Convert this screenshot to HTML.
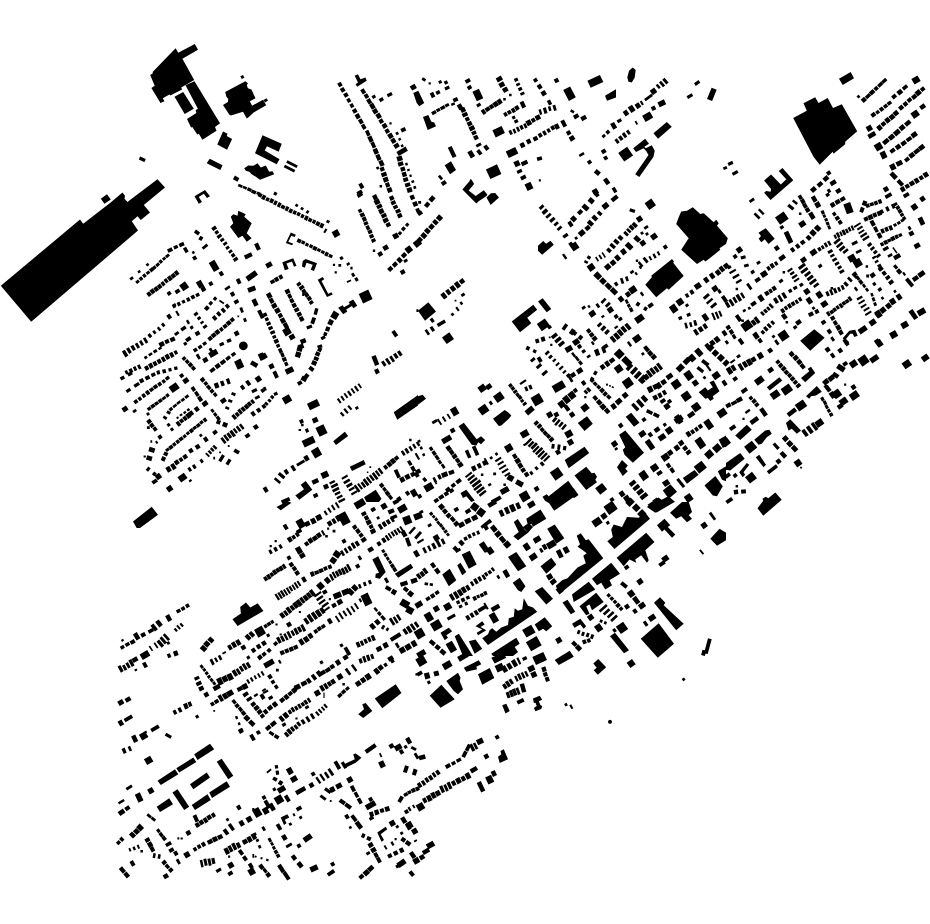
<!DOCTYPE html>
<html><head><meta charset="utf-8"><title>Figure ground map</title>
<style>html,body{margin:0;padding:0;background:#fff}svg{display:block}</style></head>
<body><svg width="930" height="924" viewBox="0 0 930 924" shape-rendering="geometricPrecision">
<rect width="930" height="924" fill="#fff"/>
<path fill="#000" d="M175.6,48.2L178.2,52.7L194.8,44.1L198,49.7L182.4,58.8L194.2,80L181.2,87.6L182.1,89.5L170.3,95.5L169.5,94.4L162.7,98.2L164.5,101.2L160.5,103L151.4,87.9L154.7,85.8L150.2,75L152.9,73.2L152.6,72.1ZM185.5,85.3L194.5,81.2L220,123.2L215,127L216.5,130.8L202.4,139.8L198.8,133.8L197.3,134.5L192.3,127L191.1,127.4L187,119.1L196.4,113L195.6,110.3L197.9,108.8ZM174.5,96.7L183.2,92.1L193.8,108.8L184.7,114.1ZM240.3,76.2L243,75L244.5,77.7L241.8,78.9ZM225.2,92.1L245.3,81.2L247.9,83.3L246.8,85.3L247.9,88.3L251.4,89.5L255.5,98.2L249.8,101.2L252.1,105.8L263,99.7L266.2,105.3L253.6,112.6L249.4,116.4L246.8,118.6L243,111.8L230.9,115.6L229.4,114.8L223,105L227.9,102L228.3,98.9L226.4,96.7ZM263.5,100L266.5,98.2L268,100.5L265,102.4ZM223,131.5L227.6,133.8L226.7,136.1L232.1,139.1L227.1,149.7L217.3,144.4ZM209.7,158.8L222.6,165.3L220.3,170L206.7,163.3ZM140,156.5L145.8,159.5L144.5,161.8L139.2,158.8ZM0.8,285.8L80,219.5L83.2,223.8L110,203L122.5,192.5L125,195.8L124.5,198.8L127.5,202L130,200L157.5,179.2L165,187.5L143.8,205L150,212.5L140.8,220L137.5,216.2L131.8,221.2L138,230.5L31.2,321.8ZM100.8,198.8L107,194.2L110.8,199.5L104.5,203.8ZM140.3,156.4L145.7,158.9L144.2,162.1L138.8,159.6ZM194.5,196.2L205,190L210,196.2L207,198L203.8,193.8L198.8,197L202,202L198.8,203.8ZM129.4,278.2L132.3,276.2L133.9,278.5L131,280.5ZM135.2,281.7L138,279.4L139.9,281.8L137.1,284.1ZM138.6,278.4L141.2,276.3L143.4,279L140.8,281.1ZM142,275.3L144.6,273.2L146.8,275.9L144.3,278.1ZM145.6,272.8L148.5,270.4L150.4,272.7L147.5,275.1ZM148.9,269.6L151.8,267.2L154.2,270.1L151.3,272.5ZM137.3,271.5L139.6,269.8L141,271.9L138.7,273.5ZM145.6,264.5L147.9,262.8L149.4,264.9L147.1,266.5ZM151.9,267.6L154.5,265.3L156.7,267.8L154.1,270ZM155.2,264.9L158.1,262.3L160.1,264.6L157.2,267.2ZM158.4,261.3L160.8,259.2L163.1,261.8L160.7,264ZM161.9,258.7L164.4,256.5L166.3,258.6L163.8,260.8ZM165,256.1L168.1,253.4L170,255.6L166.9,258.3ZM167,249.4L171.5,247.3L173.1,250.7L168.5,252.7ZM173.2,246.5L177,244.8L178.4,247.8L174.5,249.6ZM178.5,243.9L183.2,241.8L184.7,245.2L180.1,247.3ZM182.9,248.5L186,246.7L188.7,251.5L185.7,253.3ZM191.6,252L193.8,250.8L195,253L192.9,254.2ZM192,257.3L195.4,255.4L197.3,258.7L194,260.6ZM146.2,293.4L149.2,291.2L151.9,294.7L148.9,297ZM149.5,290.7L152.6,288.3L155.5,292.1L152.4,294.5ZM153.3,288.4L156.3,286.1L159.1,289.7L156.1,292ZM156.8,286L159.9,283.6L162.5,287L159.4,289.4ZM160.4,283L163,281L165.6,284.5L163.1,286.5ZM163.5,279.9L166.1,277.9L168.8,281.5L166.2,283.5ZM166.8,277.6L169.9,275.2L172.8,279.1L169.8,281.4ZM170.4,275.3L173.6,272.8L176.2,276.2L173,278.7ZM173.7,272.3L176.7,270L179.5,273.7L176.6,276ZM166.5,292.9L169.6,290.7L171.8,293.8L168.7,296ZM174.4,291.1L178.4,288.4L180.6,291.5L176.6,294.3ZM179.2,285.5L185,281.3L189.2,287.2L183.3,291.3ZM195.9,229.6L200.1,232.5L198.1,235.4L193.9,232.5ZM200.4,235.7L203.4,237.4L201.3,241L198.3,239.3ZM201.7,247.6L206.5,243.6L208.3,245.8L203.5,249.7ZM215.1,225.5L217.1,228.4L213.3,231.1L211.2,228.3ZM217.3,229.9L219.2,232.6L216.2,234.7L214.3,231.9ZM220.4,233.4L222.3,236.1L218.4,238.9L216.5,236.2ZM223,237.6L224.7,240L221.4,242.3L219.7,239.9ZM226.1,241.3L227.6,243.6L224.3,245.9L222.7,243.7ZM228.2,245.5L229.9,247.8L226.9,249.9L225.3,247.6ZM231.2,249.2L232.9,251.5L229.7,253.7L228.1,251.4ZM233.6,252.8L235.7,255.7L232.7,257.8L230.6,254.9ZM236.6,256.6L238.5,259.3L234.7,261.9L232.8,259.3ZM208.7,262.9L214.4,259.7L219.6,268.8L214,272ZM218.5,272.7L221.9,270.8L224.1,274.7L220.8,276.6ZM254.1,244.3L257.9,242.5L260.9,249L257.1,250.8ZM243.9,255.6L251,252.3L252.8,256.1L245.7,259.4ZM245.4,276.9L254.8,270.3L258,274.8L248.5,281.4ZM235.8,279.7L239.2,278L241.6,283L238.1,284.6ZM247.2,288.2L254.5,285.6L256.2,290.1L248.8,292.8ZM251.4,300.2L255.5,298.3L258.6,304.8L254.5,306.7ZM257.2,311L260.7,309.4L264.4,317.4L261,319ZM195.8,282.4L200.6,279.7L204.2,285.9L199.4,288.6ZM208.2,283L211.5,281L213.5,284.4L210.1,286.3ZM200.3,288.3L204.2,286.1L206.4,290L202.5,292.2ZM224.4,288.6L229.2,285.3L230.6,287.4L225.8,290.7ZM233.2,291.3L235.3,295.1L231.9,296.9L229.8,293.2ZM237.6,299.1L239.3,302.3L235.3,304.5L233.5,301.3ZM171.9,305.3L174.7,303.9L176.3,307L173.5,308.4ZM176.6,303.1L179.4,301.6L181.1,305L178.3,306.5ZM181.3,300.9L184.2,299.4L185.7,302.4L182.8,303.8ZM185.9,298.6L188.9,297.1L190.7,300.6L187.7,302.1ZM190.3,296.2L193.7,294.5L195.4,298L192.1,299.6ZM195.2,294.2L198.5,292.6L200,295.5L196.7,297.2ZM169.4,313.6L172.1,317.5L169,319.7L166.2,315.8ZM175.2,311.5L177.1,310.4L179.8,315.2L177.9,316.3ZM171.8,305.1L175.1,303.1L176.5,305.6L173.2,307.5ZM121.9,351.5L124.8,349.7L128.4,355.6L125.4,357.4ZM126.1,348.7L128.8,347.2L131.8,352.3L129.2,353.9ZM130.3,346.5L133.2,344.8L135.9,349.4L133.1,351.1ZM134.8,344.1L137.2,342.6L140.1,347.3L137.6,348.8ZM139,341.5L141.3,340.1L144,344.6L141.7,346ZM142.9,338.6L145.3,337.2L148.3,342.3L145.9,343.7ZM147.4,335.1L149.8,333.1L152.3,336.2L149.9,338.2ZM152.2,331.6L154.3,329.9L156.6,332.8L154.5,334.4ZM156.8,328L158.7,326.4L161.4,329.7L159.4,331.3ZM160.9,324.2L163.1,322.5L165.5,325.4L163.3,327.2ZM143.8,357.1L146.3,355.4L147.8,357.7L145.2,359.4ZM148.1,354.3L151.4,352.2L152.8,354.3L149.5,356.4ZM152.8,351.1L156.1,349L157.6,351.4L154.3,353.5ZM157.9,348.3L160.8,346.4L162.2,348.4L159.2,350.3ZM158.4,343.3L163.1,341.1L165,345.3L160.4,347.5ZM164.3,340.5L168.1,338.8L169.7,342.4L165.9,344.2ZM169.5,338.4L173.9,336.4L175.7,340.2L171.2,342.3ZM174,333.7L177.7,330.9L179.5,333.2L175.8,336ZM180.2,328.7L184.6,325.4L186.7,328.2L182.3,331.5ZM185.9,320.8L188,319.6L190.1,323.2L188,324.4ZM189.5,326.9L192.2,325.3L193.8,328.1L191.1,329.7ZM196.7,311.6L198.5,314.1L195.2,316.5L193.4,314ZM199.7,315.9L201.4,318.2L198.5,320.4L196.8,318.1ZM202.8,320.4L204.2,322.3L201.3,324.5L199.9,322.5ZM205.9,324.2L207.7,326.6L204.2,329.1L202.4,326.7ZM203.9,308.4L206.8,305.2L209.8,307.9L206.9,311.1ZM208.3,303.5L210.8,300.8L213.1,302.9L210.7,305.7ZM212.7,298.9L215,296.3L217.4,298.5L215.1,301.1ZM211.8,317.5L214.4,315.1L217.5,318.5L214.9,320.9ZM216,313.4L218.5,311.1L221.5,314.5L219.1,316.7ZM220.5,309.7L223,307.5L226.1,311L223.7,313.2ZM224.7,305.8L227.2,303.5L230,306.6L227.5,308.9ZM219.9,299.7L224.4,302.8L223.4,304.3L218.9,301.2ZM207.3,338.3L210.5,335.6L213,338.7L209.8,341.3ZM210.7,335L214.1,332.3L216.7,335.4L213.3,338.2ZM214.3,331.7L217.7,329L220.5,332.4L217.1,335.2ZM218.9,329L221.6,326.8L223.9,329.7L221.3,331.9ZM222.3,326.1L225.6,323.5L227.9,326.4L224.7,329ZM225.6,322.7L229,319.9L231.8,323.3L228.4,326.1ZM229.6,319.6L232.6,317.1L235,320L232,322.4ZM239.4,307.9L242.1,306.9L243.9,312.1L241.3,313.1ZM243,318.7L245.7,317.7L247,321.3L244.3,322.3ZM237.4,315.4L239.2,315.4L239.2,317.2L237.4,317.2ZM233.6,332.5L237.5,330.3L239.7,334.2L235.8,336.4ZM247.7,345.8L247.5,347.2L246.8,348.4L245.9,349.3L244.7,350L243.3,350.2L242,350L240.8,349.3L239.8,348.4L239.2,347.2L239,345.8L239.2,344.5L239.8,343.3L240.8,342.3L242,341.7L243.3,341.5L244.7,341.7L245.9,342.3L246.8,343.3L247.5,344.5ZM192.7,349.6L196,347.4L198,350.4L194.7,352.6ZM197.5,346.7L200.8,344.5L202.7,347.3L199.4,349.5ZM202.1,343.3L205.3,341.2L207.1,343.8L203.9,346ZM195.7,355L198.2,353.6L200.9,358.3L198.5,359.8ZM202.1,359.3L206.3,356.8L208.6,360.7L204.4,363.2ZM208.1,353.2L215.8,348.7L218.5,353.5L210.9,357.9ZM208.6,349L211.1,347.6L213,351L210.6,352.4ZM219,343.7L223.1,341.8L224.4,344.8L220.3,346.6ZM226.3,340L230.4,338.2L231.8,341.3L227.7,343.1ZM209.2,370.2L213.5,366.9L215.8,369.8L211.4,373.1ZM214.4,365.8L218.4,362.8L221,366.2L217,369.2ZM219.6,362.2L223.9,358.9L226.3,362L221.9,365.3ZM225.2,358.3L229,355.3L231,357.9L227.2,360.9ZM230.7,354.3L234.2,351.7L236.2,354.3L232.7,356.9ZM234.1,361.7L240.5,358.6L244.3,366.7L237.8,369.7ZM252.2,360.4L258.4,364L256.1,367.9L249.9,364.3ZM257.7,354.6L262.6,352.3L265.7,358.8L260.7,361.1ZM184.3,355.9L186.6,358.4L183.8,361L181.5,358.4ZM187.2,359L189.9,361.9L187.2,364.3L184.6,361.5ZM190.7,362L193.3,364.9L190.2,367.7L187.6,364.8ZM193.4,365.6L196.1,368.5L193.4,370.9L190.8,368ZM144,366.9L147.3,365.2L149.4,369.1L146.1,370.9ZM148,364.4L151.3,362.6L153.7,367.1L150.3,368.9ZM152.3,362.4L155.5,360.7L157.7,364.7L154.5,366.4ZM156.5,360.3L159.8,358.5L161.9,362.5L158.6,364.2ZM160.7,357.8L163.7,356.2L166.1,360.7L163.1,362.3ZM164.5,355.4L167.9,353.6L170.3,358.1L166.9,359.9ZM169,353.5L172.2,351.8L174.5,356.3L171.4,358ZM173.5,351.4L176.3,350L178.1,353.5L175.4,355ZM124.5,371.1L127,369.9L128.6,373.4L126.1,374.6ZM128.5,369.4L131.5,368L133.4,372.1L130.4,373.5ZM132.8,367.3L135.4,366.1L137.3,370.1L134.7,371.3ZM137,365.4L139.6,364.2L141.6,368.4L139,369.6ZM156.3,370.9L159.4,370.1L160.3,374L157.2,374.8ZM162,369.7L165.4,368.9L166.4,372.8L163,373.6ZM168.1,368.4L171.1,367.7L171.9,371L168.9,371.8ZM173.8,367.1L177.1,366.3L177.8,369.4L174.6,370.2ZM185,339.2L189.5,336L191.7,339.2L187.2,342.3ZM183.1,343.3L185.7,341.5L187.5,344.1L184.9,345.9ZM194.5,332.7L198.4,330.4L200.5,334L196.6,336.3ZM262.5,135.3L281.7,143.7L278.7,151.7L267,146.3L264.7,150.5L279.5,159.2L276.7,164.2L255,153.3ZM287.5,160.3L297.8,165.5L296.5,168L286.2,162.8ZM285,164.8L295.3,170L294,172.5L283.7,167.3ZM244.2,168.3L248.3,165.5L253.3,165.8L257.5,163.3L260.8,167.5L265.8,165.5L269.2,171.7L272.5,171.3L274.2,174.2L260,179.7L255.8,176.7L251.7,174.2L249.2,171.7L245.8,170.8ZM235,175.6L239.4,178.2L237.4,181.8L232.9,179.2ZM238.8,183.7L242.9,185.5L241.8,188L237.7,186.2ZM243.5,185.7L247.3,187.3L246.2,189.8L242.4,188.1ZM248.1,187.2L252,189L250.8,191.9L246.8,190.2ZM252.2,189.4L256.6,191.3L255.2,194.4L250.9,192.5ZM257.3,191.4L260.7,192.8L259.5,195.5L256.1,194.1ZM259.2,192.5L262.7,194.3L261,197.7L257.5,196ZM263.2,194.5L266.4,196.1L264.3,200.3L261.1,198.7ZM266.9,197L269.9,198.5L268.3,201.8L265.2,200.3ZM271,198L274.3,199.7L272.4,203.6L269,202ZM275,200.2L277.8,201.6L275.9,205.6L273,204.2ZM278.9,202.1L281.7,203.5L279.6,207.8L276.8,206.3ZM282,204.5L285.6,206.2L284,209.5L280.4,207.7ZM286.6,205.9L289.4,207.3L287.4,211.4L284.5,210ZM290.1,208.2L293.2,209.7L291.3,213.5L288.2,211.9ZM294,210.1L297,211.6L295.4,214.9L292.3,213.4ZM297.9,211.8L301,213.3L299.3,216.6L296.3,215.1ZM301.9,213.8L304.7,215.2L303,218.6L300.2,217.2ZM305.8,215.3L308.8,216.8L306.9,220.9L303.8,219.3ZM309.3,217.5L312.6,219.2L311,222.5L307.7,220.9ZM313.5,219.3L316.3,220.7L314.6,224.2L311.8,222.8ZM317.1,221L320.6,222.7L318.7,226.5L315.2,224.8ZM321.2,222.7L324.4,224.3L322.4,228.5L319.1,226.9ZM274.6,191.5L277.5,193L276,195.8L273.2,194.4ZM296.2,203.4L298.6,204.9L297.1,207.2L294.8,205.8ZM301.6,206.8L304,208.2L302.5,210.6L300.2,209.1ZM307.3,209.9L309.5,211.3L307.8,214L305.6,212.6ZM327.2,219.7L330.1,221.1L328.8,223.6L325.9,222.2ZM325.5,228.3L327.4,229.4L325.1,233.3L323.3,232.2ZM238.3,210.8L245.8,214.2L244.2,216.7L251.7,223.3L246.7,233.3L251.7,238.3L246.7,241.7L242.5,235.8L238.3,238L230,226.7L233.3,223.3L230.8,216.7L233.3,214.2L237.5,215.8ZM290.8,232.5L295.8,234.7L294.7,237L291.3,235.8L288.3,241.7L293.3,243.7L292,245.3L285.8,243ZM298.1,238.3L301.8,240.1L300.2,243.5L296.5,241.7ZM302.3,240.2L305.5,241.8L304.1,244.8L300.9,243.2ZM306.2,242.6L309.1,244L307.8,246.8L304.8,245.4ZM310.2,244.1L313.3,245.6L311.9,248.4L308.8,246.9ZM313.9,245.8L317.6,247.5L315.9,251L312.2,249.3ZM318,247.9L321.2,249.4L319.8,252.3L316.6,250.8ZM321.8,249.9L325.1,251.4L323.8,254.3L320.5,252.7ZM325.9,251.6L329,253.1L327.3,256.7L324.2,255.2ZM329.6,253.8L333,255.4L331.6,258.3L328.2,256.7ZM340.6,81.7L342.7,85.4L339.3,87.3L337.2,83.7ZM343.4,87L345.6,90.8L342,92.8L339.8,89.1ZM346.8,92.2L348.8,95.7L345.2,97.8L343.1,94.3ZM349.3,97.7L351.4,101.3L348.2,103.1L346.2,99.5ZM352.4,103L354.4,106.4L351.3,108.2L349.3,104.8ZM355.6,108.1L357.6,111.7L353.9,113.8L351.9,110.2ZM358.4,113L360.8,117.2L357,119.4L354.6,115.2ZM361.4,118.2L363.9,122.5L360.4,124.5L357.9,120.2ZM364,123.6L366.6,128L363.4,129.9L360.8,125.4ZM368.3,129.7L370.6,135L367.3,136.4L365,131.2ZM371.3,135.4L373.7,141.1L369.8,142.8L367.3,137.2ZM373.8,141.6L376.2,147.1L372.8,148.6L370.4,143.1ZM376.8,147.8L379,152.9L374.8,154.7L372.6,149.7ZM379.2,153.7L381.6,159.3L377.7,161L375.3,155.5ZM382.3,159.7L384.7,165L380.6,166.8L378.3,161.5ZM383.6,166.6L384.9,170.2L380.9,171.7L379.6,168ZM385.8,171.6L387.2,175.4L382.2,177.2L380.8,173.4ZM387.4,176.6L388.9,181L384.2,182.7L382.6,178.3ZM388.8,182.1L390.3,186.3L386.4,187.7L384.9,183.5ZM391.1,186.9L392.7,191.5L388.2,193.1L386.5,188.6ZM375.8,167.6L378.3,166.2L379.5,168.4L377.1,169.8ZM354.7,75.8L358,74.2L360.5,79.2L365.5,77.5L366.7,80.8L357.2,86.7L355.5,84.2L358,82.5ZM363.6,88.2L366.2,92.6L362.8,94.6L360.2,90.3ZM367,93.3L369.3,97.1L365.9,99.1L363.6,95.3ZM369.6,98.1L372.3,102.5L368.8,104.6L366.1,100.2ZM372.9,102.6L375.8,107.4L371.9,109.7L369,105ZM376,108L378.5,112.1L374.4,114.5L371.9,110.4ZM379.3,112.6L381.9,116.9L377.9,119.3L375.3,115ZM381.9,118.2L384.1,121.9L380.5,124.1L378.3,120.4ZM385.4,122.7L387.8,126.6L383.8,129L381.5,125.1ZM387.9,128.2L390.1,131.7L386.5,133.9L384.4,130.3ZM391.2,132.4L393.8,136.8L389.8,139.3L387.1,134.9ZM394,137.6L396.5,141.8L392.7,144.1L390.2,139.9ZM397.6,142.6L399.8,146.3L395.5,148.9L393.2,145.2ZM371.5,96.2L374.6,94.4L376.1,97.2L373.1,98.9ZM378.7,99.2L382.3,97.1L384,100.1L380.4,102.2ZM386.7,94.3L391.3,92.1L392.7,95L388,97.2ZM400.3,129L404.7,126.9L406.3,130.4L402,132.4ZM389.4,122.2L391.6,122.2L391.6,124.4L389.4,124.4ZM395.2,132.8L397.7,131.4L399.1,133.9L396.6,135.3ZM398,138.7L400.1,137.5L401.4,139.6L399.2,140.9ZM400.5,145.4L402.6,144.1L403.9,146.3L401.7,147.5ZM396.4,151.9L405.5,146.6L407.9,150.8L398.8,156.1ZM401.5,155.5L403,160L397.8,161.7L396.3,157.1ZM402.6,161.2L403.8,165.1L398.8,166.8L397.5,162.8ZM404.4,166.4L405.6,170.3L401.3,171.7L400.1,167.8ZM405.7,171.4L407.1,175.9L402.9,177.3L401.5,172.8ZM407.4,177.1L408.6,180.7L403.9,182.2L402.8,178.6ZM409.6,182.2L410.7,185.7L405.7,187.4L404.6,183.8ZM411.3,186.9L412.7,191.4L407.8,192.9L406.4,188.5ZM407.2,162.4L408.1,165L405.8,165.8L404.9,163.2ZM409.3,168.6L410,170.6L407.6,171.4L406.9,169.4ZM411.2,174.3L412,176.5L409.9,177.3L409.1,175.1ZM413.7,180L414.5,182.3L411.9,183.2L411.1,181ZM415.6,185.7L416.5,188.3L414,189.2L413.1,186.6ZM358.3,184.4L361.6,182.5L364.4,187.3L361,189.2ZM356.3,192.2L361.1,189.5L363,192.8L358.2,195.5ZM379.6,185.1L382.1,185.1L382.1,187.6L379.6,187.6ZM409.7,86.4L414.5,83.7L416.9,87.9L412.2,90.6ZM413.3,93L418.3,90.8L424.2,103L419.3,106.3L416.7,103ZM422.9,77.3L426.2,79.2L424.8,81.7L421.5,79.8ZM428.6,82.3L430.8,82.3L430.8,84.4L428.6,84.4ZM438.1,81.2L440.9,79.9L442.3,82.8L439.4,84.1ZM443.7,81.7L446.8,80.2L448.3,83.3L445.2,84.8ZM444.3,87.6L448.7,85.5L450,88.4L445.6,90.5ZM435.4,91.8L439.1,90L440.6,93.2L436.9,95ZM429.7,93.5L433.1,91.8L435.3,96.5L431.9,98.2ZM431.1,112.3L435.2,110.1L436.8,113L432.7,115.3ZM435.8,109.6L439.3,107.8L440.7,110.5L437.3,112.3ZM439.8,107.4L444,105.1L445.6,108L441.4,110.2ZM444.6,104.8L448.2,102.9L449.6,105.5L446,107.4ZM452.5,99L456.9,96.9L458.5,100.4L454.1,102.4ZM450.7,103.8L454.2,102.2L455.3,104.5L451.8,106.1ZM456.7,105.4L460.6,103.2L463.3,107.9L459.4,110.2ZM423,117L428.3,115L431.3,121.7L434.3,122.5L436,126.3L427.7,130ZM447.8,147.7L451.6,145.9L456.5,156.3L452.7,158.1ZM444.7,165.3L451,161.3L456,170L450,174.2ZM437.9,176.6L440,174.7L443.1,178.4L441,180.3ZM440.7,182.7L444.6,179.9L447,183.3L443,186.1ZM464.6,80.5L469.1,77.9L471,81.2L466.6,83.8ZM466.7,86.9L470.3,84.8L472.3,88.1L468.7,90.2ZM472.4,91.8L478.9,88.7L483.3,98.2L476.8,101.3ZM476.1,104.7L479.7,102.6L481.3,105.3L477.7,107.4ZM480.7,110.8L483.7,108.8L486.5,112.9L483.5,114.9ZM484.5,108.8L488.3,106.2L490.6,109.6L486.8,112.2ZM488.7,106L492.1,103.8L494.4,107.2L491,109.4ZM492.3,103.4L496.2,100.8L499,105L495.1,107.5ZM496.5,100.7L500,98.3L502.8,102.5L499.3,104.9ZM500.8,75.6L503,79.6L497.9,82.4L495.7,78.4ZM503,81.3L505.4,85.5L500.6,88.1L498.3,83.9ZM506.4,86.5L508.7,90.6L504.2,93.1L501.9,89ZM503.2,97.9L505.8,97.9L505.8,100.4L503.2,100.4ZM509.1,93.8L511.6,93.8L511.6,96.2L509.1,96.2ZM517.2,77.5L518.5,80.4L515.1,81.9L513.8,78.9ZM519.3,82.4L520.4,84.8L516.8,86.4L515.8,83.9ZM521.3,86.8L522.6,89.7L519.1,91.3L517.8,88.3ZM523.8,91.6L524.9,94L521,95.7L519.9,93.3ZM536.1,77.6L538.1,80.8L534.9,82.8L532.9,79.7ZM540.1,83.6L542.7,87.6L539.2,89.8L536.6,85.9ZM544.4,90.1L547,94L542.9,96.6L540.4,92.6ZM553.7,79.5L557.5,77.7L559.3,81.5L555.5,83.3ZM503.1,113.5L505.9,111.8L508,115.3L505.1,117ZM506.8,111.5L509.9,109.7L511.9,113.1L508.8,114.9ZM510.7,109.3L513.7,107.6L516,111.6L513,113.3ZM514.1,107.1L517.6,105L519.8,108.8L516.4,110.9ZM519.6,102.6L523.3,100.8L526.1,106.7L522.3,108.5ZM511.6,116.7L514.4,115.4L515.8,118.3L512.9,119.6ZM513.8,120.7L517.2,119.1L518.6,122L515.1,123.6ZM508.4,130.9L511,129.7L512.9,133.9L510.3,135.1ZM512.4,129.6L514.7,128.6L516.5,132.7L514.3,133.7ZM515.9,127.6L518.2,126.5L520.2,130.9L517.9,132ZM519.3,126L522.1,124.7L523.9,128.7L521.1,130ZM523.2,124.2L525.5,123.1L527.5,127.4L525.1,128.5ZM525.3,121.6L529.7,119.2L532.3,123.9L527.9,126.3ZM530.7,119.2L534,117.4L536,121L532.6,122.9ZM534.5,116.6L538.9,114.3L541.2,118.5L536.8,120.8ZM538.5,109.8L540.8,109.1L542.3,114.2L540,114.9ZM542.8,108.2L545.8,107.3L547.5,113.1L544.5,114ZM547.8,106.7L550.3,105.9L551.6,110.6L549.1,111.3ZM552.4,105.5L555.2,104.7L556.8,110.2L554.1,111ZM546.8,100.9L550,99.4L552.2,104.1L549,105.6ZM519.4,144.1L523.3,142.1L525.5,146.2L521.5,148.3ZM525.8,140.3L529.5,138.4L531.6,142.5L527.9,144.4ZM532.5,137.8L536.5,135.7L538.4,139.4L534.4,141.5ZM537.6,134.2L540.7,132.4L542.9,136L539.7,137.9ZM542,131.8L544.8,130.2L547.1,134.2L544.4,135.8ZM546.3,129.6L549,128L551,131.4L548.3,132.9ZM550.1,126.9L553.2,125.1L555.4,128.8L552.3,130.6ZM553.8,125.1L557.7,123.2L560,127.9L556.2,129.8ZM560.3,121.2L564,119.4L567.1,125.7L563.5,127.5ZM492.4,130.3L501.6,126L504.9,133.1L495.7,137.4ZM505.7,151.5L515.2,147L518.3,153.5L508.8,158ZM485.9,169.5L497,164.3L501.4,173.9L490.4,179ZM536.6,157.6L541.5,156.3L542.4,159.7L537.5,161ZM513.3,162.3L518.3,160L520.7,165L515.7,167.3ZM520.7,162.5L526.6,159.7L528.3,163.5L522.4,166.3ZM516.5,171L521.2,168.8L522.5,171.7L517.8,173.9ZM520,176.9L525,174.6L526.6,178.1L521.7,180.4ZM524.5,184.5L530.4,181.7L533.5,188.2L527.6,191ZM538.8,179.2L540.9,179.2L540.9,181.4L538.8,181.4ZM464.2,106.8L466.2,111L461.9,113.1L459.8,108.9ZM466.6,111.7L468.2,115.2L463.3,117.6L461.6,114.1ZM468.3,116.5L470,120L466.3,121.8L464.6,118.3ZM470.8,120.7L472.7,124.6L468.5,126.7L466.6,122.7ZM473.4,125.1L475.3,129L470.4,131.4L468.5,127.5ZM475.3,130.3L476.8,133.5L472.7,135.5L471.1,132.3ZM477,134.7L478.9,138.6L475,140.5L473,136.6ZM467.3,152.3L471.5,149.9L475.1,156.1L470.9,158.5ZM476.2,151.2L479.2,149L482.5,153.4L479.5,155.6ZM483.2,146.8L486.4,144.4L489.5,148.6L486.3,151ZM475.6,145.1L480.3,142.4L481.8,144.9L477,147.6ZM563.2,90.1L570.1,86.5L575.8,97.2L568.9,100.9ZM587.4,80.7L599.9,74.9L603.3,82L590.7,87.8ZM605,95.8L616,89.2L616,97.5L607,100.8ZM571.3,109.3L574.6,111.2L573.4,113.4L570,111.5ZM572.9,115.8L577.4,113.2L579.4,116.8L575,119.4ZM580.2,117.6L585,114.8L587.1,118.4L582.3,121.2ZM565.8,132.1L569.4,130L571.5,133.6L567.9,135.7ZM568.6,137.5L573,134.9L575.4,139.1L571,141.7ZM578.7,154.8L583.4,152L584.7,154.2L579.9,157ZM586.8,161.7L590,159.5L592.2,162.6L589,164.8ZM596.7,169L600.9,172.5L598,176L593.8,172.5ZM603,180L606.6,177.4L610.4,182.7L606.7,185.3ZM600.7,150.7L604.6,148.4L606.7,152L602.8,154.3ZM603,157.3L606.4,155.4L608.3,158.7L605,160.6ZM601.5,136L604.1,133.7L606,135.9L603.4,138.2ZM605.3,132L608,129.6L610.4,132.3L607.7,134.7ZM610.1,124.1L614,121.9L617.2,127.5L613.3,129.8ZM591.6,190.7L596.3,187.9L599.1,192.7L594.3,195.4ZM611.6,188.5L614.6,186.7L617.4,191.5L614.4,193.3ZM632.7,67.5L635.7,70L634.7,77.5L631.8,82.5L628.5,81.7L627.3,77.5L629,70.8ZM622.7,111.9L626.3,109.5L629.3,114L625.6,116.4ZM627.7,107.5L632,104.7L635.6,110.3L631.4,113.1ZM634.5,104.7L638.4,102.2L641.3,106.6L637.4,109.2ZM639.8,101.6L641.6,100.5L643.9,104.4L642,105.5ZM644.1,98.9L651.3,93.8L652.9,96.1L645.7,101.2ZM649.7,90.7L654.2,87.5L657.3,92L652.8,95.2ZM655.7,85.4L657.6,83.8L660.8,87.4L658.9,89ZM659,82.6L661,80.8L665.1,85.4L663,87.2ZM662.2,79.7L664.5,77.7L668.6,82.5L666.3,84.5ZM657.4,102.4L663.9,99.3L666.2,104.3L659.7,107.3ZM650.7,107.3L654.5,105.6L656.3,109.3L652.5,111.1ZM642.1,115.8L649.7,111.4L653.3,117.6L645.6,122ZM634.6,121.6L636.2,120.7L638.1,124L636.5,125ZM616.6,120.6L620.5,118.3L622.1,121.1L618.2,123.3ZM614.4,140L616.8,138.2L619.7,142.3L617.3,144ZM618,137.2L620.8,135.3L623.6,139.1L620.8,141.1ZM621.8,133.9L624.2,132.1L627.3,136.4L624.8,138.2ZM625.9,131.3L628.2,129.6L630.9,133.4L628.6,135.1ZM653.5,133.3L666.8,122L671.8,126.7L658,138.7ZM633.2,148.3L645.2,138.7L649,143.7L644.3,146.7L645.7,148.3L651.8,145.3L654.7,150.8L653.5,156.7L639.3,177L635.2,174.2L648.5,155L646,150.8L643.5,148.3L636,152ZM618.2,153L627.1,146.8L633.1,155.4L624.2,161.6ZM694,83.3L698.5,80.1L700.3,82.7L695.8,85.9ZM686.5,96.3L691.6,93.3L693.2,96.1L688.1,99ZM711.6,87.7L716.7,89.7L712.1,101L707,98.9ZM727.5,163L732.2,160.8L733.5,163.7L728.8,165.9ZM722.8,167.5L726.3,165.9L727.5,168.5L724,170.1ZM731.7,173L737,169.9L738.6,172.7L733.3,175.7ZM839,78.7L850.7,72L854,78.3L842.7,85ZM793.2,118L806.8,110.8L803.5,103.3L815.2,97.2L818.5,103L827.7,98L833,108L841.8,104.2L857.2,131.3L845.2,141.7L845.2,144.2L833.5,153.8L832.7,151.7L819.7,164.7L813.5,156.7ZM856.5,96.3L858.8,94.7L860.5,97L858.2,98.6ZM860.7,99.8L864,96.7L867,99.9L863.7,103ZM864.8,96.7L868.8,93L871.2,95.5L867.2,99.2ZM868.8,92.6L872.6,89L875.4,92L871.7,95.6ZM873.4,88.5L876.3,85.7L878.9,88.4L876,91.2ZM877.1,85.2L881,81.5L883.4,84L879.5,87.7ZM881.2,81.4L885.1,77.8L887.4,80.2L883.5,83.8ZM870.3,114.5L873.9,111.7L876.4,115L872.8,117.8ZM875.2,112L878,109.8L880.1,112.4L877.2,114.6ZM878.8,108.7L881.9,106.4L884.4,109.6L881.2,112ZM882.9,106L886.1,103.6L888.2,106.4L885,108.8ZM886.6,103L890.1,100.4L892.2,103.2L888.7,105.8ZM891.1,96.4L894.6,93.5L897.1,96.4L893.6,99.4ZM896.3,92L900.3,88.7L903.3,92.3L899.3,95.6ZM901.8,87.8L906,84.2L908.3,87L904.1,90.5ZM911.3,79L917.5,75.4L920.7,81L914.5,84.6ZM876.1,127.3L879.6,124.3L882.9,128.2L879.4,131.2ZM880.4,123.8L883.8,120.9L886.5,124.1L883.1,127ZM884.1,119.8L887.7,116.8L890.9,120.7L887.4,123.7ZM888.5,116.8L892.3,113.6L895.5,117.2L891.6,120.5ZM892.5,113.1L896.3,109.8L899.3,113.4L895.5,116.6ZM898,107.5L901.5,104.5L904.3,107.8L900.8,110.8ZM902.5,103.8L905.7,101L908.4,104.2L905.2,106.9ZM906.5,99.9L909.9,97L912.4,100L909,102.9ZM911,96.7L914.7,93.5L917.5,96.8L913.7,100ZM914.5,92.5L918.6,89L922,92.9L917.8,96.4ZM919.8,89L923,86.3L925.6,89.3L922.3,92ZM865.6,127.3L870.3,124.6L873.1,129.3L868.3,132.1ZM867.3,135L874.1,131.1L876.4,135L869.6,138.9ZM910.4,113.6L916.2,109.4L920,114.8L914.1,118.9ZM919.1,106.4L923.6,103.2L926.2,106.9L921.7,110.1ZM882,142L886.9,137.7L889.8,141.1L884.9,145.3ZM887.7,137.3L892.2,133.4L895.3,136.9L890.8,140.8ZM892.8,132.7L897.8,128.4L901,132.2L896.1,136.4ZM898.5,127.4L902.6,123.9L905.8,127.7L901.7,131.2ZM904,123.5L908.7,119.5L911.5,122.7L906.8,126.8ZM873.6,145.4L879.8,141.8L883.4,148L877.2,151.6ZM879.5,152.9L884.5,150.6L887.5,157.1L882.5,159.4ZM889.3,150.7L893.5,147.6L895.8,150.7L891.6,153.8ZM894.7,146.5L898.8,143.5L901.5,147.3L897.4,150.3ZM900.3,143.1L904.7,139.9L907.1,143.2L902.7,146.4ZM905.6,139.3L910.2,135.9L912.5,139L907.9,142.3ZM910.4,134.6L915.2,131.1L918,135L913.2,138.5ZM889,165.4L893.9,163L896.6,168.4L891.7,170.8ZM895.4,162.4L901,159.7L903.1,163.9L897.6,166.7ZM904,159.4L907.7,156.4L910.1,159.4L906.3,162.4ZM908.2,155.1L912.5,151.7L915.4,155.4L911.1,158.8ZM913.1,151.5L917.8,147.8L920.4,151.1L915.6,154.7ZM917.9,147.2L922.5,143.7L925.4,147.4L920.8,151ZM892.8,171.4L897.9,176.8L894.4,180L889.4,174.6ZM899.4,179L904.1,184L901.2,186.8L896.5,181.7ZM899.6,188.2L903.3,186L905.9,190.3L902.2,192.5ZM904.4,185.6L908,183.4L910.1,186.9L906.5,189.1ZM908.7,182.8L912.9,180.2L915.2,184L911,186.5ZM913.5,179.5L917.1,177.4L919.9,181.8L916.2,184ZM918.5,177L921.9,174.9L924.1,178.5L920.7,180.6ZM922.5,173.8L926.6,171.4L929.2,175.7L925.1,178.1ZM882.7,188.3L886.9,185.9L889.3,190.1L885.1,192.5ZM809.9,189.4L813.9,185.9L817,189.5L813,193ZM816.5,184.5L820.6,180.9L823.4,184.1L819.3,187.7ZM822.4,178.7L826.5,175.1L829.5,178.5L825.4,182.1ZM825.9,172.6L829.3,170.2L831.5,173.4L828.1,175.8ZM834.6,179.3L836.9,183L831.7,186.2L829.4,182.4ZM839.4,187.8L841.6,191.5L837.3,194.1L835.1,190.4ZM826.7,190L829.4,188.4L831.3,191.7L828.6,193.3ZM331.6,232.3L337.2,229.1L340.4,234.7L334.8,237.9ZM356.5,194.5L361.3,191.8L363.2,195.1L358.4,197.9ZM361,208.4L362.5,211.7L359.2,213.1L357.7,209.9ZM363.6,212.2L365.2,215.7L361,217.6L359.4,214.1ZM365.3,216.2L367.1,220.2L363.4,221.9L361.6,217.9ZM367.2,221L368.6,224.1L364.7,225.8L363.3,222.7ZM368.6,224.9L370.5,228.9L367.1,230.4L365.3,226.4ZM371.2,229.2L372.7,232.6L368.9,234.4L367.4,230.9ZM372.7,233.7L374.2,237L370.4,238.7L368.9,235.4ZM374.7,238L376.1,241.1L372.3,242.9L370.9,239.7ZM376,194L378.1,198.5L374.2,200.4L372,196ZM378.5,198.5L380.6,202.9L375.7,205.3L373.5,200.9ZM381,203.6L382.6,207L377.7,209.3L376.1,206ZM382.5,207.9L384.6,212.3L380.1,214.5L378,210.1ZM385.4,212.7L387.1,216.2L382.4,218.5L380.7,215ZM387.2,217.3L389,221.1L384.2,223.4L382.4,219.6ZM389.4,222.1L391.1,225.6L387.1,227.5L385.4,224ZM392.8,195.3L394.6,199L390.7,200.9L388.9,197.1ZM394.7,199.9L396.3,203.3L392,205.4L390.4,202ZM396.8,204.4L398.3,207.6L394.2,209.6L392.7,206.4ZM399.5,208.5L401,211.7L396.5,213.8L395,210.6ZM400.9,212.8L402.7,216.6L398.6,218.6L396.8,214.8ZM413.4,194.4L415.2,198.6L411.2,200.3L409.4,196.1ZM416.4,200.9L418.3,205.2L414,207.1L412.1,202.7ZM418.8,207.8L420.6,212.1L417.1,213.6L415.2,209.3ZM392,235.1L396.8,232.4L399.3,236.9L394.6,239.6ZM397.6,233.5L399.9,230.9L402.3,233L400,235.6ZM400.9,229.1L403.4,226.3L406,228.6L403.5,231.5ZM404.9,225L407.2,222.4L409.5,224.4L407.2,227ZM382.2,246.9L386.7,244.3L389.1,248.5L384.6,251.1ZM377.2,253.3L381.1,251.1L383.2,254.7L379.3,256.9ZM372.8,249.4L375.2,249.4L375.2,251.9L372.8,251.9ZM387.1,269.1L390.5,265.8L393.5,268.8L390.1,272.1ZM391.8,264.8L395.2,261.3L398.1,264.3L394.7,267.7ZM396.3,259.7L399.3,256.7L402.9,260.4L399.9,263.4ZM400.8,255.6L404.2,252.1L407.2,255.1L403.8,258.5ZM404.4,249.1L409.3,245.2L413.2,250.1L408.3,254ZM412.7,243.1L418.3,238.6L422.2,243.5L416.6,248ZM399.7,271.3L403.6,269.1L405.7,272.7L401.8,274.9ZM403.3,260.4L406.6,258.5L408,260.9L404.7,262.9ZM265.1,264.3L270.5,261.2L272.9,265.4L267.5,268.5ZM282.3,262.3L293.2,258.2L296.5,265.7L294,266.8L292,261.5L286.5,263.5L288.7,269L284.8,270.3ZM302.7,261L305.7,259L317,263.2L314,271L310.7,269.8L312.7,264.8L306.5,262.7L304.8,267.7L302,266.5ZM317.7,279.8L322.7,277L324.3,279.3L321.5,281L328.2,293.7L331.5,292.3L332.7,294.5L327,297ZM339.3,257.6L342.1,256L343.7,258.7L340.9,260.3ZM332.9,263.8L335.1,263.8L335.1,265.9L332.9,265.9ZM338.4,263.9L341.2,263.9L341.2,266.8L338.4,266.8ZM346.2,263.7L348.9,262.1L350.2,264.3L347.4,265.9ZM334.6,271.2L336.8,271.2L336.8,273.4L334.6,273.4ZM350.4,266.8L352.6,266.8L352.6,269.6L350.4,269.6ZM351,273.9L353.4,272.5L355.4,275.8L352.9,277.2ZM354.2,278.5L356.9,276.9L358.8,280.2L356.1,281.8ZM346.6,281.3L350.7,279.4L351.4,281L347.3,282.9ZM358.7,294L368.2,289.5L372.6,299L363.1,303.5ZM338.2,307.8L342.7,305.3L344,307.3L349.8,304L348.7,302L353.2,299.5L357.3,305.7L353.2,308.2L352,306L346.2,309.5L347.3,311.5L343.2,314.3ZM269.7,281.3L273.6,279.1L275.3,282.2L271.4,284.3ZM273.8,278.5L277.3,276.5L279.4,280.3L275.9,282.3ZM278.2,276.1L281.4,274.3L283.4,278L280.2,279.8ZM299.7,281.5L301.6,284.2L298,286.7L296.2,284ZM302.8,284.8L304.7,287.6L300.5,290.4L298.6,287.6ZM304.5,288.5L306.8,291.9L303.5,294.2L301.2,290.8ZM307.1,292L309.5,295.5L306.1,297.8L303.7,294.3ZM310,295.7L312.1,298.9L308.6,301.3L306.4,298.1ZM312,300L313.9,302.8L310.5,305L308.6,302.2ZM302.2,292.1L304.1,292.1L304.1,295.9L302.2,295.9ZM288.6,288.4L290.6,292.3L286.5,294.4L284.4,290.5ZM290.3,293.2L292.4,297.3L289.1,298.9L287,294.9ZM292.6,297.9L294.6,301.8L291.1,303.6L289.1,299.8ZM295.1,302.5L297.1,306.3L293.3,308.2L291.3,304.5ZM298,307.1L299.7,310.4L295.4,312.6L293.7,309.3ZM300.4,311.5L302.2,315.1L298.2,317.2L296.3,313.6ZM302.4,315.9L304.6,320.1L300.8,322.1L298.6,317.8ZM315.2,307.9L318.5,308.8L316.8,315.1L313.5,314.2ZM312.5,317L316.1,318.3L313.9,324.4L310.3,323.1ZM306.2,326.5L311.4,324.6L312.5,327.5L307.3,329.4ZM270,292.1L272.6,296.7L268.4,299L265.9,294.4ZM272.1,297.5L274.7,302L271,304.1L268.5,299.5ZM275.4,302.6L277.5,306.6L273.1,309L271,305.1ZM278.5,307.2L280.9,311.5L276.4,314L274,309.7ZM281.1,312.7L283.2,316.3L279.5,318.4L277.5,314.7ZM283.7,317.3L286.2,321.7L282,324L279.6,319.6ZM286.4,322.1L289,326.9L285.3,329L282.6,324.2ZM282.1,330.2L288.3,326.6L291.9,332.8L285.7,336.4ZM288.4,336.3L293.2,333.5L295.6,337.7L290.8,340.5ZM266,312.3L267.5,315.7L264.2,317.1L262.8,313.7ZM267.8,316.9L269.2,320L265.8,321.5L264.5,318.4ZM269.9,321.3L271.2,324.3L267.3,326L266,323ZM271.9,325.7L273.2,328.6L269.2,330.4L267.9,327.4ZM274.1,330L275.4,332.9L271.1,334.8L269.8,331.9ZM275.3,334.7L276.6,337.6L273.2,339.1L272,336.2ZM277.6,338.6L279.2,342.1L275,343.9L273.5,340.3ZM279.1,343.5L280.4,346.5L277.1,347.9L275.8,344.9ZM333.8,310.6L339.4,313.9L335.9,320.1L330.2,316.8ZM329.6,318.8L334,320.9L331.7,325.8L327.3,323.8ZM326.5,326.2L330.4,327.6L328.9,331.8L324.9,330.4ZM324.3,331.8L327.6,333L326.4,336.2L323.1,335ZM320.4,337.4L324.3,335.2L325.9,337.9L322,340.2ZM299.8,340L305,338.1L306.5,342.3L301.4,344.2ZM297.6,345.3L302.8,343.4L304.4,347.7L299.2,349.6ZM317,345.8L321.6,344.2L322.6,347.2L318.1,348.8ZM391.4,332.1L394.5,329.9L398.3,335.2L395.1,337.4ZM416.4,309.2L418.3,309.2L418.3,312.1L416.4,312.1ZM462.4,189.5L469.2,181.4L470.8,178.7L473,181.9L474.1,184.1L468.7,190.6L475.7,196L483.8,190.3L487.3,194.4L486.5,196L479,200.9L476.3,203.6ZM486.5,197.6L490.9,193.3L495.2,193.1L499,197.6L490.6,205ZM416.4,240.1L419.7,236.5L423.1,239.7L419.8,243.3ZM420.2,235.5L423.4,232L427.4,235.7L424.2,239.2ZM423.9,230.7L426.9,227.5L430.9,231.1L427.9,234.4ZM428.1,226.9L431.5,223.3L434.9,226.5L431.6,230.1ZM432.1,222L434.9,218.9L438.8,222.5L435.9,225.6ZM435.8,217.9L439.1,214.3L443.2,218L439.8,221.6ZM423.9,205.3L427.2,201.5L430.4,204.3L427.2,208.1ZM428.4,199.6L432.1,195.2L435.6,198.2L431.9,202.5ZM418.2,200.9L421.1,200.9L421.1,203.8L418.2,203.8ZM416.9,213L420.9,210.2L423.1,213.4L419.1,216.1ZM542.6,204.3L544.5,206.5L540.7,209.9L538.7,207.7ZM545.9,208.3L548.3,211L543.8,214.9L541.5,212.3ZM549.9,212.8L551.7,214.8L547.1,218.8L545.3,216.8ZM553.5,216.7L555.6,219L551.2,222.9L549.1,220.6ZM557,221.2L558.9,223.3L555.3,226.5L553.4,224.4ZM560.6,225.6L562.4,227.6L558.5,231.1L556.6,229ZM562.3,235.9L566.8,232.8L568.7,235.4L564.2,238.5ZM567.4,222.8L570.5,220.6L573.6,225.2L570.5,227.4ZM568.2,243.7L571.3,241.5L574.5,246L571.3,248.2ZM538,245.7L543.3,241L546,243.7L550.5,240.7L553.8,244.8L542.2,254.8L538,250.7ZM562,254.8L564,253.4L567.4,258.2L565.3,259.6ZM440.3,294.8L443.8,292.1L447.5,296.9L444.1,299.6ZM445.1,291.1L448.2,288.7L451.6,293.1L448.6,295.5ZM449.4,287.6L453,284.9L456.4,289.2L452.8,292ZM453.8,283.7L457.2,281L461.1,286L457.6,288.7ZM458.8,280.9L462.4,278.1L465.3,281.8L461.6,284.6ZM460.6,294.8L463.8,292.6L465.4,294.9L462.2,297.1ZM459.4,302.6L461.4,301.2L463.3,303.7L461.2,305.2ZM454.6,299.8L456.4,299.8L456.4,301.6L454.6,301.6ZM455.3,307.8L457.1,306.5L459.7,310.2L457.9,311.5ZM450.5,314L452.8,312.4L454.5,314.7L452.2,316.3ZM418,310.7L428.3,302.3L436,311.5L425,320.7ZM429.6,319.4L432.2,317.6L434.8,321.3L432.2,323.1ZM436.6,323.9L444.3,319.4L446,322.5L438.4,326.9ZM424.6,330.6L426.8,329.1L430.1,334L427.9,335.5ZM429.6,327.6L432.2,325.9L435.1,330.3L432.5,331.9ZM442,337.4L449.3,332.3L454,339L446.7,344ZM511.7,321.5L533.3,304.8L537.2,309.8L527.2,317.7L531.3,323.2L520,332.3ZM538,301.5L542.7,298.2L551.3,309L546.7,312.3ZM536.8,324L544.8,318.4L549.9,325.6L541.8,331.3ZM547.3,327.3L550.4,325.1L552,327.4L548.9,329.6ZM534.9,339.4L538.4,338.4L539.6,342.4L536.1,343.4ZM540.5,337.4L544.3,336.3L545.6,340.8L541.8,341.9ZM555.8,332.4L558.1,335.3L553,339.3L550.8,336.5ZM559.8,336.2L561.9,338.9L556.3,343.4L554.2,340.7ZM563,340.5L565.1,343.1L559.9,347.3L557.8,344.6ZM565.3,323.2L568.2,325.2L564.4,330.8L561.6,328.8ZM572.1,328.3L575.7,330.8L572.4,335.6L568.8,333.1ZM548.8,336.4L550.6,336.4L550.6,338.3L548.8,338.3ZM550.2,343.8L552.4,343.8L552.4,345.9L550.2,345.9ZM676.2,224L678.7,217.3L681.2,211.5L687,210.7L692.8,207.3L700.3,214L703.7,213.2L713.7,222.3L716.2,219.8L718.7,223.2L717,225.7L727.8,238.2L726,244L719.5,248.2L720.3,249.8L707.8,259.8L705.3,261.5L703.7,259.8L697,264L681.2,249.8L688.7,238.2ZM645.3,284.8L652,277L651.2,275.7L672,259L674,261.5L673.2,262.7L683.7,276L668.7,289.8L667,288.2L656.2,297.3ZM644.6,203.3L651.3,198.6L656,205.3L649.3,210ZM569.9,218.7L573.4,215.3L577.2,219.1L573.8,222.6ZM576.9,212.4L580.4,208.9L583.3,211.8L579.8,215.3ZM581.4,207L584.5,203.4L589.6,207.9L586.5,211.5ZM587.5,200.7L590.7,197L594.9,200.8L591.8,204.4ZM569.5,245.6L575.4,241.5L579.5,247.4L573.6,251.5ZM574.2,237.8L576.5,236.2L578.1,238.5L575.8,240.1ZM601.4,205.8L606.2,201.8L609.6,205.9L604.7,209.9ZM610.5,199L616.1,194.4L618.8,197.7L613.2,202.3ZM594.3,194.4L597.5,192.2L599.7,195.3L596.5,197.5ZM577.7,232.9L582.4,228.9L585.9,233L581.2,237ZM584.3,227.9L588.1,224.7L590.9,227.9L587.1,231.2ZM586.8,222.8L589.6,219.6L594.1,223.7L591.2,226.8ZM591.3,217.7L594.1,214.6L598.3,218.4L595.5,221.5ZM596.7,212.9L599,210.4L602.6,213.7L600.3,216.2ZM630.3,208.2L635.5,210.1L634.4,213.1L629.2,211.2ZM635.7,218.3L640.2,215.2L643.3,219.7L638.8,222.8ZM623.2,232.9L625.2,230.8L629,234.4L627,236.5ZM626,229.8L627.9,227.9L631.6,231.4L629.7,233.3ZM628.5,227.1L630.9,224.6L634.7,228.3L632.4,230.7ZM631.5,224.5L633.9,221.8L638,225.6L635.5,228.2ZM643.5,227.5L647.2,224.9L648.8,227.2L645.1,229.8ZM640,232.8L642.3,231.2L644,233.5L641.7,235.1ZM645,233.7L647.3,232L649,234.3L646.7,236ZM649.9,236L654.9,232.5L658.1,237L653.1,240.5ZM639.2,242.5L643.5,239.6L646.4,243.8L642.2,246.8ZM662.7,246.5L665.8,244.3L668,247.5L664.9,249.7ZM606,250.1L608.4,247.4L611.9,250.5L609.5,253.2ZM609.3,245.3L611.6,242.8L616,246.7L613.8,249.3ZM613.1,241.3L615.5,238.5L619.7,242.2L617.2,245ZM617.4,237.7L620,234.8L623.6,238L621,240.9ZM619.9,251L623.8,248L627.1,252.4L623.2,255.4ZM624.7,245.5L628.3,241.7L633.6,246.9L630,250.6ZM633.2,238.4L636.5,234.9L641.2,239.4L637.9,242.8ZM583.8,262.2L585,259.9L588.4,261.7L587.2,264ZM586.6,258L588.1,255.2L591.2,256.9L589.7,259.7ZM595,257.5L596.5,256.6L599.1,260.8L597.7,261.7ZM598.3,255.4L599.9,254.5L602.5,258.6L600.9,259.6ZM601.5,252.9L602.8,252L606,257.1L604.7,257.9ZM586.6,266.5L592,262.8L595.7,268.1L590.4,271.9ZM603.9,266.8L608.1,263L611.6,267.1L607.4,270.8ZM609.5,262.6L613.3,259.3L616.6,263L612.8,266.3ZM614,257.2L617.4,254.2L621.2,258.6L617.8,261.6ZM637.7,262.8L639.6,261.2L643.5,265.8L641.5,267.4ZM642.5,258.6L644.7,256.8L648.7,261.6L646.5,263.4ZM648.4,256.7L650.2,255.8L652.3,259.7L650.5,260.6ZM652.4,254.4L654.4,253.3L656.7,257.6L654.7,258.7ZM656.6,252.1L658.5,251.1L660.5,254.8L658.7,255.8ZM635.8,259.4L638.2,259.4L638.2,261.9L635.8,261.9ZM629.6,271.9L632.8,269.7L634.4,272.1L631.2,274.3ZM634.4,273L636.1,271.7L638,274.3L636.2,275.6ZM638.5,266.7L640.3,265.4L642.1,268L640.4,269.3ZM597.3,271.3L602.2,276.2L598.1,280.3L593.2,275.4ZM602.8,277.2L606.9,281.2L603.1,285L599,281ZM607.8,282.2L612.4,286.8L609,290.2L604.4,285.6ZM613.1,287L618.1,292L614.6,295.6L609.6,290.6ZM613.8,283.3L616.4,281.5L618.6,284.7L616,286.5ZM619.9,278.6L622.4,277.7L624.3,283.3L621.7,284.1ZM624.9,276.9L627.4,276.1L628.9,280.7L626.5,281.5ZM628,289.2L633.9,285.1L637.6,290.4L631.8,294.6ZM639.7,292.9L641.7,291.4L644.3,295.1L642.3,296.6ZM617.5,298.4L621.1,295.5L624.5,299.8L620.9,302.7ZM624.7,293.8L628.3,290.9L631.4,294.8L627.8,297.7ZM627.1,299.1L629,302.9L626.5,304.1L624.6,300.3ZM629.5,303.5L631,306.6L628.3,308L626.7,304.9ZM631.7,307.1L633.7,311L630.6,312.5L628.7,308.6ZM637.5,301.5L640.5,303.4L638.4,306.8L635.4,304.9ZM645,306.3L647.9,308.1L646,311.3L643,309.4ZM647.3,305.3L651.8,302.2L654,305.3L649.5,308.5ZM634,318.5L641.3,313.5L645,318.8L637.7,323.9ZM581.3,307.6L584.4,305.4L586,307.7L582.9,309.9ZM587.3,306L589.1,304.7L590.7,307L588.9,308.3ZM588.2,313.2L593.3,309.6L596.4,314.2L591.4,317.7ZM604.7,297.7L606.6,299.6L602.4,303.9L600.5,301.9ZM608.9,301.8L610.9,303.8L606.8,307.8L604.8,305.8ZM606.5,309.2L611,306L614.2,310.5L609.7,313.7ZM595.4,304.6L597.7,303L600.3,306.7L598,308.3ZM600.9,316.5L603.5,314.7L604.8,316.5L602.2,318.3ZM613.5,316L616.6,313.8L618.8,317L615.7,319.2ZM617.9,318.8L621,316.6L622.8,319.2L619.7,321.4ZM600.2,322L602.3,324L598.8,327.6L596.8,325.6ZM603.9,325.2L606.4,327.6L602.6,331.5L600.2,329.2ZM607.7,329L610,331.2L606.4,335L604.1,332.7ZM614,327.5L617.1,325.3L618.4,327.1L615.2,329.3ZM609.5,337.7L612.2,335.5L616.6,340.8L613.9,343.1ZM613,334.8L616.2,332.2L620.6,337.5L617.4,340.1ZM616.6,331.4L619.7,328.8L624,334L620.9,336.6ZM620.3,327.9L623.1,325.6L627.4,330.8L624.6,333.1ZM624.3,325.1L627.1,322.8L631.7,328.2L628.8,330.6ZM589,328.1L591.5,331.5L588.5,333.8L585.9,330.4ZM592.1,331.9L594.6,335.1L591.1,337.7L588.7,334.5ZM595.2,335.4L597.8,338.8L594.1,341.7L591.5,338.3ZM574.2,330.2L577.4,332.7L574.9,336L571.7,333.5ZM580.3,334.6L583.3,336.9L580.7,340.4L577.6,338ZM571.9,341.6L577.3,337.9L580.4,342.4L575.1,346.1ZM576.8,346L580,343.8L582.2,347L579,349.2ZM590.8,342.2L592.6,341L594.8,344.1L593,345.4ZM602,346.5L606.5,343.4L608.7,346.5L604.2,349.6ZM626.9,342.5L628.9,341L632.1,345.5L630.1,347ZM631.9,338.3L638.3,333.8L642.1,339.1L635.7,343.6ZM643.1,347.5L646.3,345.3L647.5,347.1L644.4,349.3ZM668.8,307.3L674.1,303.6L678.6,310L673.3,313.7ZM675.5,301.2L680.8,297.5L684.5,302.8L679.2,306.5ZM684.7,294.6L687.4,292.9L689.5,296.4L686.8,298.1ZM689.2,291.1L692.2,289.2L694.6,293.1L691.5,295ZM693.6,285.6L698.9,281.9L702.1,286.4L696.7,290.1ZM702.9,279L706.4,276.5L709.6,281L706.2,283.5ZM708.8,274.8L712.2,272.3L715.5,277L712.1,279.4ZM714.6,272L718.1,269.1L721.5,273.3L718,276.1ZM718.4,268L721.6,265.4L725.3,269.9L722.1,272.5ZM722.8,265.6L726.6,262.6L729.7,266.3L725.9,269.4ZM684.9,305.1L687.5,303.3L689.1,305.6L686.5,307.4ZM678,317.2L681.4,315.8L682.6,318.9L679.2,320.3ZM686.3,314L689.8,312.6L691,315.6L687.5,317ZM684.2,323.1L686.5,322.4L688.1,328L685.7,328.7ZM689,322.5L691.3,321.9L692.6,326.7L690.3,327.3ZM693.2,320.6L695.9,319.9L697.4,325.2L694.6,326ZM708,292.9L710,295.2L704.8,299.7L702.8,297.4ZM711.8,297.7L713.4,299.6L707.5,304.6L705.9,302.7ZM715.4,302L717.3,304.2L711.9,308.8L710,306.6ZM711.2,288L715.7,284.8L718.8,289.3L714.3,292.5ZM717.2,290.7L719.6,289.1L721.8,292.3L719.4,293.9ZM720.9,297.2L724,295L728.1,300.8L725,303ZM701.3,315.8L705.3,313L709.4,318.9L705.4,321.7ZM711.2,313.3L713.1,312.6L716,319.4L714.1,320.2ZM714.7,312.5L716.8,311.6L719.6,318.2L717.5,319.1ZM718.2,311.3L720.1,310.5L722.5,316.1L720.6,316.9ZM693,330.6L695.9,328.8L699.2,333.9L696.3,335.7ZM697.5,328.3L701.1,326L703.9,330.4L700.3,332.6ZM702.3,325L705.2,323.1L708.1,327.6L705.1,329.5ZM704.3,345.3L707.6,342.8L711.2,347.4L707.9,350ZM709,342.3L712.6,339.5L715.8,343.5L712.2,346.3ZM713.4,338.7L717.2,335.7L720.8,340.2L716.9,343.2ZM721.4,332L724.5,329.8L727.6,334.3L724.5,336.5ZM748.8,200.8L753.3,197.6L754.9,199.9L750.4,203.1ZM753.5,214.3L755.4,212.4L760.6,217.5L758.7,219.5ZM757.9,210.1L759.6,208.4L764.7,213.4L762.9,215.2ZM775,217.6L783.6,211.5L788.7,218.8L780.1,224.8ZM779.4,227.1L782.5,224.9L784.3,227.5L781.2,229.7ZM758.5,232.7L765.7,228.2L774.7,238.7L768.5,244L764.7,239.3L761.3,242.3L758.7,238.7L761,236ZM783.7,232.8L788.1,230.8L793.3,241.8L788.9,243.9ZM773.7,247.6L777.4,245L780,248.7L776.3,251.3ZM735.5,249.2L740,246L743.2,250.5L738.7,253.7ZM732.5,256L735.6,253.8L737.8,257L734.7,259.2ZM745.1,255.2L746,258.2L741.3,259.6L740.4,256.6ZM748.2,263.5L749.1,266.3L744.6,267.6L743.7,264.8ZM727,267.3L730.1,265.1L731.7,267.4L728.6,269.6ZM787.2,206.2L789.2,203.8L794.5,208.1L792.4,210.6ZM791.9,201.3L793.5,199.4L798,203.1L796.4,205ZM800.8,194.4L803.1,198.2L799.9,200.1L797.6,196.3ZM803.4,198.3L805.8,202.3L802.2,204.5L799.9,200.5ZM805.5,202.8L807.9,206.7L804.5,208.7L802.1,204.8ZM808.2,207L810.5,210.7L806.8,212.9L804.6,209.2ZM798.9,212.4L801.4,212.4L801.4,214.9L798.9,214.9ZM808.1,213.7L812,211.4L815.6,217.6L811.7,219.9ZM798.1,223.6L803.4,219.9L806.6,224.4L801.2,228.1ZM814.6,195.3L817.6,200.6L813.8,202.8L810.8,197.5ZM818.6,201.1L821.3,205.9L816.8,208.5L814.1,203.7ZM823.5,209.9L825,213.4L822.1,214.7L820.5,211.2ZM825,214L826.3,217L823.7,218.1L822.4,215.2ZM827,217.7L828.2,220.5L825.3,221.8L824.1,219ZM828.4,221.4L829.8,224.5L826.9,225.8L825.5,222.6ZM829.6,225.1L831.2,228.6L828.7,229.7L827.2,226.2ZM825.2,194.6L828.3,192.4L830.1,195L827,197.2ZM829.6,204.1L833.5,201.8L835.8,205.8L832,208ZM834.4,201.2L838.7,198.7L840.9,202.5L836.6,205ZM839.5,198.7L843.9,196.1L845.9,199.5L841.5,202.1ZM834.6,211.6L836.7,214.6L834,216.5L831.9,213.5ZM838,215.4L840.2,218.4L836.6,220.9L834.5,217.8ZM840.6,219.6L842.9,222.9L839.7,225.1L837.5,221.8ZM843.3,204.5L850.1,202L853.7,211.9L846.9,214.3ZM859.3,211.6L861,206.8L864.7,208.2L862.9,212.9ZM861.7,204.7L863.4,200.3L867.4,201.8L865.7,206.2ZM865.4,204.4L868.7,203.3L870,206.9L866.6,208ZM869.3,203.2L873.1,201.9L874.2,205.3L870.4,206.5ZM873.6,201.8L877,200.6L878.3,204.3L874.9,205.5ZM877.7,200L880.9,198.9L882.3,202.9L879,204ZM863.3,217.9L867.1,216.3L868.7,220.1L865,221.8ZM867.4,216L871.7,214.1L873.6,218.4L869.3,220.3ZM872.2,213.8L875.8,212.3L877.5,216.2L873.9,217.7ZM876.5,212L880.4,210.3L882.3,214.6L878.4,216.3ZM860.1,222.2L861.1,223.8L854.6,227.9L853.6,226.3ZM862,225.5L863.1,227.3L857.9,230.6L856.7,228.8ZM863.7,229.2L864.7,230.8L859.2,234.2L858.2,232.7ZM866.2,232.1L867.4,234L861.1,237.9L859.9,236ZM868.4,235.2L869.7,237.3L863.4,241.2L862.1,239.2ZM873.1,219.7L875.8,224.8L872.2,226.7L869.5,221.6ZM876.1,226.1L878.8,231.2L875.7,232.8L873,227.7ZM880.1,232.2L882.6,237L879,238.9L876.4,234.1ZM805.5,237.6L808.4,234.7L811.8,238L809,240.9ZM809.2,232.7L812.7,229L816.8,233L813.3,236.7ZM813.8,227.9L817.3,224.4L821.6,228.5L818.1,232.1ZM789.8,249L792.7,246.9L795.4,250.5L792.6,252.7ZM794.9,245.4L797.8,243.2L800.6,247L797.7,249.1ZM799.7,242L803.2,239.4L805.7,242.7L802.2,245.3ZM833.4,235.2L835.3,234.3L837.2,238.2L835.2,239.1ZM835.7,233.2L838.1,232.1L840.4,237L838.1,238.1ZM839.1,232.1L841,231.2L843,235.4L841.1,236.3ZM841.4,230.4L844,229.2L846.4,234.2L843.8,235.4ZM844.9,229.6L847.1,228.6L848.9,232.4L846.7,233.5ZM847.6,227.8L849.7,226.8L851.6,230.7L849.5,231.7ZM850.5,226.1L852.4,225.2L854.6,229.8L852.7,230.7ZM809.3,251.9L814.6,248.2L817.7,252.7L812.4,256.5ZM817.1,248.3L819.9,246.7L821.8,250.1L819.1,251.7ZM820.7,246.2L822.9,244.9L824.8,248.2L822.6,249.5ZM823.6,243.5L825.8,242.2L828.2,246.3L826,247.7ZM827.1,241.8L829.2,240.6L831.7,244.8L829.6,246ZM839.2,237.7L841,239.8L835.1,244.7L833.3,242.6ZM841.7,241.4L843.4,243.4L837.5,248.2L835.9,246.2ZM843.7,245.3L845.5,247.4L840.4,251.7L838.6,249.5ZM847.1,248.2L848.8,250.2L844.1,254.1L842.4,252.1ZM856.7,240.3L858,243L852.6,245.7L851.3,243ZM860.8,248.9L862,251.3L856.7,253.9L855.5,251.5ZM870.3,242L872.3,244.4L868.9,247.3L866.8,244.9ZM873.3,245.9L875.1,248L871.5,250.9L869.8,248.9ZM875.9,249.7L877.8,252L874.7,254.6L872.8,252.3ZM879.3,253.2L881.1,255.2L877.5,258.3L875.8,256.2ZM754.3,279.8L758.8,276.7L761,279.8L756.5,283ZM759.8,273.6L765.1,269.9L768.2,274.4L762.9,278.1ZM766.1,267.4L768.7,265.7L771.1,269.3L768.5,271ZM769.4,264.7L772.4,262.7L775.1,266.7L772.1,268.7ZM773.9,262.6L776.3,261L778.5,264.2L776,265.9ZM778.2,257.7L783.5,254L786.1,257.6L780.8,261.4ZM756.1,262.6L759.3,260.4L760.9,262.7L757.7,264.9ZM750.2,271.8L753.3,269.6L755.1,272.2L752,274.4ZM799.9,259.4L804.4,256.3L807.1,260.2L802.6,263.4ZM804.2,262.8L806,265.2L799.7,270L797.9,267.6ZM806.8,266.9L808.5,269.2L802,274.1L800.2,271.8ZM809.4,270.8L811.1,273.1L805.7,277.2L804,274.9ZM812,274.6L813.9,277.1L808.4,281.3L806.5,278.7ZM815.2,278.2L817,280.5L810.6,285.3L808.8,283ZM817.8,282.3L819.4,284.4L814.6,288.1L813,286ZM791.7,267.5L792.9,269.3L788.2,272.4L787,270.7ZM793.5,271L794.8,273L790.9,275.6L789.5,273.6ZM796.4,273.9L797.8,275.8L792.7,279.2L791.4,277.2ZM798.6,277.4L799.7,279.1L794.7,282.5L793.5,280.8ZM817.7,265.8L820.8,263.6L822.6,266.2L819.5,268.4ZM782.6,271.1L785.1,271.1L785.1,273.6L782.6,273.6ZM778.4,280.9L781.8,278.5L783.6,281.1L780.2,283.5ZM798.9,284.6L802,282.4L803.8,285L800.7,287.2ZM831.7,248.9L833.2,251.5L828.8,254L827.3,251.4ZM833.7,253.4L834.9,255.5L831,257.8L829.7,255.7ZM836,257.3L837.3,259.5L833.1,262L831.8,259.8ZM838.4,261.3L839.7,263.5L835.7,265.9L834.4,263.6ZM840.7,265.2L842.1,267.6L838.6,269.7L837.2,267.2ZM843.2,268.9L844.7,271.6L840.5,274L839,271.4ZM847.1,257.1L853.3,253.6L856.6,259.2L850.4,262.8ZM852.3,261.7L859.1,257.8L863,264.6L856.2,268.5ZM865.6,265.2L868.1,265.2L868.1,267.8L865.6,267.8ZM866.2,274.6L869.1,274.6L869.1,277.4L866.2,277.4ZM869.4,274.7L873.4,271.9L875.9,275.6L872,278.4ZM872.1,283.6L874.7,281.8L876.5,284.4L873.9,286.2ZM875.4,255.4L876.6,257.3L873,259.4L871.8,257.6ZM877.7,259.6L878.9,261.6L875.5,263.6L874.4,261.6ZM880.3,263.5L881.7,265.9L878.4,267.8L877,265.5ZM815.2,293.7L819.7,290.6L823.5,295.9L818.9,299.1ZM825.2,292.1L827.9,290.9L829.9,295.5L827.2,296.6ZM829,290.1L831.4,289L833.7,294.4L831.4,295.4ZM832.8,288.8L835.4,287.7L837.6,292.5L834.9,293.7ZM837,287.7L839.3,286.7L841.2,291L838.9,292.1ZM840.5,285.8L843,284.7L844.9,289.1L842.5,290.2ZM843.2,283.4L845.4,281.2L848.9,284.7L846.7,286.9ZM847,278.6L848.9,276.6L852.8,280.6L850.9,282.5ZM851.5,274.5L853.2,272.8L857.6,277.2L855.9,279ZM855.3,271.3L857.8,274.7L855.2,276.6L852.7,273.2ZM857.8,275.3L860.5,279L858,280.8L855.3,277.2ZM860.9,279.2L863.6,282.8L860.8,284.9L858.1,281.3ZM864,283.4L866.3,286.5L864.1,288.2L861.8,285ZM867,287.4L869.2,290.4L867,292L864.8,289ZM830.6,286.9L833.1,286.9L833.1,289.4L830.6,289.4ZM853.7,287.9L855.7,286.4L858.3,290.1L856.3,291.6ZM735.3,268.7L736.4,270.6L730.1,274.3L729,272.3ZM738.5,273.4L739.7,275.5L733.4,279.2L732.2,277.1ZM741,278.8L742.1,280.7L736.7,283.9L735.5,281.9ZM746.1,284.4L748.4,282.8L752.5,288.6L750.2,290.2ZM735.6,287.8L738.1,287.8L738.1,290.2L735.6,290.2ZM724.8,303.2L727.5,301.5L730.6,306.6L727.9,308.3ZM728.3,300.3L730.8,298.8L734.7,305.1L732.2,306.6ZM732.2,298L734.5,296.5L737.8,302L735.5,303.4ZM735.5,295.4L738.2,293.7L742.1,300.1L739.3,301.8ZM740,293.6L742.1,292.3L745.2,297.5L743.1,298.8ZM750.1,303.7L754.7,300.5L756.9,303.7L752.3,306.8ZM757.2,296.9L761.1,294.1L764.8,299.4L760.9,302.2ZM764,292.6L767.6,290.4L769.8,294.1L766.3,296.2ZM768.2,290.1L771,288.4L773.1,292L770.3,293.6ZM771.4,287.6L774.7,285.6L777,289.3L773.7,291.3ZM787.9,290.2L790.9,288.5L792.6,291.5L789.6,293.2ZM792.7,287.6L796.2,285.6L797.7,288.2L794.2,290.2ZM803,290.8L807.5,287.7L810.7,292.2L806.2,295.3ZM742.4,310.2L745.1,308.8L746.2,311L743.5,312.4ZM747.6,307.6L749.9,306.4L751.1,308.7L748.7,309.9ZM760,312.8L761.9,311L765,314.2L763.1,316ZM763,310.7L765.2,308.6L768.1,311.6L765.9,313.6ZM766.1,307.9L767.9,306.2L770.8,309.2L768.9,310.9ZM768.4,304.8L770.2,303L774,306.9L772.1,308.7ZM773,299L776,297.2L779,302.2L775.9,304ZM777.3,296L779.6,294.6L783.4,300.9L781,302.3ZM781.2,293.6L784,291.9L787.3,297.4L784.5,299.1ZM780,309.8L783,307.9L785.4,311.7L782.5,313.6ZM783.7,307.2L786.1,305.6L788.3,309.1L785.9,310.6ZM786.9,304.9L789.7,303.1L792.2,306.9L789.4,308.8ZM790.5,303L793.5,301.1L795.7,304.6L792.8,306.5ZM794.5,300.8L796.8,299.3L799.1,302.8L796.7,304.3ZM797.8,298.4L800.3,296.8L802.5,300.2L800,301.8ZM805.5,299.4L809.4,296.6L813.2,301.9L809.2,304.7ZM820.1,303.6L825.4,299.9L828.6,304.4L823.2,308.1ZM825.8,312.7L828.3,311L830.9,314.9L828.5,316.6ZM829.2,311.6L832.2,309.5L834.3,312.5L831.3,314.6ZM832.2,309.1L835,307.2L837.1,310.3L834.4,312.2ZM835.4,306.7L837.8,305L840,308.2L837.6,309.8ZM838.4,304.6L840.9,302.9L843.7,306.8L841.2,308.5ZM841.4,302.7L844.3,300.7L846.4,303.7L843.5,305.7ZM844.7,300.8L847.6,298.8L849.6,301.7L846.7,303.8ZM847.4,297.6L849.9,295.9L852.6,299.9L850.1,301.6ZM861.7,295.4L862.9,297.4L857.6,300.6L856.4,298.6ZM864.2,299.3L865.1,300.9L859,304.6L858.1,303ZM865.8,303.4L866.8,305.1L861.4,308.4L860.3,306.7ZM868.8,306.7L869.9,308.3L864.2,311.8L863.2,310.1ZM870.8,310.6L871.8,312.3L865.8,315.9L864.8,314.3ZM872.6,292.7L873.8,296L871.4,296.8L870.2,293.6ZM874.2,297L875.6,300.8L872.9,301.7L871.6,298ZM875.9,301.9L877.1,305.2L874.3,306.2L873.1,302.9ZM874.2,312.6L878.7,309.5L882.8,315.4L878.3,318.5ZM868.4,321.9L873.8,318.2L876.9,322.7L871.6,326.5ZM857.5,330.1L864.7,325L867.9,329.6L860.6,334.6ZM807.9,313.5L812.3,311.3L814,314.9L809.6,317ZM814.2,310.5L817.7,308.8L819.5,312.4L815.9,314.2ZM811.5,307.8L813.8,306.2L815.5,308.5L813.2,310.1ZM740.3,324.9L748.3,319.2L753.4,326.5L745.3,332.1ZM750.5,321.5L753.5,319.2L756.9,323.7L753.9,326ZM753.5,318.3L756.2,316.2L760.5,322L757.8,324ZM734.9,316.3L738,314.1L742.1,320L739,322.2ZM741.4,319.4L743.9,319.4L743.9,321.9L741.4,321.9ZM780.9,315.5L784.6,313L787.8,317.5L784.1,320ZM785.6,321.1L788.1,321.1L788.1,323.6L785.6,323.6ZM795,322.1L799.5,318.9L802,322.6L797.5,325.8ZM792.7,327.1L795.8,324.9L797.6,327.5L794.5,329.7ZM760.4,331.9L762.7,329.7L765.3,332.5L763,334.7ZM763,328L765.3,325.9L768.7,329.5L766.4,331.7ZM766.5,324.9L768.6,322.9L772,326.5L769.9,328.5ZM770.2,322.1L772.3,320.2L775.2,323.3L773.1,325.3ZM820.6,322.1L824.2,319.5L826.4,322.6L822.8,325.2ZM833.5,315.4L835.5,318.7L831.9,320.9L829.9,317.6ZM835.8,320.1L838.1,324L834.9,325.8L832.6,321.9ZM839.1,324.3L841.6,328.5L837.6,330.9L835.1,326.6ZM841.4,329.3L843.8,333.5L840.3,335.5L837.9,331.4ZM842.7,338.2L849.3,330.7L855.2,329.8L857.7,335.7L854.3,337L852.7,333.7L850.2,333.7L846,339L849.3,342.3L846.8,344.8ZM826.5,330.8L829.6,328.6L832.2,332.2L829.1,334.4ZM830.2,338L832.5,336.3L835.1,340L832.8,341.7ZM842.4,340.5L845.5,338.3L849.6,344.2L846.5,346.4ZM777.3,334.6L784.6,329.5L789.7,336.8L782.4,341.8ZM800.2,340.7L814.3,329.3L824.7,337.7L810.2,350.7ZM752.2,334.4L756.1,331.6L759.8,336.9L755.9,339.7ZM757.3,339.9L760.4,337.7L763,341.4L759.9,343.6ZM771.5,336.2L773.8,334.5L775.5,336.8L773.2,338.5ZM774.1,340.9L776.4,339.3L779.6,343.8L777.3,345.4ZM729,324.6L731.2,328L727.6,330.3L725.4,326.9ZM731.8,328.9L734.3,332.8L731,334.9L728.5,331ZM734.2,333.8L736.7,337.7L734,339.5L731.5,335.6ZM737.6,339.9L740.7,337.7L744.4,343.1L741.3,345.3ZM724.6,341.6L726.9,340L729.1,343.1L726.8,344.7ZM873.8,341.1L877.8,338.3L881.5,343.6L877.6,346.4ZM764.1,180.5L771.1,174.4L780.8,184.4L786.3,179.2L778.7,171.1L782.5,167.9L793.3,180.3L770.6,200L764.1,192.7L766.2,190.9L770.6,191.7L771.1,189ZM884.5,195.7L890.5,192.3L892.4,195.5L886.3,199ZM902.8,194.9L907.9,192L909.8,195.2L904.7,198.2ZM919.2,198.3L923.1,195.5L925.9,199.5L921.9,202.2ZM879.6,210.5L882.4,209.2L884.1,212.8L881.3,214.1ZM885.1,207.4L887.8,206L889.9,210.4L887.1,211.7ZM890.9,204.8L893.5,203.5L895.5,207.7L892.9,209ZM896.3,202L897.9,204.6L894.6,206.6L893,204ZM898.6,205.1L900.4,208.1L897.1,210.2L895.2,207.2ZM900.7,208.5L902.7,211.8L899.3,213.9L897.3,210.6ZM902.7,212.5L904.4,215.2L901.2,217.1L899.6,214.5ZM904.7,216.1L906.5,218.8L903.6,220.6L901.9,217.8ZM910.3,206.3L915.1,202.9L918.5,207.7L913.7,211.1ZM917.6,218.4L921.9,216.4L925.3,223.7L921,225.7ZM880.2,229.5L883.3,228.3L885,232.5L881.9,233.7ZM884.2,227.9L887.3,226.6L889,230.8L885.9,232ZM888.3,226.2L891.4,225L893.2,229.4L890.1,230.7ZM892.9,224.5L895.7,222.9L897.2,225.5L894.4,227.1ZM896.6,222.4L899.5,220.7L901,223.3L898.1,225ZM900.2,220L903.3,218.2L904.7,220.8L901.6,222.6ZM907.5,227.1L909.8,225.8L911.6,229L909.3,230.4ZM908.2,232.8L912.4,230.4L914.6,234.2L910.4,236.6ZM879.8,243.3L882.8,241.9L884.4,245.2L881.4,246.6ZM883.1,241.3L886.5,239.7L888.3,243.5L884.9,245.1ZM886.9,239.8L890.3,238.2L891.7,241.1L888.3,242.8ZM890.2,237.5L893.8,235.8L895.6,239.6L892.1,241.3ZM894.3,235.8L897.3,234.3L899,237.8L896,239.3ZM898,234.4L901.2,232.9L902.6,235.8L899.5,237.3ZM913.4,245.1L918.5,242.2L920.9,246.3L915.8,249.3ZM882.4,248.8L887.5,245.8L889.1,248.5L884,251.5ZM887.3,255.5L891.5,253.1L892.8,255.4L888.6,257.8ZM893,256.4L899,252.9L901.2,256.7L895.2,260.2ZM892.3,247.9L893.6,247L897.6,252.7L896.3,253.6ZM895.4,264.2L898.3,267.5L895.9,269.6L893,266.3ZM899,268.3L902.3,272.1L899.2,274.8L895.9,271ZM902.1,273L904,271.7L906.1,274.8L904.3,276ZM905,280L907.9,277.6L914.1,285L911.2,287.4ZM911.8,278.3L916.7,274.9L919.2,278.5L914.3,281.9ZM917.2,274.1L922.9,270.1L925.7,274.1L920,278.1ZM881.4,265.8L883.8,268.9L879.9,271.8L877.6,268.7ZM884.5,270.4L887,273.8L884,276L881.4,272.7ZM888.6,274.8L890.7,277.6L887,280.4L884.9,277.6ZM891.9,279.2L894.2,282.3L890.3,285.3L888,282.2ZM877.3,289.2L880.4,287L882.3,289.7L879.2,291.9ZM893.1,291.1L895.3,289.5L896.8,291.7L894.6,293.3ZM874,313.6L877.5,310.8L881.2,315.4L877.7,318.2ZM879.1,309.7L883.3,306.2L886.8,310.5L882.5,314ZM884.9,305.5L888.8,302.3L892.1,306.4L888.2,309.6ZM888.7,300.5L893.3,297.4L896.6,302.4L892,305.4ZM895.4,295.8L899.4,293.2L902.7,298.1L898.8,300.8ZM880.6,297.8L882.8,296.3L884.3,298.4L882.2,300ZM908.4,311.8L912.4,309L918.2,317.4L914.3,320.1ZM916.5,311.3L923.5,307.3L926.4,312.4L919.4,316.4ZM900.2,324L906.2,320.5L909.2,325.7L903.1,329.2ZM889,333.5L895,330L898.3,335.7L892.2,339.2ZM874.8,342.1L879.7,338.7L883.7,344.4L878.8,347.8ZM901.5,363.6L908.1,358.9L912.2,364.7L905.5,369.3ZM920.7,357.4L926.4,353.4L929.8,358.3L924.1,362.3ZM119.7,377.6L123.5,375.5L125.1,378.5L121.4,380.6ZM127,373.4L131.1,371.2L132.9,374.3L128.7,376.6ZM125.5,390.5L129.5,387.8L131.3,390.5L127.3,393.1ZM133.4,385.1L138.2,382L140,384.7L135.2,387.8ZM138.9,379.7L142.6,377.9L144.4,381.6L140.7,383.4ZM144.6,377L148.6,374.9L150.4,378.5L146.3,380.5ZM150.6,374.1L154.4,372.2L156,375.3L152.2,377.2ZM133.2,401.2L136.3,398.9L138.5,401.9L135.4,404.2ZM137.5,398.2L140.1,396.3L142.3,399.3L139.7,401.2ZM141.2,395.1L144,393L146.3,396.2L143.5,398.3ZM144.9,392L147.8,389.8L150.4,393.4L147.5,395.5ZM148.8,389.5L152.2,387L154.2,389.8L150.9,392.2ZM152.6,386.5L156.1,383.9L158.3,387L154.9,389.5ZM157.1,383.7L160,381.5L162.3,384.5L159.3,386.7ZM161.3,380.9L164,378.9L166.1,381.7L163.4,383.7ZM164.8,377.9L168.1,375.5L170.1,378.3L166.8,380.7ZM146.7,408.4L149.7,406.3L151.7,409L148.7,411.1ZM150.1,405.8L153.5,403.4L155.6,406.2L152.1,408.7ZM153.9,403.3L157.2,400.9L159.2,403.6L155.9,406ZM157.7,400.5L160.8,398.2L162.8,401L159.7,403.3ZM161.4,398.3L164.9,395.7L166.5,398L163,400.5ZM165.2,394.9L167.8,393L169.8,395.8L167.2,397.7ZM168.5,387.3L175.7,382.2L179.8,388.1L172.6,393.1ZM182.2,380.3L186.7,377.1L189.5,381.1L185,384.2ZM179,375.2L182.1,373L184.3,376.1L181.2,378.3ZM121.4,408.6L125.9,405.4L128.6,409.4L124.1,412.6ZM132.3,410.9L135.4,408.7L137,411.1L133.9,413.3ZM146,413.7L148.3,412L150,414.3L147.7,416ZM149.6,418.6L152.1,421.8L148.6,424.5L146.2,421.3ZM152.3,422.6L154.8,425.7L151.5,428.2L149.1,425.1ZM155.2,426.2L157.8,429.5L154.8,431.8L152.3,428.5ZM146.9,426.2L149.8,426.2L149.8,429.1L146.9,429.1ZM157.3,436.5L160.5,434.3L162.7,437.5L159.5,439.7ZM155,441.8L156.7,440.6L158.4,442.9L156.6,444.1ZM150.4,440.2L152.2,440.2L152.2,442.8L150.4,442.8ZM155.3,448.4L154,453L148.3,451.3L149.7,446.8ZM152.6,456.8L151.3,461.2L145.9,459.6L147.3,455.2ZM143.6,455.4L145.8,455.4L145.8,457.6L143.6,457.6ZM148.4,466.6L150.7,468.5L148,471.7L145.7,469.8ZM154.3,471.4L156.7,473.5L154.3,476.3L151.9,474.3ZM154.5,475.8L159,472.7L162.2,477.2L157.7,480.3ZM151.3,481.5L155.8,478.4L158,481.5L153.5,484.6ZM162.6,417.8L164,415.5L167.5,417.6L166,419.9ZM166.1,412.7L167.7,410.2L171,412.3L169.5,414.8ZM168.5,409L171.4,406.8L173.3,409.2L170.5,411.5ZM172.3,406.2L175.7,403.5L177.3,405.5L173.9,408.2ZM176.2,403L179.6,400.3L181.1,402.2L177.7,404.9ZM180.4,399.9L183.5,397.4L185.2,399.7L182.2,402.1ZM184.3,396.8L187.5,394.3L189.3,396.5L186.1,399.1ZM168.9,422.7L170.8,425.2L168.3,427.1L166.4,424.6ZM172.3,427.2L174.1,429.7L171.7,431.5L169.8,429ZM175.5,422.8L178.2,420.7L181.4,424.7L178.6,426.8ZM178.9,420.5L181.8,418.2L184.3,421.3L181.4,423.6ZM182.2,417.7L185,415.5L187.8,419.1L185.1,421.3ZM185.1,414.9L188.3,412.4L191.5,416.4L188.4,418.9ZM187.9,412.8L191.5,410.3L194.2,414.1L190.6,416.6ZM193.7,408.6L197.2,406.1L199.9,409.8L196.4,412.3ZM176.1,417.6L177.9,416.3L179.1,418L177.3,419.3ZM179.3,414.9L181.5,413.3L182.8,415L180.6,416.6ZM183,412.4L185.2,410.8L186.6,412.6L184.3,414.3ZM186.4,409.7L188.8,408L190.2,410L187.9,411.6ZM201.4,403.3L205.9,400.1L208.6,404.1L204.1,407.2ZM193.6,386.1L196.1,389.9L193.1,391.9L190.6,388.1ZM196.8,390.8L199.7,395.1L196.8,397L194,392.7ZM200.2,395.6L203.2,400.1L199.9,402.3L197,397.8ZM160.7,460.1L162.5,456.1L166.1,457.7L164.4,461.7ZM163.1,454.8L164.6,451.4L168.4,453.1L166.9,456.5ZM165,449.8L168,447.4L169.9,449.7L166.8,452.1ZM168.2,447.1L171.4,444.5L173.7,447.3L170.5,449.9ZM171.9,444.1L174.6,442L176.7,444.7L174.1,446.8ZM175.2,441.3L177.9,439.2L180.2,442L177.5,444.2ZM178.3,438.8L181.7,436.2L183.9,439L180.6,441.6ZM182.4,436.1L184.9,434.1L186.9,436.5L184.3,438.6ZM185.6,433.2L188.2,431.1L190.1,433.5L187.5,435.6ZM188.7,430.5L191.7,428.1L194.1,431.1L191.1,433.5ZM192.1,427.9L195.2,425.4L197.1,427.7L194,430.3ZM195.7,425.3L198.8,422.8L200.9,425.4L197.7,427.9ZM199.1,422.3L201.9,420.1L203.9,422.6L201.1,424.8ZM202.5,419.4L205.1,417.3L207.5,420.4L205,422.4ZM165.3,468.1L169.1,465.8L171.9,470.4L168.1,472.7ZM170.1,465L173.5,462.9L176.7,468.1L173.2,470.2ZM173.7,461.8L177.2,459.3L179.8,463L176.2,465.5ZM178.4,459.1L181.3,457L183.6,460.2L180.7,462.3ZM182.2,456.2L185.7,453.8L188.1,457.2L184.6,459.7ZM188,450L191.5,447.8L193.8,451.4L190.2,453.6ZM194.6,446L198.3,443.7L200.7,447.5L197,449.8ZM198.9,435L201.2,433.4L202.8,435.7L200.5,437.3ZM202.9,438.5L206,436.3L208.8,440.2L205.6,442.4ZM212.1,432.1L215.7,429.5L217.9,432.6L214.3,435.2ZM187.3,468.4L189.8,466.8L192.1,470.5L189.7,472.1ZM191.9,465.7L194.4,464.1L196.7,467.7L194.2,469.3ZM199.4,460.2L201.7,458.6L203.9,461.8L201.6,463.4ZM177.4,477.3L183.8,472.8L187.6,478.1L181.2,482.6ZM188.6,480.6L190.9,479L192.1,480.7L189.8,482.4ZM165.8,488L170.3,484.8L173.5,489.3L169,492.5ZM133,521.5L151.7,506.8L158,514.8L140,528L136.7,528ZM202.9,376.8L205.5,380L202.3,382.7L199.7,379.5ZM206,380.9L208.4,383.7L205.6,386.1L203.2,383.2ZM208.6,384.4L211.6,388L208.9,390.3L205.8,386.7ZM212.2,388.4L214.6,391.2L211.6,393.7L209.3,390.9ZM215.2,392.1L217.7,395.2L215.2,397.3L212.6,394.2ZM213.7,383.7L217.7,382.3L219.5,387.2L215.5,388.7ZM219.9,381.5L223.2,380.4L224.9,385.2L221.7,386.4ZM225.8,379.2L228.9,378.1L230.8,383.5L227.7,384.6ZM219.8,400.4L224.3,397.2L226.9,400.9L222.4,404.1ZM224.9,408.5L225.9,406.1L229.6,407.7L228.7,410ZM227.8,401.4L228.8,399L232.7,400.6L231.7,403ZM231,394.6L232.1,392L236,393.6L234.9,396.2ZM239.9,386.6L242.7,384.6L245.3,388.3L242.5,390.3ZM245.1,381.8L248.1,379.7L251.3,384.2L248.3,386.3ZM254.5,378.3L259,375.2L262.2,379.7L257.7,382.8ZM256.1,387.9L257.6,390.8L252.6,393.2L251.2,390.4ZM258.9,395.1L260.2,397.6L255.8,399.8L254.5,397.3ZM260.2,389.9L262.6,388.3L264.8,391.4L262.4,393ZM231.3,416L233.7,414L237.2,418.1L234.7,420.1ZM234.6,413.8L237.1,411.7L240,415.1L237.5,417.2ZM237.2,410.6L239.6,408.6L243,412.7L240.6,414.7ZM240.3,408.4L242.9,406.2L246.1,409.9L243.5,412.1ZM243.6,406.2L246.4,403.8L249.4,407.3L246.6,409.7ZM246.6,403.4L249.2,401.2L252.2,404.6L249.5,406.9ZM250.1,401L252.4,399.1L255.2,402.4L252.9,404.3ZM250.3,412.9L253.3,410.8L256,414.7L253.1,416.8ZM255.8,409.6L259,407.4L261.5,410.9L258.3,413.1ZM261.3,405.8L264.3,403.8L266.5,407L263.6,409ZM212.4,408.4L214.7,411.3L212.4,413.1L210.2,410.1ZM215.3,412.1L217.6,415.1L215.2,417L212.9,414ZM218.2,415.5L220.9,418.9L218.1,421.1L215.5,417.6ZM217.3,419.4L221.1,420.8L219.6,424.7L215.8,423.3ZM223.6,421.7L228.1,423.4L226.4,427.8L222,426.1ZM220.3,438.6L222.5,436.9L226.6,442.4L224.4,444ZM223.1,435.8L225.2,434.3L229.5,440L227.4,441.6ZM226.3,434L228.6,432.2L232.2,436.9L229.8,438.7ZM229.3,431.8L231.8,429.8L236,435.4L233.4,437.3ZM232.7,429.3L234.6,427.9L238,432.3L236.1,433.8ZM235.7,427L237.7,425.5L241.4,430.4L239.4,431.9ZM238.9,424.9L240.9,423.4L244.6,428.3L242.6,429.8ZM252.7,426.4L256.4,423.9L259,427.6L255.3,430.1ZM244.4,435.5L248.4,432.7L250.6,435.9L246.6,438.6ZM235.2,448.5L240,451.2L238.1,454.5L233.3,451.8ZM227.8,445.1L229.6,445.1L229.6,446.9L227.8,446.9ZM205.1,453.8L206.5,452.4L210,455.9L208.6,457.3ZM207.7,451.6L209.3,450L212.3,453L210.6,454.6ZM209.9,448.9L211.6,447.3L214.6,450.3L213,451.9ZM212.3,446.4L214,444.7L217.5,448.1L215.8,449.8ZM222.1,454.3L224.9,456.1L221.1,462.2L218.3,460.4ZM228.7,458.6L231.5,460.3L228.3,465.4L225.5,463.7ZM213.3,456.8L215.1,456.8L215.1,459.6L213.3,459.6ZM219.1,451.4L220.9,451.4L220.9,453.2L219.1,453.2ZM281.2,347.8L283,351.9L279.7,353.4L277.9,349.2ZM283.2,352.3L284.9,356.3L281.9,357.7L280.1,353.6ZM285.5,356.8L287.1,360.5L283.3,362.1L281.7,358.5ZM287,361.5L288.6,365L285.5,366.4L284,362.8ZM284.6,369.7L292,366.3L294.4,371.3L287,374.7ZM303,347.1L301.6,352L296.4,350.5L297.8,345.6ZM301.4,352.7L299.9,358L294.8,356.6L296.3,351.3ZM322.3,348.5L320.7,352.3L317.1,350.7L318.7,347ZM320.5,353.1L318.9,356.7L314.7,354.9L316.4,351.2ZM319.2,358L317.7,361.3L313.3,359.4L314.7,356ZM317.3,362L315.5,366.1L311,364.1L312.8,360.1ZM314.6,368.8L312.3,371.9L308.2,368.8L310.5,365.7ZM309.6,375.4L307.2,378.5L303.9,376L306.2,372.9ZM300.5,379.4L302.7,375.5L307.5,378.3L305.3,382.2ZM296.9,382.5L300.8,380.2L302.7,383.5L298.8,385.8ZM260.2,355.3L265,352.6L267.8,357.3L263,360.1ZM268.3,365.2L272.7,363.1L274.7,367.5L270.3,369.5ZM272.4,372.2L275.9,370.6L278.9,377.1L275.4,378.7ZM262.7,387.7L265.3,386.5L266.9,390L264.4,391.2ZM273.3,393.2L276.7,391.6L278.1,394.5L274.6,396.1ZM264.1,403.5L265.9,401.5L268.7,403.9L266.9,406ZM267.3,400.5L269.1,398.4L271.7,400.7L269.9,402.7ZM269.9,397L271.9,394.8L274.5,397.1L272.6,399.4ZM281.7,398.3L288.7,394.2L292.3,400.4L285.3,404.5ZM306.9,403.8L317,399.1L320.1,405.6L310,410.3ZM311.7,419.1L316.6,416.8L318.7,421.2L313.7,423.5ZM315.4,427.9L323.4,424.2L327.6,433.1L319.6,436.8ZM299,420.4L302.4,418.8L304,422.3L300.6,423.9ZM301.1,423.8L303.6,423.8L303.6,426.2L301.1,426.2ZM298.6,428.9L301.1,428.9L301.1,431.1L298.6,431.1ZM304.8,429.4L307.6,428.1L309.2,431.6L306.4,432.9ZM301.6,441L312.7,435.8L315.7,442.3L304.7,447.5ZM310.8,450.9L317.8,446.8L322.2,454.4L315.2,458.5ZM333.2,441.3L344.8,431.7L348.2,436L336,445ZM336.8,399.2L338.6,398L341.6,402.4L339.9,403.6ZM340.3,396.8L342,395.6L345,399.9L343.3,401.1ZM343.5,393.8L345.1,392.7L348.3,397.3L346.7,398.4ZM347,391.8L348.9,390.5L352.1,395L350.2,396.4ZM350.5,389.1L352.1,388L355.4,392.7L353.8,393.8ZM353.9,386.8L355.7,385.6L359.1,390.5L357.3,391.7ZM357.5,384.3L359.1,383.2L362,387.5L360.5,388.6ZM339.8,413.2L341.5,411.7L344.7,415.2L342.9,416.7ZM343.3,409.5L345,408L348.8,412.4L347.1,413.9ZM347.3,406.4L348.9,405L352.4,408.9L350.7,410.3ZM354.8,407.6L357.5,406L358.9,408.4L356.2,410ZM371.4,356.8L375.6,355.1L379.3,364.2L375.1,365.9ZM374.1,370L377.9,368.3L379.9,372.6L376.1,374.4ZM381,362L383.5,360.4L386.6,365L384.1,366.7ZM385,359.2L387.3,357.7L391.2,363.6L388.9,365.1ZM389.2,357L391.5,355.5L395.1,360.9L392.8,362.5ZM393,354.6L395.7,352.8L398.7,357.3L396,359.1ZM397,351.9L399.6,350.2L402.7,354.8L400.1,356.6ZM393.7,412.2L418,395L418,405.5L397.3,419.7ZM273.8,479.3L275.5,477.2L281.1,481.9L279.4,484ZM277.7,474.5L279.8,472L285.5,476.7L283.4,479.2ZM283.5,470.7L286.5,468.8L289.2,473.1L286.2,475ZM290.3,466.6L293.1,464.8L296.3,469.9L293.5,471.6ZM296.1,464L303.8,459.6L305.2,462L297.6,466.4ZM303.2,457.1L307.1,454.8L309.8,459.6L305.9,461.8ZM262.6,488.2L266,486.3L268.7,491.1L265.4,493ZM320.3,473.4L326.8,470.4L329.4,475.9L322.9,479ZM311.4,480.7L317.3,477.9L319.2,482L313.3,484.7ZM322.9,485.6L327.2,483.6L329.1,487.7L324.8,489.7ZM312.8,494.7L316.9,492.8L318.5,496.3L314.4,498.2ZM300.7,484.7L305.7,481L312.3,489.7L299.3,499.7L295.3,495.5L304,489.3ZM280.9,500.6L288.9,496.9L290.5,500.4L282.5,504.1ZM334.3,479.9L335.4,482L330.1,484.6L329.1,482.5ZM337.1,482.8L338.4,485.3L331.8,488.6L330.6,486.1ZM338.4,486.8L339.6,489.2L333.2,492.4L332,490ZM339.7,490.9L340.7,493.1L335.4,495.7L334.4,493.6ZM341.9,494.4L342.9,496.5L337.4,499.3L336.3,497.2ZM344.4,497.7L345.5,499.9L339.1,503.1L338,500.9ZM347.1,474.6L348.1,476.5L342.4,479.8L341.3,478ZM349.1,478.4L350.5,480.8L344.5,484.2L343.1,481.9ZM351.5,482.2L352.9,484.7L347.3,487.9L345.9,485.5ZM353.7,486.6L354.8,488.5L349.6,491.6L348.4,489.6ZM356.7,490.2L357.8,492.1L351.9,495.5L350.8,493.6ZM349.8,466.7L363.7,460L365.7,464.3L352,471ZM353.6,485.9L355.6,484.5L360.5,491L358.5,492.5ZM357.1,484.2L358.8,482.9L363,488.5L361.3,489.8ZM360.5,483.1L362.6,481.5L366.3,486.4L364.1,488ZM362.6,479.9L364.8,478.3L369.5,484.5L367.3,486.2ZM365.8,477.8L367.7,476.4L372.2,482.4L370.3,483.8ZM368.9,475.8L370.8,474.4L374.9,479.8L372.9,481.3ZM371.7,473.7L373.8,472.1L378.5,478.4L376.4,480ZM374.8,471.5L376.6,470.1L380.6,475.5L378.8,476.8ZM377.4,469.1L379.4,467.6L383.5,473L381.5,474.6ZM383,466.6L385.6,464.4L388.3,467.7L385.7,469.9ZM386.1,463.8L389.5,461L392.7,464.8L389.4,467.6ZM389.6,460.6L393,457.7L396.3,461.7L392.9,464.5ZM393.7,458L396.9,455.2L399.4,458.2L396.2,460.9ZM369.4,466.2L371.2,466.2L371.2,468.1L369.4,468.1ZM366.9,471.4L368.4,471.4L368.4,472.9L366.9,472.9ZM400.7,451.5L402.9,450.2L405.7,454.6L403.5,455.9ZM404.3,449.2L406.7,447.7L409.6,452.4L407.2,453.9ZM408.4,447.1L410.4,445.8L413.1,450.3L411.1,451.5ZM412.1,444.7L414,443.6L416.6,447.8L414.8,448.9ZM415.8,442.5L417.9,441.3L420.4,445.3L418.3,446.6ZM409.1,438.8L411.6,438.8L411.6,441.2L409.1,441.2ZM393.7,470.6L397.2,469L400.9,477L397.5,478.6ZM399.1,478.5L403.2,476.3L405.5,480.7L401.4,482.9ZM404.2,475.8L408.5,473.5L410.8,477.9L406.5,480.1ZM410,473.4L413.8,471.4L415.8,475.3L412,477.3ZM415,470.8L419.3,468.5L421.3,472.3L417,474.6ZM410,459.9L412.6,464.5L409.7,466.1L407,461.5ZM413.5,465.6L416.1,470.2L412.8,472.1L410.2,467.5ZM417.1,471.3L419.7,475.9L416.3,477.8L413.7,473.3ZM381.9,482.5L384.5,485.8L381.4,488.2L378.8,484.9ZM384.6,486.7L387.2,489.9L384.5,492L382,488.8ZM387.6,490.3L390.5,494L387.4,496.4L384.5,492.7ZM390.4,494.5L393.2,498.1L390.5,500.2L387.7,496.6ZM364,497.2L375.7,489.7L381.5,498.8L379,502L366.5,502ZM396.2,498.5L399.6,496.1L402,499.6L398.7,501.9ZM404.8,492.6L407.8,490.4L410.3,494L407.3,496.1ZM409.8,491.3L414.6,488.5L418.2,494.7L413.4,497.5ZM414.6,453.8L416.5,452.7L420.1,458.9L418.2,460ZM418,396.3L422.7,394.7L426,398.8L418,404.7ZM477.4,387.7L483.2,383.6L487,388.9L481.1,393.1ZM485.2,386.3L489.7,383.1L492.5,387.1L488,390.2ZM492.9,396.4L500.1,391.3L504.8,398L497.6,403ZM488.6,402.2L490.9,400.6L493.1,403.8L490.8,405.4ZM477.5,408.9L484.8,403.8L489.5,410.5L482.2,415.5ZM493,418.8L504.7,410L508,412.2L511.3,415.5L508.8,418.8L501.3,425.5L498.8,426ZM431.6,421.8L436.3,419.1L437.8,421.5L433,424.3ZM436.8,419.4L438.4,418.4L442.2,424.3L440.6,425.3ZM441.8,417.2L443.4,416.1L446.5,420.9L444.8,421.9ZM446.6,414.5L448.1,413.6L451.1,418.3L449.6,419.2ZM449.8,409.4L455.4,406.2L459.5,413.2L453.9,416.5ZM458.5,426.3L463.8,422.7L476.7,439.3L481,436.3L485.2,440L481,444.3L478.3,442.2L476.3,445.5L471.7,444.7ZM449.6,429.7L453.5,427.4L455.7,431.3L451.8,433.6ZM441,439.4L449.5,434.5L452.3,439.3L443.8,444.2ZM464.8,451L468,449.6L471.4,457.2L468.2,458.6ZM471.8,446.9L475.3,445.4L479.3,454.4L475.9,455.9ZM449.1,444.9L451.9,448.8L448.1,451.4L445.3,447.5ZM451.9,449.1L454.7,453.1L451.3,455.4L448.6,451.5ZM455.4,453.3L457.7,456.7L453.8,459.5L451.4,456.1ZM457.9,457.4L460.6,461.3L457.4,463.5L454.7,459.7ZM461.1,461.4L463.8,465.2L459.6,468.1L457,464.3ZM431.4,446.2L433.6,449.4L430.9,451.3L428.7,448ZM434.3,450.2L436.9,454L434,456L431.4,452.2ZM437,454.5L439.9,458.7L437.2,460.6L434.3,456.4ZM440,459.5L442.3,462.9L439.7,464.6L437.4,461.2ZM443,463.5L445.6,467.3L443.3,468.9L440.7,465.1ZM420,439.6L420.8,441.9L418,443L417.1,440.7ZM422,446.2L423,448.9L420.5,449.8L419.5,447.1ZM424.4,453L425.3,455.6L423,456.4L422,453.9ZM418.2,468.7L420.7,471.7L417.5,474.2L415.1,471.2ZM424.7,476.9L427.4,480.3L424.8,482.3L422.1,478.9ZM432.4,478L434.7,476.9L437.2,481.8L434.9,483ZM437.1,475.5L439.9,474.1L442,478.4L439.2,479.7ZM441,473.4L446.6,471.3L448.3,475.8L442.7,477.9ZM448.1,471.5L453.3,469.5L454.7,473.3L449.6,475.2ZM423.2,486.3L430.9,481.9L434.4,488.1L426.8,492.5ZM433.6,480.7L435.2,479.8L437.4,483.7L435.8,484.6ZM444.9,489.5L448.6,486.6L451.2,490L447.5,492.8ZM450.5,485.2L453.9,482.6L456.1,485.5L452.8,488.1ZM455.3,481.2L459.6,477.9L462,481L457.7,484.3ZM417,495.6L420.4,493.7L422.3,497L419,499ZM433.4,500.2L437.2,497.7L439.3,500.7L435.4,503.3ZM438.1,497L442.4,494.1L444.5,497.2L440.1,500.1ZM443.4,493.3L447,490.9L449.2,494.2L445.6,496.6ZM448.6,490.4L452.3,487.9L454.4,491.1L450.7,493.5ZM471.1,471.5L472.4,473.2L466.2,478.1L464.9,476.4ZM473.7,474.3L475.2,476.1L468.6,481.2L467.2,479.3ZM476.4,477.1L477.8,479L470.7,484.5L469.2,482.6ZM479.5,479.2L481.3,481.5L473.3,487.7L471.5,485.4ZM480.9,483.3L482.4,485.3L474.9,491.1L473.3,489.1ZM483.3,486.2L485,488.3L477.7,493.9L476,491.8ZM485.2,489.8L486.7,491.7L480.2,496.7L478.7,494.8ZM470.9,467.1L474.7,465.2L476.9,469.8L473.1,471.7ZM476.6,464.4L479.9,462.8L482,467.2L478.8,468.8ZM481.9,461.7L485.3,460L487.4,464.2L483.9,465.9ZM483.7,458.7L485.3,457.8L488.9,464L487.3,464.9ZM489.2,457.7L491.4,455.9L493.2,458L491,459.8ZM494.6,453.8L496.6,452.1L498.4,454.2L496.3,455.9ZM480.9,473.4L483.4,473.4L483.4,475.9L480.9,475.9ZM493.2,472.4L496.1,472.4L496.1,475.2L493.2,475.2ZM487.7,484.4L490.4,482.8L491.7,485L488.9,486.5ZM460.5,493L466.3,489.7L474.7,500.5L471.3,502L466.3,496.3L463,498ZM500.6,456.8L501.7,458.6L495.9,462.2L494.7,460.4ZM503,460.6L504.1,462.3L498.2,465.8L497.2,464.1ZM505.5,464.3L506.5,465.9L499.7,470L498.7,468.4ZM507.6,468L508.7,469.8L502.5,473.6L501.4,471.8ZM509.5,472.1L510.5,473.8L505.2,477L504.2,475.3ZM503.9,446.7L510.1,443.1L513.7,449.3L507.5,452.9ZM509.2,474L514.6,476.9L511.8,482.1L506.4,479.1ZM517.5,479.2L524,482.8L521.5,487.4L515,483.8ZM499.5,490.3L507.1,485.9L509.9,490.7L502.2,495.1ZM503.4,483.4L505.9,483.4L505.9,485.9L503.4,485.9ZM490.8,500.6L499.9,495.4L501.8,498.7L492.7,504ZM515.2,453.2L517.8,457.2L514.5,459.3L511.9,455.3ZM518.6,457.5L521.1,461.5L516.8,464.2L514.2,460.3ZM520.8,462.3L523.5,466.6L519.8,468.9L517.1,464.7ZM524,467.3L526.2,470.7L522.4,473.1L520.2,469.7ZM527.2,471.6L529.5,475.2L526,477.4L523.7,473.8ZM529.2,472.6L531.3,470.8L533.6,473.5L531.5,475.4ZM534.3,467.8L536.5,465.9L538.9,468.8L536.7,470.6ZM539.6,463.3L542.1,461.2L544.8,464.5L542.3,466.6ZM519.6,433L526.4,429.1L529.7,434.7L522.9,438.6ZM530.7,437.8L532.3,439.4L526.1,445.6L524.5,444ZM532.7,440.7L534.5,442.5L529.5,447.5L527.6,445.7ZM535.9,442.3L537.9,444.3L532.4,449.8L530.4,447.8ZM538.1,445.4L539.7,447L533.9,452.9L532.3,451.3ZM541.4,446.9L543.3,448.8L536.7,455.3L534.9,453.4ZM543.5,450L545.1,451.7L538.9,457.9L537.3,456.2ZM546.2,452.3L547.9,454L541.8,460.1L540.1,458.4ZM548.8,454.9L550.3,456.4L544.7,462L543.1,460.5ZM522.9,444.4L525.4,443L526.4,444.9L524,446.3ZM510.9,383L513,385.7L510.1,388L508,385.3ZM513.3,386.1L515.3,388.8L512.5,391L510.4,388.3ZM516,389.2L517.8,391.4L514.3,394.1L512.6,391.8ZM517.7,392.2L520,395.2L517.4,397.2L515.1,394.2ZM520.5,395.1L522.6,397.9L519.8,400.1L517.6,397.3ZM522.6,398.7L524.4,401L521.7,403.1L519.9,400.8ZM525.5,401.4L527.2,403.7L523.9,406.2L522.2,403.9ZM524.5,411.2L531.3,405.6L534.8,409.8L528.1,415.4ZM519.4,383.3L525.3,379.2L526.6,381L520.7,385.1ZM524.2,387.3L526.8,386.2L528.5,390.5L525.9,391.5ZM528.2,385.5L531,384.4L532.7,388.7L529.9,389.8ZM530.5,397.9L539,393L543.9,401.5L535.4,406.4ZM551.6,386.3L562.1,380.2L566.1,387L555.5,393.1ZM533.8,357L535.8,359.2L531.9,362.6L529.9,360.3ZM540.2,363.1L542.2,365.4L537.7,369.3L535.7,367ZM546.1,369.8L548.1,372.1L543.3,376.2L541.3,373.9ZM536.6,358.2L540,356.3L542.7,361.1L539.4,363ZM527.1,345.7L530.4,347.3L528.6,350.8L525.4,349.2ZM533.9,349.1L536.9,350.6L535.5,353.5L532.4,352ZM548.1,350.3L549.9,352.2L546.3,355.6L544.6,353.6ZM551.1,354.4L553,356.5L550,359.3L548,357.2ZM555,358.2L556.5,359.8L553.6,362.4L552.1,360.8ZM558.5,361.9L559.9,363.5L556.6,366.6L555.2,365ZM562.2,365.4L563.8,367L560,370.5L558.5,368.8ZM565.1,369.7L566.7,371.3L563.7,374.1L562.2,372.4ZM568.8,372.9L570.7,374.9L567.7,377.7L565.8,375.6ZM564.4,348.2L570.6,344.7L573.3,349.4L567.1,353ZM567.5,376.4L569.9,375L573.5,381.2L571.1,382.6ZM557.2,403.6L562.1,399.7L566.1,404.9L561.2,408.8ZM562,398.4L566.5,394.8L571.1,400.7L566.6,404.2ZM567.2,394.5L572.2,390.6L576.5,396.2L571.6,400.1ZM566.8,404.4L570.5,409.4L567.2,411.8L563.6,406.8ZM572.6,411.3L575.4,415.2L571.6,417.9L568.7,414.1ZM545.9,413.7L550.7,410.9L553.4,415.7L548.7,418.4ZM553.3,413.8L557.2,411.6L559.4,415.5L555.5,417.7ZM555.3,416.7L557.5,418.4L553.9,422.8L551.8,421ZM558.8,418.9L560.7,420.4L556.1,426.1L554.2,424.6ZM561.8,421.4L563.8,423L560,427.6L558,426ZM565.1,423.8L566.9,425.2L562.9,430.2L561.1,428.7ZM536.8,420.3L539.1,422.8L535.8,425.9L533.4,423.3ZM540,423.3L542.4,425.9L538.9,429.1L536.5,426.5ZM542.3,427.1L544.9,430L542.1,432.5L539.5,429.6ZM545.2,430.2L548.1,433.4L545.2,436L542.4,432.8ZM548.5,433.4L551.3,436.5L548.4,439.1L545.6,436ZM552,436.6L554.5,439.4L551,442.5L548.5,439.7ZM551.9,443.8L554.8,444.2L554.2,448.8L551.2,448.4ZM557.8,444.3L560.7,444.7L559.9,449.7L557.1,449.3ZM563.4,445.8L566.5,446.3L565.9,450.5L562.8,450.1ZM554.9,451.3L558.8,449.1L561.1,453L557.2,455.2ZM564.1,432.8L570.3,429.2L573.6,434.9L567.4,438.4ZM566.7,441.2L571.5,438.4L574.3,443.2L569.5,445.9ZM549.8,472.6L557.9,467L563.5,475L555.5,480.7ZM533.6,488L537.5,485.8L539.7,489.7L535.8,491.9ZM518.6,494.7L526.3,490.3L530.7,497.9L523.1,502.4ZM577.8,423L587,416.3L592.8,423.8L584.5,431ZM564.7,460L584.5,446.7L589.2,453L568.7,468.3ZM574.5,475.5L586.2,466.7L591.7,473.3L594.5,472.7L597,476.7L595.3,479.7L597,482.2L586.2,490ZM595.2,488.3L602.1,482.9L607.2,489.3L600.2,494.8ZM619.2,434.7L625.3,430.5L644,452.7L632.8,462.7L624.5,454.7L622.8,449.7L625.3,447.2ZM617,467.2L622,460L627.8,465.5L625.3,468.8L627.8,471.3L622.8,476ZM625.7,416.7L631.2,412.7L639.5,422.7L634,426.7ZM617.8,425L621.2,422.6L623.6,426L620.2,428.4ZM580.2,407.3L585.8,402.9L589.8,408L584.2,412.4ZM682.8,478L694.5,470L698.7,474.7L687,483.8ZM693.7,466.7L701.5,460.7L706.9,467.6L699.2,473.7ZM676.2,479.7L678.7,478L685.3,486.3L682.8,488ZM704.5,485.5L715.3,476L722.8,486.3L717,496.3L712.8,495.5ZM662.8,490.5L670.3,484.3L677,491.7L668.7,498.8ZM717.8,471.3L726,466.3L726,481.3L722,479.7ZM718.7,439.7L726,435.5L726,446.3L722.8,448ZM698.7,392.2L705.3,387.2L707.8,390.5L712.8,387.2L709.5,382.2L713.7,380.5L719.5,391.3L712.8,396.3L713.7,398.8L710.3,401L707.8,398L705.3,398.8ZM680.5,395.3L687.2,390.6L691.9,397.3L685.2,402ZM670.5,383.3L677.2,378.6L681.9,385.3L675.2,390ZM690.7,406.2L697.1,401.7L701.6,408.1L695.2,412.6ZM686.9,414.9L692.8,410.8L695.4,414.5L689.5,418.6ZM673.9,417.3L678.4,414.1L683.5,421.4L678.9,424.5ZM673.5,419.6L680.7,414.5L683.9,419.1L676.6,424.1ZM703.2,422.2L708.5,418.4L714.1,426.5L708.8,430.2ZM664.6,429.7L670,426L673.7,431.3L668.4,435ZM573,352L576.1,355.9L574.1,357.5L571,353.6ZM576.6,355.8L579.8,359.9L577.7,361.6L574.5,357.5ZM580.5,360.3L583,363.4L580.5,365.4L578,362.3ZM581.2,351.1L584.3,348.9L586.1,351.5L583,353.7ZM586.4,356.4L589.5,354.2L591,356.3L587.8,358.5ZM593.9,350.2L598,348.6L600.2,354.7L596.2,356.2ZM601,347.4L604.2,346.2L606.4,352.3L603.3,353.5ZM569.8,374.4L573.9,371.8L576.2,375.4L572.1,378ZM575.9,370.2L580.8,367.1L583.5,371.3L578.5,374.5ZM589.8,379.5L591.4,376.6L594.5,378.4L592.9,381.2ZM592.9,373.9L594.9,370.4L597.8,372.1L595.8,375.6ZM599.5,366.3L603.1,363.7L605.8,367.5L602.3,370.2ZM604,362.7L607.4,360.3L610.6,364.8L607.3,367.2ZM608.6,360.3L612.9,357.2L615.4,360.6L611.1,363.8ZM613.7,368L619.5,363.8L623.7,369.7L617.8,373.8ZM592.2,377.8L594.7,380.3L592.1,383L589.5,380.4ZM595,381.2L597.9,384.2L595.5,386.6L592.5,383.6ZM598.5,384.5L601.3,387.3L598.9,389.7L596.1,386.9ZM602.2,387.5L605,390.3L602,393.4L599.1,390.5ZM605.4,391.1L608,393.7L604.9,396.8L602.3,394.2ZM608.5,394.3L611.6,397.3L609,399.8L606,396.8ZM580.8,382.3L583.9,380.1L586.5,383.7L583.4,385.9ZM583.5,391.4L585.4,389.5L588.4,392.4L586.4,394.4ZM586,389.1L588.1,387L591.4,390.3L589.3,392.4ZM572.7,390L575.8,387.8L578,391L574.9,393.2ZM584.2,396.1L586.4,396.1L586.4,398.2L584.2,398.2ZM595.1,395L598.3,398.6L595.4,401.1L592.2,397.6ZM599.2,398.9L602.6,402.8L599.2,405.8L595.8,402ZM603.1,403.2L606.6,407.1L602.8,410.5L599.3,406.6ZM607,407.5L610.5,411.4L607.2,414.3L603.7,410.4ZM606.6,383.3L608.2,384L607.4,386L605.8,385.2ZM609.5,384.7L611.1,385.4L610.4,387L608.8,386.3ZM612.2,386.1L614.1,386.9L613.5,388.3L611.5,387.5ZM614.7,401.5L619.4,397.4L622.7,401.3L618.1,405.4ZM621.5,395.1L625.5,391.7L628.8,395.5L624.8,399ZM610.2,405.4L613.9,402.8L617.1,407.3L613.4,409.9ZM619.3,348.5L624.8,354L619.3,359.6L613.7,354.1ZM625.5,355.8L632.5,362.8L628.2,367.2L621.2,360.2ZM630.7,363.2L633.3,365.7L628.2,371.2L625.6,368.7ZM635.5,366.4L638.1,368.9L632.6,374.9L629.9,372.4ZM639,370.7L642,373.5L636.6,379.3L633.6,376.4ZM643.6,374.3L646.4,377L640.8,383L637.9,380.3ZM621.7,381.9L628.9,376.8L634,384.1L626.7,389.2ZM638.3,379.6L641.9,376.7L645.6,381.3L642,384.2ZM642.6,376.6L646.4,373.6L649.7,377.8L646,380.8ZM645.8,371.6L648.4,369.7L653,375.7L650.3,377.7ZM649.2,369.2L651.8,367.2L656.1,373L653.5,375ZM653.1,367.5L655.7,365.5L659.7,370.9L657.1,372.8ZM656,364.2L658.5,362.4L663.1,368.5L660.6,370.4ZM640.9,353.5L643.2,351.9L644.8,354.2L642.5,355.8ZM647.3,346.6L650.1,349.7L647,352.5L644.2,349.3ZM650.4,350.1L653.6,353.7L650.2,356.7L647,353.1ZM654.2,353.8L657.1,357L653.4,360.3L650.5,357.1ZM631.1,405.1L633.7,402.8L639.5,409.1L636.9,411.5ZM635.9,401.5L638.8,398.8L644.6,405.2L641.6,407.9ZM640.6,397.7L643.7,394.8L648.3,399.8L645.1,402.7ZM646.6,387.8L651.1,385.6L653.8,391L649.3,393.2ZM652.2,385.5L655.9,383.7L658.1,388.2L654.5,390.1ZM655,384.4L659,381.7L662.4,386.7L658.3,389.4ZM660.2,381.5L664.4,378.7L667.1,382.7L662.9,385.5ZM665.5,376.2L670.8,372.5L673.5,376.4L668.2,380.2ZM652.2,396.6L656.1,394.5L658.4,398.7L654.5,400.8ZM657.2,394.1L660.5,392.3L662.8,396.6L659.5,398.4ZM661.8,391.3L664.8,389.7L667.1,393.8L664.1,395.5ZM659.5,401L664,397.9L666.2,401L661.7,404.1ZM666.8,400.9L670,398.7L672.2,401.8L669,404ZM663.2,405.7L667.7,402.5L670.8,407L666.3,410.2ZM647.5,409.1L653.2,411.9L651.6,415.1L645.9,412.3ZM654.4,412.3L659.8,414.9L658.2,418.3L652.8,415.6ZM641.3,419.2L644.5,417L646.7,420.1L643.5,422.3ZM638.1,433.4L643.4,429.7L646.6,434.2L641.2,438ZM647.5,433.9L650.6,431.7L653.2,435.4L650.1,437.6ZM653.5,429.4L658,426.2L660.5,429.9L656,433.1ZM662.6,424.3L665.2,422.5L667,425.1L664.4,426.9ZM657.5,437L663.4,432.9L666.5,437.4L660.6,441.5ZM644.7,441.9L649.2,438.8L655.3,447.4L650.8,450.5ZM610.7,443.2L615.2,440L618.3,444.5L613.8,447.7ZM614.2,448.7L616.7,446.9L618.2,448.9L615.6,450.8ZM660.5,456.6L666.4,452.4L670.1,457.8L664.3,461.9ZM666.7,452.3L670.7,449.3L673.6,453.2L669.6,456.2ZM673.4,447.3L677.3,444.3L680.4,448.4L676.5,451.4ZM677.8,442.4L681.8,439.6L684.5,443.6L680.6,446.4ZM685.5,445.1L688.2,448.4L684.7,451.2L682.1,447.9ZM689.2,449.2L691.7,452.3L687.7,455.5L685.3,452.3ZM649.7,467.1L655.6,462.9L659.3,468.3L653.4,472.4ZM656.1,473L660.7,469.9L662.9,473L658.3,476.1ZM668.8,462.6L671.4,466.5L668.3,468.6L665.7,464.7ZM672.3,467.1L675.2,471.5L672.2,473.6L669.2,469.2ZM638.2,473.9L644.1,469.8L649.1,477.1L643.3,481.2ZM634,479.4L636.6,482.6L631.3,486.9L628.7,483.7ZM637.8,483.8L640.3,486.9L634.8,491.3L632.4,488.2ZM641.4,487.9L644.2,491.4L638.9,495.7L636.1,492.2ZM645.7,491.9L648.4,495.2L642.1,500.3L639.4,497ZM661.9,482.6L667.3,478.9L670.4,483.4L665.1,487.1ZM618.4,493L622.4,490.2L625.6,494.7L621.6,497.5ZM622.9,497.7L627.4,494.6L631.1,499.9L626.6,503.1ZM609.3,499.2L612.5,497L614.7,500.1L611.5,502.3ZM568.9,491L573.4,487.8L578.5,495L573.9,498.2ZM683.7,497.1L689.5,493L693.7,498.9L687.8,503ZM652.2,500.8L656.7,497.6L658.5,500.2L654,503.4ZM668.1,500.1L670.7,498.3L672.5,500.9L669.9,502.7ZM675.6,368.5L680.8,363.2L685,367.4L679.7,372.6ZM682.5,361.7L687.3,356.8L691,360.5L686.2,365.3ZM687.5,357.4L692,353.5L696.5,358.7L692.1,362.6ZM694.1,351.2L698.3,347.5L703.6,353.6L699.4,357.2ZM683.2,373.9L689.1,369.8L694.1,377.1L688.3,381.2ZM691.5,382.3L696,379.2L699.2,383.7L694.7,386.8ZM696.4,368.7L698.3,366.1L704.2,370.5L702.3,373.2ZM701,362.1L703.2,359.1L709.6,363.8L707.3,366.8ZM705.7,365.7L707.5,364.4L711.6,370.3L709.8,371.6ZM702.5,377.3L704.8,375.7L706.5,378L704.2,379.6ZM711.4,374.9L717.2,370.8L721,376.1L715.1,380.2ZM710.5,343.9L714.5,347.6L710.2,352.1L706.3,348.3ZM715.3,349.3L719.3,353.1L715.4,357.1L711.5,353.3ZM720.8,353.8L725,357.8L720.9,362.1L716.7,358.1ZM726.3,359.3L729.7,362.6L725.7,366.8L722.3,363.5ZM721.4,381.8L724.5,379.6L727.6,384.2L724.5,386.4ZM716.3,412.6L723.6,407.5L727.7,413.4L720.4,418.5ZM685.3,433.1L688.7,430.8L691.7,435.1L688.3,437.4ZM690,431.1L692.9,429.1L695.3,432.6L692.4,434.6ZM694,428.4L696.7,426.5L699.1,429.9L696.4,431.9ZM697.6,425.8L700.8,423.6L703.2,427.1L700,429.3ZM694.4,440.8L700.3,436.6L706.3,445.2L700.4,449.4ZM704,454.2L709.7,449.1L714.4,454.4L708.7,459.5ZM711.9,448L717.6,442.9L722.2,448.2L716.6,453.2ZM725.7,369L729.7,366.5L733.4,372.6L729.3,375.1ZM730.3,366.3L733.5,364.4L736.7,369.7L733.5,371.6ZM737.5,364.7L740.5,362.9L744.3,369.3L741.3,371.1ZM741.8,362.8L745.1,360.8L748.3,366.1L745,368.1ZM745.7,360.5L749.6,358.2L753,363.8L749.1,366.2ZM750.2,358.8L754.2,356.3L756.7,360.3L752.7,362.8ZM756.5,354.6L761,351.8L764.2,356.9L759.6,359.7ZM729.8,362L734.3,358.9L735.5,360.6L731,363.8ZM736.1,356.3L739.3,354.1L740.9,356.4L737.7,358.6ZM767,349.9L770.7,347.4L773.3,351.1L769.6,353.6ZM732.2,378.6L735.9,376L738.1,379.1L734.4,381.7ZM767.1,369.7L771.6,366.6L774.2,370.3L769.7,373.4ZM753.9,380.4L761.1,375.3L764.8,380.6L757.6,385.7ZM766.8,387.2L779.3,377.2L782.3,380.5L769.7,390.5ZM769.5,394.3L776.7,389.2L780.8,395.1L773.6,400.1ZM780.6,389.3L788.6,383.6L793.1,390.1L785.1,395.7ZM778.2,359.3L780.6,361.9L777.5,364.6L775.2,362ZM781,362.6L783.6,365.5L780.3,368.4L777.8,365.5ZM784.1,365.8L786.7,368.6L783.2,371.7L780.7,368.9ZM786.5,369.4L789.3,372.5L786.2,375.3L783.5,372.2ZM789.8,372.7L792.4,375.6L789.5,378.2L786.9,375.3ZM792.9,376L795.4,378.8L792.2,381.8L789.6,378.9ZM795.7,379.6L798.1,382.2L795,385L792.6,382.4ZM798.9,382.7L801.3,385.4L797.7,388.6L795.4,385.9ZM791.7,350.8L794.9,354.4L791.5,357.3L788.4,353.7ZM796.1,354.4L799.1,357.9L795.3,361.2L792.3,357.7ZM799.6,358.7L802.6,362.2L799,365.2L796,361.8ZM802.4,363.1L805.8,367.1L802.8,369.6L799.4,365.7ZM801,378L809.3,371.3L807.7,368.8L811,366.7L815.2,373L805.2,382.2ZM824.5,349.1L828.2,346.5L830.8,350.2L827.1,352.8ZM829.8,354.4L832.7,352.5L835.5,356.7L832.7,358.6ZM837.2,349.9L840.7,347.6L843.2,351.3L839.7,353.6ZM822,381.9L826.4,378.1L829.7,382.1L825.3,385.8ZM827.3,378.3L832,374.4L835.1,378.2L830.5,382.1ZM831.8,375.3L834.2,371.7L839.5,375.2L837,378.8ZM836.1,367.9L839,363.5L845.8,368L842.9,372.4ZM842.1,363.6L846,360.9L848.2,364L844.3,366.8ZM848.7,363.2L854.6,359.1L858.3,364.4L852.4,368.6ZM857.3,359.4L864.6,354.3L869.7,361.6L862.4,366.7ZM869.1,359.1L876.4,354L879.5,358.6L872.3,363.6ZM806,396.3L816.8,386L821.8,391.7L816,395.5L811,396.3L809.3,398.8ZM794.7,405.1L802.8,399.5L807.3,405.9L799.2,411.5ZM786.6,413.4L794.3,407.4L797.1,410.9L789.3,417ZM823,396.4L824.8,399.9L822,401.5L820.1,397.9ZM825.4,400.2L827.3,403.7L824.5,405.2L822.6,401.6ZM827.1,404.3L829,407.9L826.3,409.3L824.4,405.8ZM829.5,408.4L831.1,411.6L828.3,413.1L826.6,409.9ZM831.9,412.2L833.6,415.3L830.4,417L828.7,413.8ZM826.8,383.7L831.6,390L828.2,392.6L823.4,386.2ZM832.5,390.9L836.3,395.9L832.3,398.9L828.5,393.8ZM831.4,392.9L837.8,388.4L842.3,394.8L835.9,399.3ZM838.4,400.9L844.8,396.4L848.6,401.7L842.2,406.2ZM836.6,406.1L841.1,402.9L843.7,406.6L839.2,409.8ZM850.4,386.6L854.1,384L856.6,387.7L852.9,390.3ZM848.7,395.1L855.9,390L860,395.9L852.8,401ZM844.1,383.6L846.2,383.6L846.2,385.8L844.1,385.8ZM786,423L790.2,419.3L801,430.5L796.8,433.8L791.8,428.8L788.5,430.5ZM801.3,430.9L804.3,428.7L808.8,434.9L805.8,437ZM805.8,427.6L809,425.3L813.8,431.8L810.6,434.2ZM810.6,424L813.3,422.1L818.4,429.1L815.7,431.1ZM814.3,422.6L820.7,418.1L824.4,423.4L818,427.9ZM725.2,404.7L729.7,402.3L731.6,405.9L727.1,408.3ZM730.7,402.7L735.8,399.9L737.4,402.9L732.3,405.7ZM735.7,399.2L741,396.3L743,400.2L737.7,403ZM740.6,390.8L745.9,387.1L748.1,390.2L742.8,393.9ZM751.1,395.6L753.4,398.2L750.7,400.6L748.4,398ZM754.5,398.3L757,401.2L753.7,404L751.2,401.2ZM757.2,401.9L759.6,404.7L756.4,407.5L754,404.7ZM759.1,409.8L762.8,407.3L767.9,414.5L764.2,417.1ZM744.7,411.9L749.2,408.7L750.6,410.8L746.1,413.9ZM749.4,421.2L756.7,416.1L759.2,419.8L752,424.9ZM742.4,417.8L744.6,417.8L744.6,419.9L742.4,419.9ZM728.9,428L734.2,424.2L736.4,427.4L731.1,431.1ZM735.2,435.5L746.8,424.7L751.8,429.7L740.2,440ZM754.3,439.7L765.2,430.5L769.3,429.7L771.8,433.8L766.8,437.2L761.8,443.8L758.5,444.7ZM744.1,446.7L751.8,440.7L757.3,447.6L749.5,453.7ZM721,441.5L726.6,437.1L731,442.8L725.4,447.2ZM726,463L740.2,453L744.7,458.8L730.2,470.5L726,469.7ZM739.3,472.2L746.8,463L749.3,464.7L743.5,472.2L745.2,474.7L742.7,477.2ZM745,477.2L752,471.7L757,478.2L750,483.6ZM732.5,475.2L735.5,472.8L737.9,475.8L734.8,478.2ZM724.3,475.7L728.7,472.3L731,475.3L726.7,478.7ZM755.7,457.2L759.3,454.7L766,464.7L763.5,467.2ZM766.8,471.3L776,464.2L778,467.2L769,474.2ZM775,442.4L779.8,447.8L777.3,450L772.5,444.6ZM782.7,450.9L787.2,455.8L784,458.7L779.5,453.8ZM775.3,460.9L778.9,458.2L781.7,461.7L778.1,464.5ZM785.6,435L789,438.8L785.2,442.2L781.8,438.5ZM789.8,439.9L793.6,444.1L789.8,447.6L786,443.4ZM794.2,444.7L798.4,449.3L794.9,452.5L790.7,447.9ZM793.5,462.2L798.8,458.5L802.5,463.8L797.2,467.5ZM800.1,466.8L801.9,466.8L801.9,468.6L800.1,468.6ZM735.6,485.1L738.1,485.1L738.1,487.6L735.6,487.6ZM733.6,490L737.9,489.6L738.4,494L734.1,494.4ZM740.9,489.8L745.7,489.2L746.1,493.3L741.3,493.8ZM725.3,501L731.2,496.9L733.4,500L727.5,504.1ZM276.5,507L287.3,501.2L291.5,502.8L280.7,510.3ZM304,522.7L308.6,520.4L310.7,524.7L306.1,527ZM309.9,519.5L314.2,517.4L316.7,522.4L312.4,524.5ZM315.1,516.3L320.1,513.8L322.6,518.7L317.5,521.2ZM323.5,511.5L325.3,510.3L328,514.4L326.1,515.6ZM327.2,508.4L328.8,507.3L331.8,512.1L330.2,513.1ZM330.9,505.7L332.6,504.6L335.7,509.5L334,510.6ZM334.8,503.1L336.4,502.1L339.8,507.3L338.1,508.4ZM295.4,521.6L301.6,518.1L306,525.7L299.8,529.3ZM282.6,525.6L286,523.7L288.7,528.4L285.4,530.3ZM295.7,530.9L300.4,528.1L302.3,531.5L297.6,534.2ZM337.2,515.4L345,511.2L350.8,522L343,526.1ZM286.7,538.6L290.2,536.2L293,540.4L289.5,542.7ZM291.2,536.5L294.1,534.6L296.2,537.9L293.4,539.8ZM294.7,533.6L297.5,531.7L300,535.4L297.2,537.3ZM268.3,550.5L270.7,549.2L272.8,553.1L270.4,554.4ZM273.2,548L276,546.5L278.1,550.5L275.3,552ZM278.3,545.2L280.8,543.9L282.9,547.7L280.3,549.1ZM269.6,545.1L271.8,545.1L271.8,547.2L269.6,547.2ZM274.6,540.1L276.8,540.1L276.8,542.2L274.6,542.2ZM303.9,543.2L307.1,541.1L309.4,544.6L306.2,546.6ZM307.3,539.7L310.9,537.3L313.7,541.5L310.1,543.9ZM311.7,537.7L315.7,535.1L318.2,538.8L314.2,541.5ZM315.8,534.4L319.4,532L322,536L318.4,538.4ZM320.9,531L322.7,529.9L325.5,534.7L323.6,535.8ZM326.7,522.4L330.2,520.3L332.8,524.6L329.2,526.7ZM331.2,519.7L334.1,518L336.8,522.6L334,524.3ZM334.9,516.7L338,514.8L341.1,520.1L338,521.9ZM327.1,527.6L329.2,527.6L329.2,529.8L327.1,529.8ZM332.6,529.8L335.4,529.8L335.4,532.6L332.6,532.6ZM325.2,534.9L327.8,534.9L327.8,537.4L325.2,537.4ZM294.8,548.6L299.6,545.9L303.2,552.1L298.4,554.8ZM298.8,555.1L303.6,552.3L305.8,556.2L301.1,559ZM329.2,560.9L332.4,556.4L337.3,559.8L334,564.4ZM332.4,554.7L335.9,549.8L341.5,553.8L338.1,558.7ZM339.9,551.4L342.2,550.1L345.1,554.9L342.9,556.3ZM343.6,548.9L345.7,547.6L348.7,552.5L346.6,553.7ZM347.3,547L349.9,545.4L352.7,549.9L350,551.5ZM350.6,543.7L353,542.2L356.2,547.5L353.8,549ZM354.5,542.2L357.3,540.5L360.1,545L357.3,546.7ZM341.4,540.5L344.7,538.5L346.6,541.9L343.3,543.8ZM355.2,524.3L357.5,527.4L354.2,529.9L351.9,526.8ZM358.2,528L361,531.8L357.7,534.2L355,530.4ZM361.6,532.4L363.9,535.6L360.6,538L358.3,534.9ZM364.6,536.5L367,539.9L362.9,542.9L360.4,539.5ZM357.5,556.6L359.9,555.2L362.2,559.1L359.7,560.5ZM355,565.5L358.4,563.5L360.3,566.9L357,568.8ZM367.2,548.9L371.9,546.2L374.2,550.1L369.4,552.8ZM263,577.8L265.8,575.9L268.3,579.6L265.5,581.5ZM266,575.6L268.8,573.7L271.6,577.9L268.8,579.8ZM269.3,573.8L272,572L274.3,575.3L271.6,577.2ZM271.9,571.1L274.7,569.2L277.5,573.2L274.6,575.2ZM275.2,569.3L277.9,567.4L280.4,571L277.6,572.9ZM278.2,567.4L281.2,565.4L283.9,569.3L280.9,571.4ZM281.6,565.2L283.9,563.6L286.7,567.7L284.4,569.2ZM286.4,557.1L289.7,555.2L291.6,558.5L288.3,560.5ZM291.8,561.7L294.3,565.2L290.9,567.6L288.4,564ZM294.9,565.8L297.3,569.2L294,571.5L291.6,568.1ZM297.7,570L300.1,573.5L296.7,575.9L294.2,572.4ZM309.7,572.6L313.2,571.1L315,575.5L311.5,576.9ZM314,571.6L318.2,569.9L319.6,573.3L315.4,575ZM318.4,569.6L322.4,567.9L323.9,571.5L319.9,573.2ZM323,567.4L326.4,566L327.9,569.5L324.5,570.9ZM327.4,565.7L330.8,564.3L332.4,568.1L329,569.5ZM274.5,594.6L276.4,593.4L280.1,599.3L278.1,600.5ZM277.3,593.1L279.3,591.9L283,597.9L281,599.1ZM279.8,591.2L281.9,589.9L285.6,596L283.5,597.3ZM283,589.9L284.7,588.9L288.2,594.7L286.6,595.7ZM285.7,588.3L287.5,587.2L291,592.9L289.2,594ZM288.4,586.9L290.4,585.7L293.3,590.4L291.3,591.6ZM291.4,585.3L293,584.3L296,589.2L294.5,590.2ZM293.6,583L295.4,581.9L298.9,587.6L297.1,588.7ZM296.5,581.6L298.2,580.5L301.4,585.5L299.6,586.6ZM301,578.1L304.3,576.2L307,580.9L303.7,582.8ZM316,585.5L320.6,581.5L325,586.5L320.5,590.5ZM323.7,579.8L327.3,576.6L331.3,581.2L327.6,584.3ZM329,574.8L331.1,573.7L334.3,579.7L332.1,580.9ZM331.6,572.6L333.6,571.5L336.8,577.6L334.8,578.6ZM334.7,571.8L337.1,570.5L339.8,575.7L337.4,577ZM337.4,570.1L339.9,568.8L342.8,574.3L340.3,575.6ZM340.6,568.9L343,567.6L346.1,573.6L343.7,574.9ZM343.7,567.4L345.9,566.3L348.9,572.1L346.7,573.2ZM346,564.8L348.2,563.7L351.7,570.3L349.5,571.4ZM279.1,614.3L282.2,612L285.6,616.4L282.5,618.7ZM283,611.8L285.4,610L288.8,614.5L286.4,616.3ZM285.4,608.5L288.2,606.4L292.3,611.8L289.5,613.9ZM289.4,606.7L292.1,604.7L295.3,609L292.6,611.1ZM292.2,603.9L295.3,601.6L299,606.5L295.9,608.9ZM295.4,601.4L298.6,599L302.8,604.5L299.6,606.9ZM299.1,598.7L301.6,596.8L305.5,601.9L303,603.8ZM302.4,596.8L305.6,594.4L309.1,599.1L305.9,601.5ZM305.8,594.1L308.7,591.9L312.3,596.6L309.3,598.8ZM308.8,591.2L311.7,588.9L315.9,594.5L312.9,596.7ZM320.5,591L321.7,592.7L315,597.4L313.8,595.7ZM322.2,594.9L323.6,596.9L317.4,601.2L316,599.3ZM324.5,598.7L325.8,600.5L319.5,604.9L318.2,603.2ZM327.7,601.7L329.1,603.6L322.8,608L321.4,606.1ZM329,606.3L330.1,607.9L324.9,611.6L323.7,610ZM321.9,591.5L325.8,589.2L327.7,592.5L323.8,594.8ZM332.6,594.2L340,591.2L342.2,596.6L334.7,599.6ZM341.2,590.7L348,587.9L350.1,593.1L343.3,595.9ZM346.4,591.2L349.8,587.7L354.6,592.5L351.2,596ZM351,587.4L354.4,584L358.7,588.3L355.3,591.7ZM357.9,584.7L360.1,583.8L361.8,587.8L359.6,588.7ZM362.8,582.7L365.3,581.6L366.8,585.4L364.3,586.4ZM367.8,580.8L370.4,579.7L372,583.4L369.3,584.5ZM360.5,595.9L367.6,592.6L372.5,603.1L365.4,606.4ZM328.8,598.1L330.9,598.1L330.9,600.2L328.8,600.2ZM331.1,604.7L335,602.5L337,606L333.1,608.3ZM336.3,601.1L340.9,598.5L343.3,602.7L338.7,605.4ZM334.8,616.5L336.4,615.5L340.3,621.5L338.7,622.6ZM338.1,613.2L339.7,612.1L343.9,618.6L342.3,619.6ZM342.3,611.4L344,610.3L347.4,615.5L345.7,616.6ZM346,608.7L347.7,607.6L352.2,614.4L350.5,615.6ZM350.3,606.8L351.9,605.7L355.6,611.4L354,612.4ZM353.8,603.8L355.4,602.7L359.1,608.4L357.5,609.5ZM358.4,599.2L360.3,598.1L362.2,601.5L360.4,602.5ZM303.2,619.3L306,617.4L309.7,622.9L306.9,624.8ZM306.5,615.9L309.5,613.8L314.1,620.6L311.1,622.7ZM310.7,613.4L313.6,611.4L318.1,618L315.2,620ZM314.7,611.4L318.2,609L322.4,615.2L318.9,617.6ZM319.2,608.9L322.2,606.9L325.8,612.2L322.8,614.2ZM326.8,619.7L330.1,617.8L332.9,622.6L329.5,624.5ZM266.3,650.4L269,647.7L271.8,650.4L269.1,653.1ZM272.9,643.8L275.8,640.9L278.3,643.4L275.4,646.3ZM276,638L278.8,636.5L281.8,642.3L279,643.8ZM279.9,636.8L282.5,635.4L285.3,640.8L282.7,642.1ZM283.2,634.2L285.4,633.1L288.7,639.4L286.5,640.6ZM286.4,632.1L288.8,630.9L292.1,637.4L289.7,638.7ZM290.4,631.3L292.7,630.1L295.3,635.1L293,636.3ZM293.3,629L296,627.6L299.1,633.7L296.4,635.1ZM296.9,627.6L299.7,626.2L302.3,631.3L299.6,632.7ZM300.2,625.3L302.8,624L306.2,630.6L303.6,631.9ZM279.6,633.4L281.8,633.4L281.8,635.6L279.6,635.6ZM285.9,623.7L289.8,621.4L292.1,625.3L288.2,627.6ZM298.8,610.9L300.9,610.9L300.9,613.1L298.8,613.1ZM263.3,625.6L266.2,623.8L268,626.7L265.1,628.5ZM266.5,623.5L269.6,621.6L271.4,624.5L268.3,626.4ZM270.1,621.3L272.7,619.7L274.5,622.6L271.9,624.2ZM275.4,623.4L277.6,623.4L277.6,625.6L275.4,625.6ZM266,634.8L268.7,633.2L270.3,635.9L267.6,637.5ZM298.1,640.6L301.6,638.3L304.9,643.5L301.4,645.7ZM302.7,638.2L306.7,635.7L309.8,640.6L305.9,643ZM307.3,634.8L310.8,632.6L313.6,637L310.1,639.2ZM313.2,630.8L316.3,628.7L318.4,631.9L315.3,634ZM316.6,628.1L320,625.9L322.1,629.1L318.8,631.4ZM320.7,625.9L323.9,623.8L325.9,626.7L322.6,628.9ZM279.5,651.6L283.3,649.9L285,653.7L281.2,655.4ZM284.1,649.8L287.8,648.2L289.5,652L285.8,653.6ZM288.5,648L292.4,646.2L294.1,650.2L290.2,651.9ZM293,646.2L296.9,644.5L298.5,648.2L294.6,649.9ZM372.3,559.5L378.2,556.2L385.7,572L379.8,578.7L375.3,577.8L375.7,573.7L379,572.8ZM365.1,511L366.9,514.3L362.6,516.5L360.9,513.2ZM367.4,515L369.4,518.9L365.7,520.8L363.7,517ZM369.9,519.3L371.9,523.1L367.5,525.4L365.5,521.6ZM372.1,524L373.8,527.4L370.2,529.3L368.4,525.9ZM374.2,528.1L376.3,532L371.7,534.4L369.7,530.5ZM370.3,509L374.2,506.7L376.1,510L372.2,512.3ZM376.2,517.3L378.7,515.9L380.1,518.4L377.6,519.8ZM377.6,525.1L380.2,523.4L383.3,528.3L380.8,530ZM381.5,522.9L384.4,521L387.2,525.4L384.3,527.3ZM385.6,520.7L388.4,518.9L391.1,523L388.3,524.8ZM389.7,518L392.1,516.5L395,521.1L392.7,522.6ZM393.2,508.2L394.8,512L389.2,514.4L387.5,510.6ZM396.2,514.2L397.6,517.3L391.5,519.9L390.2,516.8ZM380.2,505.2L385,502.4L387.8,507.2L383,509.9ZM353.5,503.2L362.6,497.9L366.2,504.1L357.1,509.4ZM392.3,501.7L397.1,499L399,502.3L394.2,505ZM396.9,508.1L404.5,503.6L407.8,509.3L400.1,513.7ZM376.3,542.9L379.4,540.9L381.7,544.5L378.7,546.5ZM381.1,539.1L384,537.2L386.7,541.2L383.8,543.2ZM384.7,536L386.7,534.7L390,539.7L388,541ZM387.6,533.7L389.1,532.7L392.4,537.7L390.8,538.7ZM390.4,532.2L392.3,531L395.2,535.5L393.4,536.7ZM393.3,530.5L395.2,529.3L398.4,534.2L396.5,535.5ZM396.3,528.8L398.1,527.7L401.1,532.3L399.3,533.4ZM399.2,527L400.9,525.9L404.2,531L402.5,532.1ZM400.4,532L404.3,529.7L407.6,535.4L403.7,537.6ZM404.9,538.5L408.5,537.2L411.5,545.5L407.9,546.8ZM402.1,517.8L409.4,514.9L412.4,522.5L405.1,525.4ZM413,514.7L420.7,511.7L423,517.6L415.3,520.5ZM414.1,526.4L416,528.1L410.2,534.6L408.3,532.9ZM419.9,530.9L422.1,532.9L416.4,539.4L414.1,537.4ZM383.7,548.9L385.5,551.7L382.9,553.3L381.1,550.5ZM386,552.5L387.8,555.3L385,557.2L383.2,554.3ZM388,556.2L389.9,559.3L387.5,560.9L385.6,557.8ZM390.5,560L392.3,562.8L389.8,564.4L388,561.6ZM392.9,563.3L395,566.6L391.9,568.5L389.8,565.2ZM395.1,566.8L397.4,570.4L394.4,572.3L392.1,568.7ZM394.8,573.7L410.7,563.7L413.2,567.8L398.2,577.8ZM383.8,578.7L386.5,577.2L389.2,581.9L386.5,583.5ZM386.7,585.3L391.8,588.3L389.8,591.6L384.8,588.7ZM393.1,588.8L397.2,591.1L394.7,595.5L390.6,593.1ZM399.8,582.8L406.8,580.4L408.2,584.4L401.1,586.7ZM410.3,579.4L416.4,577.4L417.9,581.8L411.8,583.9ZM405,586.2L409.1,589.5L406.6,592.5L402.6,589.2ZM410.1,590.2L414.2,593.6L411,597.5L406.9,594.1ZM402.8,598.4L410.4,602.8L406.9,609L399.2,604.6ZM408.4,605.7L414.6,609.3L411.3,614.9L405.1,611.4ZM375.2,606.9L378.2,610.2L376.3,611.9L373.4,608.6ZM379.2,611.1L381.9,614.1L379.6,616.2L376.9,613.2ZM382.5,614.9L386,618.8L383.6,620.9L380.2,617.1ZM388.8,619.1L391.2,617.6L395.4,624.2L393,625.7ZM392.7,617.5L394.8,616.2L398.7,622.4L396.5,623.7ZM395.9,615.3L398.1,613.9L401.6,619.5L399.4,620.9ZM369,625.6L372.4,622.8L376.1,627.3L372.8,630.1ZM374,621.5L377.4,618.7L380.9,622.8L377.5,625.6ZM383,624.7L385.3,626.1L383.2,629.7L380.8,628.3ZM387.2,627.3L389.3,628.6L387.7,631.4L385.5,630.1ZM389.7,638.3L399.4,632.2L401.6,635.7L391.9,641.8ZM402.3,630L404.9,628.1L408.5,633.3L405.8,635.1ZM405.8,627.6L408.7,625.6L412.7,631.4L409.8,633.4ZM409.7,624.8L412,623.3L416.1,629.2L413.9,630.8ZM413.7,622.9L416,621.3L419.5,626.3L417.2,627.9ZM355.5,642.8L358.7,641.4L360.9,646.4L357.7,647.8ZM359.7,641.4L362.3,640.2L364.4,644.9L361.8,646ZM363.3,639.6L366.1,638.4L368.1,642.8L365.3,644.1ZM367.1,637.8L369.7,636.6L371.7,641.2L369.1,642.3ZM370.6,636L373.6,634.7L375.9,639.9L372.9,641.3ZM339.3,644.8L342.1,643.2L343.7,645.9L340.9,647.5ZM343.5,648.3L346.8,646.4L351.2,654L347.9,655.9ZM375.6,647.9L380.4,645.5L382.6,649.8L377.7,652.2ZM382.3,643.9L386.5,641.8L389,646.6L384.7,648.8ZM394.7,643.7L397.2,642.2L399.9,647L397.5,648.4ZM398.3,649L403.3,646.2L406.2,651.3L401.2,654.1ZM404.2,645.9L409.2,643L412.1,648.1L407.1,650.9ZM410.4,642.3L414.6,639.8L417.7,645.2L413.4,647.6ZM412.9,552L416.8,549.7L420.1,555.4L416.2,557.6ZM487.2,503.9L494.9,499.5L497.1,503.4L489.5,507.8ZM498.4,511.1L502,509.5L504.7,515.5L501.1,517.1ZM503.7,508.3L507.5,506.6L510.3,512.9L506.6,514.6ZM508.8,505.7L513.3,503.7L516.3,510.5L511.8,512.5ZM515.2,503.7L518.7,502.1L521.3,507.9L517.7,509.5ZM526.9,503.9L533.1,500.3L535.8,505.1L529.6,508.7ZM513.3,536.2L518.8,532L513.8,522L517.7,519L524.7,529.5L528,532.8L518,540.3ZM526.3,518.7L540.5,509.5L546.3,518.7L533,526.7L531.3,523.7L528,525.3ZM547.2,528.7L554.7,524.5L564.3,538.3L556.3,543.7ZM545.9,543.9L553.5,539.5L556.8,545.1L549.1,549.5ZM541.6,545.6L545,543.7L547.7,548.4L544.4,550.3ZM532.7,538.9L538.9,535.3L541.6,540.1L535.4,543.7ZM539,549.1L541.4,547.7L543.7,551.6L541.2,553ZM527.1,542.3L531,548.2L526.3,551.3L522.4,545.4ZM534.6,552.3L537.9,557.3L531.8,561.4L528.5,556.4ZM555.8,551.2L560,549.1L563.7,556.4L559.4,558.5ZM562.4,548.2L566.9,545.9L569.9,551.8L565.4,554.1ZM540.5,566.2L551.3,557.8L556.3,564.5L553,567.8L546.3,573.7ZM545.9,575.7L550.7,572.9L553.4,577.7L548.7,580.4ZM554.1,578.1L557,581.8L552.4,585.5L549.5,581.8ZM560.2,585.9L564.1,590.8L559.5,594.5L555.6,589.5ZM534.7,591.2L542.2,587L553,598.7L546.3,604.5ZM508,557L516.3,552L526.3,566.2L518,571.2ZM512.7,582.8L519.7,577.8L525.5,586.2L521.3,592L518,590.3ZM502.4,571.4L506.3,569.1L510.2,575.9L506.3,578.2ZM496.3,576L498.5,574.7L500.4,578L498.2,579.3ZM478.8,544.5L483.8,541.2L488,547.8L490.5,546.2L494.7,552L489.7,555.3L487.2,552L484.7,552.8ZM461.7,554.5L469.7,550.8L476.7,564.5L468.8,568.7ZM457.2,565.3L460.5,562.8L466.3,572L462.2,575.3ZM442.2,574.5L449.7,568.7L456.3,580.3L448.8,586.2ZM480.5,526.2L489.7,518.7L492.2,522L487.2,525.3L488.8,528.7L485.5,530.7L483.8,527.8L482.2,528.7ZM493.7,524.6L497.8,529.5L494,532.7L489.9,527.8ZM498.7,530.2L502,534.2L497.4,538.1L494.1,534.1ZM502.2,535.4L506.4,540.4L502.8,543.4L498.6,538.4ZM507.6,540.3L511.4,544.8L506.8,548.7L502.9,544.2ZM431.4,511.4L433.5,514L431,516.1L428.9,513.5ZM433.9,514.7L435.7,516.9L433.5,518.6L431.7,516.4ZM436.5,517.3L438.4,519.7L436,521.6L434.1,519.2ZM438.3,520.5L440.5,523.2L438.4,524.9L436.2,522.2ZM441.1,523.1L443.3,525.9L440.9,527.8L438.7,525.1ZM443.3,526.3L445.4,528.9L443.2,530.8L441.1,528.1ZM446.1,529.3L447.9,531.5L445.1,533.8L443.3,531.6ZM448,532.5L450,534.9L447.8,536.6L445.9,534.2ZM441.6,503.2L445.1,507.1L441.4,510.4L437.9,506.5ZM445,508.2L448.1,511.6L444.9,514.4L441.8,511ZM448.9,512.4L451.7,515.6L448.3,518.7L445.4,515.5ZM452.5,516.1L455.9,519.9L453.1,522.5L449.6,518.7ZM456.6,520.6L459.5,523.7L455.9,526.9L453.1,523.7ZM453.4,509L457.3,506.7L459.2,510L455.3,512.3ZM464.7,510.9L469.4,508.1L471.3,511.5L466.6,514.2ZM474,502L479.7,506.2L475.5,511.9L469.8,507.6ZM480.4,507.2L486.2,511.6L481.7,517.5L475.9,513.2ZM457.7,523.9L463,521.2L465.2,525.6L459.9,528.3ZM464.1,520.1L469.5,517.4L471.6,521.7L466.2,524.4ZM470.9,516.9L476.1,514.3L478.4,518.7L473.2,521.3ZM463.3,537.8L466.4,536.2L467.9,539.4L464.8,540.9ZM467.3,535L470.1,533.7L471.9,537.4L469.1,538.7ZM471.7,533.2L474.3,531.9L475.9,535.2L473.2,536.5ZM476.1,531.5L478.6,530.3L480.2,533.7L477.7,534.9ZM452.4,548.4L455.2,545.6L458.8,549.2L456,552ZM458.1,542.6L461.1,539.6L464.8,543.3L461.8,546.3ZM454.9,550.5L459.7,547.7L461.1,550.2L456.3,552.9ZM416.9,542L423.1,538.4L424.1,540.3L417.9,543.9ZM422.1,548.2L424.5,547L427.2,552.4L424.8,553.5ZM427,546.2L429.2,545.2L431.8,550.5L429.7,551.6ZM431.1,543.9L434,542.5L436.8,548L433.9,549.5ZM435.6,541.2L438.3,539.8L441.5,546.3L438.8,547.6ZM440.6,539.5L443.1,538.2L445.7,543.4L443.1,544.7ZM432.6,536.8L437.3,534.1L440.1,538.8L435.3,541.6ZM427.3,525.1L430.6,523.1L432,525.6L428.7,527.5ZM419,511.7L422.3,509.8L423.7,512.3L420.4,514.2ZM433.2,562L436.2,566.2L433,568.6L429.9,564.3ZM437.5,567.5L440.7,572L437.2,574.6L433.9,570.1ZM415.8,574.9L418.4,572.9L421.9,577.5L419.3,579.4ZM419.3,572.9L422.2,570.7L425.4,575L422.5,577.2ZM422.1,569.4L424.8,567.4L428.5,572.4L425.8,574.4ZM424.8,582.2L428.3,582.8L427.8,585.4L424.4,584.9ZM429.9,583L433.1,583.6L432.7,586.2L429.5,585.6ZM425.2,598.4L428.9,596L430.8,598.9L427.1,601.3ZM429.9,595.2L433.3,593.1L435.5,596.5L432,598.7ZM434.4,592.3L437.9,590.1L439.8,593.1L436.3,595.3ZM414.4,603.9L420.6,600.3L423.3,605.1L417.1,608.7ZM448.8,595L451.7,593.3L455.2,599.2L452.4,600.9ZM452.8,592.8L455.8,591L459.6,597.3L456.6,599.2ZM456.7,590.8L460.1,588.7L463.6,594.6L460.2,596.6ZM460.5,588.3L464,586.2L467.1,591.4L463.7,593.5ZM465.1,586.2L467.9,584.5L470.8,589.2L467.9,591ZM469.9,582.2L472.1,580.9L474.5,585.1L472.3,586.4ZM473.1,579.6L475.9,578L478.8,583L476,584.6ZM477.2,577.5L479.9,576L482.3,580.3L479.7,581.9ZM481.4,575.5L483.7,574.2L486.4,578.8L484.1,580.1ZM483.9,573.5L486.1,571.8L488.5,575.1L486.3,576.8ZM487.4,571.7L490,569.7L492.2,572.7L489.6,574.6ZM490.7,568.4L492.6,567L495.1,570.3L493.2,571.8ZM472.2,597.3L475.4,595.8L477.2,599.6L474,601.1ZM476.2,595.6L478.9,594.4L480.2,597.4L477.5,598.6ZM479.6,594.3L482.8,592.8L484.3,595.9L481,597.4ZM483.1,592L486.1,590.7L487.7,594.3L484.8,595.7ZM455.9,601.4L459,600L460.3,603.2L457.2,604.5ZM460.5,598.8L464,597.4L465.5,601.1L462.1,602.5ZM465.6,596.7L468.9,595.4L470.2,598.4L466.9,599.8ZM458.4,605.8L461.6,604.4L462.8,607L459.5,608.4ZM464.2,602.6L467,601.4L468.3,604.5L465.5,605.7ZM442.9,605.6L449.1,602.1L452.4,607.7L446.2,611.3ZM432.6,607.7L437.3,604.9L440.1,609.7L435.3,612.4ZM423.5,615L429.7,611.4L434.1,619L427.9,622.6ZM429.9,624L438.4,619.1L442.8,626.7L434.3,631.6ZM446.7,617.8L454.4,613.4L455.9,616.2L448.3,620.6ZM465.2,616.4L468.1,614.7L470.7,619L467.8,620.8ZM469.4,613.9L472.2,612.3L474.7,616.4L471.9,618.1ZM473.5,611.4L476.4,609.7L479.1,614.1L476.1,615.8ZM477.4,609.2L485,604.8L486.9,608.1L479.3,612.5ZM483.3,603.6L485.1,602.5L488.7,608.7L486.9,609.8ZM490.6,608.1L498.2,603.7L500.4,607.6L492.8,612ZM488.6,615.2L494.2,612L499.1,620.5L493.5,623.7ZM475.5,626.2L482.2,621.2L484.7,624.5L480.5,627L486.3,630.3L478,635.3L476.7,632.8L482.2,629.5ZM534.7,624.5L544.7,617.3L552.2,626.2L546.3,631.2L543,628.7L538.8,631.2ZM522.1,630L531.2,624.7L535.6,632.4L526.5,637.6ZM525.9,642.2L536.5,636.1L541.7,645.2L531.2,651.3ZM555.1,639.3L559.8,636.6L562.6,641.3L557.8,644.1ZM491.3,653.7L516.3,637.8L519.7,643.7L514.7,647L518,652L513,656L493,656ZM454.7,636.2L458.8,633.7L473,656L463,656ZM468.8,641.2L475.5,639.5L482.2,648.7L474.7,653.7ZM445.6,644.2L451.8,640.7L457.1,649.8L450.9,653.3ZM440.5,632.8L448.8,627.8L452.2,631.2L446.3,635.3L448,637.8L444.7,640.3ZM413.6,632.1L421.3,627.6L425.7,635.3L418.1,639.7ZM431.4,639.2L435.9,643L433.2,646.2L428.7,642.3ZM437.1,644.1L441,647.3L438.2,650.6L434.3,647.4ZM442.1,648.6L446.5,652.3L443.6,655.7L439.2,652ZM416.1,653.5L423.8,649.1L426.5,653.8L418.9,658.3ZM523,527L528.8,522.8L533,527L528,532.8ZM603.5,506.8L612.1,500.8L617.8,508.8L609.2,514.9ZM591.3,521.6L598.6,516.5L602.7,522.4L595.4,527.5ZM600.2,515.5L604.7,512.3L607.8,516.8L603.3,520ZM605.6,522.4L608.2,520.6L610,523.2L607.4,525ZM630.6,497.5L634.9,501.7L629.6,507.1L625.3,502.8ZM636.1,503.3L640.7,507.9L636.3,512.2L631.8,507.7ZM642.1,509.1L646.5,513.5L641.5,518.5L637.1,514.1ZM607.3,541.2L612.8,537L611.2,529.5L613.7,524.5L622,527L627,517L638.7,517.8L645.3,512.8L650,518.7L614.5,549ZM647,507L652,502L668.7,502L655.3,512.8ZM670,512.8L682,502L688.7,502L692,512L688.7,515.3L692,518.7L687,522.3L681.2,516.2L676.2,518.7ZM657,525.3L664.5,518.7L670.3,525.3L667.8,527L675.3,534.5L672,537.8L664.5,529.5L662,531.7ZM616.7,557.8L646.2,532.8L654.5,542L645.3,550.3L648.7,560.3L647,562.8L641.2,555.3L635.3,559.5L636.2,562.8L629.5,559.5L623.7,566.2ZM623.7,567.1L627.4,564.5L629.6,567.6L625.9,570.2ZM661.1,558.3L666.4,554.5L669.6,559.1L664.2,562.8ZM658.2,564L663.6,560.2L665.8,563.4L660.4,567.1ZM592,578.7L611.2,562.8L620,573.7L609.5,580.3L612,585.3L605.3,589.5L601.2,582.8L597,585.3ZM572,594.5L588.7,581.7L595.3,589.5L573.7,602ZM579.5,606.2L596.2,592.8L603.7,602L592,610.3L589.5,604.5L586.2,606.2L589.5,613.7L586.2,615.3ZM586.8,616.7L591.3,613.5L594.5,618L590,621.2ZM608.7,592.9L611.1,595.4L608.6,597.7L606.3,595.2ZM611.9,596.2L614.3,598.7L611.7,601.1L609.3,598.6ZM615,599.5L617.4,602.1L614.9,604.3L612.6,601.8ZM618.3,602.5L620.9,605.3L617.8,608.2L615.1,605.4ZM621.2,606.3L623.5,608.8L620.9,611.2L618.6,608.7ZM606,604L607.7,605.9L600.5,612.5L598.7,610.6ZM608.5,608.2L610.4,610.2L604.6,615.5L602.8,613.5ZM612.8,611.1L614.5,612.9L608.5,618.4L606.8,616.6ZM616.1,614.5L618,616.6L612,622L610.2,620ZM620,584.2L622.5,581.2L628,585.8L625.5,588.8ZM636.2,581L640.7,577.8L643.8,582.3L639.3,585.5ZM631.7,589.2L635.6,594.4L630.7,598.1L626.7,592.9ZM635.8,595.8L640.4,601.9L636.6,604.8L632,598.7ZM637.8,605.3L643.1,601.5L646.2,606.1L640.9,609.8ZM623.9,606.1L627.6,603.5L630.1,607.2L626.4,609.8ZM632.1,610.4L635.3,608.2L637.9,611.9L634.7,614.1ZM654,602.8L660,597.3L665.3,602.8L663.7,605.3L683.7,623.7L676.2,630.3ZM647.5,617.6L653.4,613.5L656.5,618L650.6,622.1ZM642.8,622.3L645.4,620.5L648.5,625L645.9,626.8ZM640.7,638.7L658.7,623.3L674,643.7L657.8,657.7ZM610,636.2L615,632.8L629,650.3L624,653.3ZM615.8,626.7L623.1,621.7L628.2,628.9L620.9,634ZM612.1,629.7L614.7,627.9L616.9,631L614.3,632.8ZM572,623.7L580.3,618.7L586.2,626.2L583.7,628.7L580.3,624.5L574.5,627.8ZM578.1,629.7L580.6,630.7L579.2,634.5L576.7,633.6ZM582.4,631.6L585,632.6L583.6,636.3L581,635.4ZM587.1,632.6L589.7,633.6L588.3,637.4L585.6,636.4ZM591.5,634.1L594.3,635.1L592.7,639.3L589.9,638.3ZM593.9,626.8L599.3,623L603.4,628.9L598.1,632.6ZM600.4,619.2L603,620.3L601.9,623.1L599.3,622.1ZM604.6,621.1L607.1,622L606,624.7L603.6,623.7ZM573.9,640.5L577.6,644.2L574.8,647.1L571.1,643.4ZM578.2,644.3L582.2,648.3L578.8,651.7L574.8,647.7ZM581.9,640.5L585.3,639.2L586.9,643.1L583.5,644.5ZM586.4,639.4L589.6,638.1L591.1,641.7L587.9,643ZM708.8,513.4L711.1,511.7L716.2,519L713.9,520.6ZM700.3,524.7L704.8,521.5L708,526L703.5,529.2ZM710.3,538.7L719.5,528.7L726,532.8L726,540.3L717,545.7ZM699.2,550.5L700.6,549.3L704.1,553.5L702.7,554.7ZM708,638.2L711.7,639.2L707.7,654.1L704,653.2ZM702.5,649.7L706.2,650.7L704.8,656L701.1,655ZM757.5,508.3L763.3,500.8L762.5,498.7L765.8,496.7L768.3,498.3L775.3,492.5L781.7,499.7L763.3,515.8ZM119.8,646.7L123.2,644.8L124.9,647.8L121.5,649.8ZM124.6,644.1L128.5,641.8L130.2,644.8L126.4,647ZM129.5,641.4L133.7,639L135.7,642.4L131.5,644.8ZM132.9,634.4L136.8,632.1L140.4,638.3L136.5,640.6ZM140.2,634.1L144.3,631.9L146.2,635.4L142.1,637.7ZM147.6,630.6L152.4,627.9L154.1,631L149.3,633.7ZM150.4,625.7L153.4,623.4L157.9,629.2L154.9,631.6ZM155.2,622.1L158.7,619.4L162.8,624.8L159.3,627.5ZM120.9,640L123,638.8L124.1,640.6L122,641.9ZM165.1,616.3L169,614.1L172.2,619.7L168.3,621.9ZM175.8,610.6L179.5,608.5L181.2,611.6L177.5,613.6ZM180.5,607.9L183.9,606.1L185.5,609.2L182.2,611ZM185,605L188.2,603.2L189.9,606.5L186.8,608.3ZM173.7,629.2L175.4,627.7L177.9,630.7L176.2,632.1ZM176.2,626L177.7,624.7L180.9,628.5L179.4,629.8ZM179.4,624.1L181.1,622.7L183.9,625.8L182.2,627.3ZM117.6,666.6L120.4,665L123.7,671.1L120.9,672.7ZM122,665.8L124.6,664.4L127.3,669.5L124.7,670.8ZM125.4,663.4L127.9,662.1L130.7,667.2L128.2,668.5ZM128.3,660.5L131.2,659L134.6,665.4L131.8,666.9ZM131.5,659.1L136.3,656.3L138.5,660.2L133.7,663ZM139.6,654.4L147.2,650L150.4,655.6L142.8,660ZM148.6,646.4L150,645.5L153.2,650.4L151.8,651.3ZM153.5,643.2L155,642.2L158.5,647.4L157,648.4ZM156.5,641.8L159,639.6L164.2,645.6L161.7,647.8ZM159.5,638.3L161.7,636.3L167,642.4L164.8,644.4ZM162.7,635L164.8,633.2L170.1,639.3L168,641.1ZM142,663.6L145.3,661.7L148,666.4L144.7,668.3ZM134.1,669.8L136.5,668.4L137.6,670.2L135.1,671.6ZM166.4,642.5L168.9,641.1L170.3,643.5L167.8,644.9ZM166.8,654.3L169.9,653.2L171.4,657.1L168.3,658.2ZM172.9,651.7L177,650.2L178.7,654.9L174.6,656.4ZM199.7,648.3L202.9,644.7L207.4,648.7L204.2,652.3ZM203.1,644L206.5,640.3L210.6,643.9L207.2,647.7ZM207.3,639.8L210.2,636.5L214.5,640.3L211.6,643.6ZM209.5,659.9L212,658.6L214.8,664.1L212.4,665.4ZM214,658.3L216,657.2L218.3,661.5L216.3,662.5ZM217.8,656L220.1,654.8L222.4,659.3L220.1,660.4ZM222,653L225.4,651.1L226.3,652.7L223,654.6ZM227.1,646.1L230.2,644.3L232.8,648.7L229.7,650.5ZM230.8,643.2L234.2,641.2L237.1,646.2L233.8,648.2ZM235.1,641.1L238.6,639L241.6,643.9L238,646ZM240.3,646.7L244.2,644.4L246.4,648.3L242.5,650.6ZM244.5,636.5L247.4,633.7L251.6,637.9L248.7,640.8ZM248.4,633.6L251.1,630.9L255.2,635L252.5,637.7ZM254,630.1L261.6,625.6L266,633.3L258.4,637.7ZM250.7,649.5L254,647.4L256.4,651.1L253,653.2ZM255.7,645.8L259.2,643.6L261.6,647.4L258.1,649.6ZM260.9,642.6L264.6,640.3L267,644L263.3,646.3ZM256.9,657.1L260.2,654.3L263,657.6L259.6,660.4ZM261.3,654.1L264.5,651.5L266.8,654.3L263.7,657ZM246.2,656.9L248.9,655.3L250.5,658.1L247.8,659.7ZM201.7,664.2L204,667.3L201.8,669L199.5,665.9ZM204.5,667.7L206.5,670.3L204.1,672L202.2,669.5ZM207,671.1L208.9,673.6L206.4,675.5L204.5,673ZM209.4,674.6L211.2,677.1L208.6,679L206.8,676.5ZM211.7,677.7L213.9,680.6L211.5,682.4L209.3,679.5ZM214.3,681.1L216.4,683.9L214.1,685.6L212,682.8ZM212.4,687.3L218.6,683.8L220.9,687.7L214.7,691.2ZM198.5,675.7L199.9,678.6L195.3,680.8L193.9,677.8ZM200.5,680.6L202.1,683.9L197.1,686.2L195.6,682.9ZM202.6,685.4L204.4,689.2L199.9,691.4L198.1,687.5ZM203.3,693.8L207.2,691.6L209.4,695.5L205.5,697.7ZM216,679.2L220.5,677L223.8,683.6L219.3,685.8ZM221.2,677.4L225.8,675.1L228.6,680.5L224,682.8ZM226.3,675.1L231,672.8L234,678.8L229.3,681.1ZM231.6,671.2L234.6,669.3L238.1,675L235.1,676.8ZM235.6,669.4L237.9,667.9L241.3,673.5L239,674.9ZM238.7,667.1L241.2,665.6L244.2,670.4L241.7,671.9ZM241.7,664.5L244.1,663L247.8,668.8L245.4,670.3ZM245.6,663.4L248.1,661.8L251.3,667L248.8,668.5ZM236.5,688.3L241.4,685.8L243.2,689.5L238.4,692ZM241.3,685.2L246.1,682.8L248.5,687.7L243.7,690.1ZM246.2,680.1L248,679.1L250.3,683L248.5,684ZM249.7,678.1L251.6,677L253.8,680.8L252,681.9ZM253.5,676.1L255.1,675.1L257.1,678.5L255.5,679.5ZM257,674L258.7,673L261,677.1L259.4,678ZM260.5,671.9L262.2,670.8L264.7,675.1L263,676.1ZM209.9,703.3L213,701.4L215,704.7L211.8,706.6ZM213.7,700.9L217.4,698.7L219.4,702L215.7,704.2ZM217.4,696.2L220.6,694.3L224.1,700.2L221,702.1ZM221.7,694.7L225.5,692.4L228.6,697.5L224.8,699.8ZM225.8,692.6L231.4,689.3L234.2,694.1L228.6,697.3ZM213.3,709.9L215.1,709.9L215.1,711.8L213.3,711.8ZM234,698.9L236.9,702.5L234.2,704.5L231.4,700.9ZM237.5,702.9L239.9,705.9L236.7,708.4L234.3,705.4ZM240.4,706.4L243.3,710L240.5,712.2L237.7,708.6ZM243.7,710.3L246.4,713.7L243.3,716.1L240.6,712.7ZM246.7,714.5L250.5,718.3L247,721.8L243.2,718ZM251.2,719.4L255.6,723.8L252.4,727L248,722.6ZM247,691.2L249,694.3L244.4,697.4L242.3,694.3ZM250.9,696L252.7,698.8L247.8,702L246,699.3ZM253.9,701.2L256.3,704.3L252.6,707.2L250.2,704.1ZM257.2,704.7L259.9,708.1L255.9,711.2L253.2,707.8ZM260.2,708.8L262.7,711.9L258.9,714.9L256.5,711.7ZM262.8,713.2L265.1,716.2L261.9,718.7L259.6,715.7ZM253.5,695.2L257.1,693L258.3,695L254.7,697.2ZM261.7,690.2L265.2,688L266.3,689.7L262.7,691.9ZM259.5,695.2L262.8,693.3L265.5,698.1L262.2,700ZM237.2,715.7L238.3,718.5L236,719.4L234.9,716.6ZM239.8,722.1L240.8,724.5L238.5,725.4L237.6,723.1ZM242.5,728.3L243.5,730.6L240.5,731.8L239.6,729.5ZM117.2,701.8L122,699L124.4,703.2L119.7,706ZM124.5,698.9L129.3,696.2L131.5,700.1L126.7,702.8ZM123.6,718.9L131.2,714.5L133.1,717.8L125.5,722.2ZM117.5,721.7L121.4,719.5L124.2,724.3L120.3,726.5ZM172.5,711L175.3,709.6L177.3,713.5L174.5,714.9ZM177.4,708.4L180.3,707L182.5,711.4L179.6,712.8ZM183,704.2L186.8,702.7L188.8,707.9L185.1,709.4ZM187.5,702.5L190.6,701.2L192.4,705.7L189.3,706.9ZM195,716.1L197.7,714.5L199.3,717.2L196.6,718.8ZM150.2,728.9L157.9,724.5L159.8,727.8L152.1,732.2ZM255.7,731.8L259,729.9L261,733.2L257.6,735.1ZM142.8,732.5L146.1,730.6L147.2,732.5L143.9,734.4ZM374.8,698.5L395.7,684.3L401.5,693L382.3,708.2ZM358.2,714.3L364,709.3L362.3,704.3L365.7,703L372.3,711L363.2,718ZM354.7,682.9L358.9,680.1L361.8,684.3L357.5,687.1ZM359.8,679.3L363.7,676.7L366.5,681L362.7,683.6ZM364.2,675.8L368.7,672.8L372,677.7L367.5,680.7ZM373.1,670.2L376.5,667.5L380.4,672.3L376.9,675.1ZM377.3,667.2L380.9,664.3L384,668.1L380.3,671ZM383.2,664.3L386,662.6L387.9,665.6L385.1,667.3ZM389.5,660L392.6,658L394.9,661.7L391.8,663.6ZM387.2,657.9L391.9,655.2L394.2,659.1L389.4,661.8ZM344.7,669.5L347,667.8L351.3,673.9L349.1,675.5ZM350.9,665.5L352.9,664.1L357.4,670.3L355.4,671.8ZM358.4,659.2L361.3,658.1L362.9,662.7L360,663.7ZM362.1,656.8L364.7,655.8L366.8,661.7L364.2,662.7ZM365.9,655.6L368.7,654.6L370.7,660.2L367.9,661.2ZM370.1,654.8L372.7,653.8L374.4,658.4L371.7,659.3ZM313.6,692L318.3,689.2L321.1,694L316.3,696.8ZM319.1,686.6L322.2,684.7L325.3,689.9L322.2,691.8ZM323,684.5L325.7,682.8L328.9,687.9L326.1,689.6ZM326.7,682.7L329.6,680.9L332.2,685.1L329.3,686.9ZM330,680.7L333.5,678.5L336.1,682.7L332.6,684.8ZM336.1,675.8L340.8,673.1L343.6,677.8L338.8,680.6ZM337.1,695.5L340.5,692.5L342.8,695.1L339.4,698.2ZM340.8,691.9L344,689.1L346.4,691.8L343.2,694.6ZM344.9,688.7L347.9,686.1L349.9,688.4L346.9,691.1ZM342.4,683.1L344.9,683.1L344.9,685.6L342.4,685.6ZM319.9,672.1L324.1,669.5L326.2,672.9L322,675.5ZM324.6,669.7L329,666.8L331.1,670.2L326.7,673ZM329.3,666.1L333,663.8L335.2,667.3L331.5,669.6ZM334.7,661.6L338.5,659.1L341.3,663.4L337.6,665.9ZM342.3,657.1L346.4,654.3L348.8,657.9L344.7,660.6ZM319.3,661.8L322.1,660.2L323.7,662.9L320.9,664.5ZM279,699.9L282.6,696.9L285.4,700.1L281.8,703.2ZM283.2,696.5L286.4,693.8L289.6,697.5L286.4,700.3ZM287.3,693.6L290.7,690.7L293.2,693.6L289.8,696.5ZM290.9,689.9L294.3,687L297.5,690.8L294.1,693.8ZM293.6,686.1L299,683.5L301.2,687.9L295.9,690.6ZM300.4,682.8L305.6,680.2L307.6,684L302.3,686.7ZM305.8,679.7L308.7,677.5L311.9,681.8L308.9,684ZM310.7,675.8L313.5,673.7L317.2,678.6L314.4,680.7ZM315.7,672.4L318.9,670L322.6,674.9L319.4,677.3ZM278.3,717.4L281.1,715.2L285,720L282.2,722.2ZM282.2,714.4L285.7,711.7L289.4,716.3L285.9,719ZM287.5,710.9L290.1,709.3L292.3,712.9L289.6,714.5ZM290.4,708.3L292.8,706.8L295.4,711.1L293,712.5ZM294,707L296.4,705.6L298.7,709.2L296.2,710.7ZM297.1,704.8L299.4,703.4L302,707.6L299.7,709ZM300.4,703.4L303.1,701.8L305.2,705.2L302.5,706.8ZM303.3,701L305.9,699.4L308.4,703.4L305.8,705ZM306.7,698.7L308.8,697.4L311.4,701.7L309.3,703ZM304.6,707.1L308,705.1L309.4,707.6L306,709.5ZM283.8,733.4L286.2,731.5L289.5,735.6L287.1,737.5ZM286.2,730.3L288.9,728.2L292.7,733L290,735.1ZM289.8,728L292.1,726.1L295.3,730.1L293,732ZM293.4,726.1L295.7,724.2L298.7,727.9L296.3,729.8ZM296.1,723.1L298.4,721.3L301.4,725L299.1,726.8ZM300.5,720.5L303.1,718.9L305.8,723.1L303.2,724.7ZM305.2,717.4L307.5,716L310.7,721L308.4,722.5ZM309.8,714.6L312.1,713.1L315.2,718L312.9,719.4ZM315,712.5L316.6,711L319.9,714.8L318.3,716.2ZM317.7,709.9L319.2,708.5L322.6,712.2L321.1,713.6ZM320.8,707.6L322.2,706.3L325.3,709.7L323.9,711ZM323.3,705L324.9,703.6L327.9,706.9L326.3,708.4ZM295.4,717.4L297.6,717.4L297.6,719.6L295.4,719.6ZM323.4,692.4L324.6,692.4L324.6,697.9L323.4,697.9ZM263.1,663.7L272.2,658.5L274.9,663.3L265.8,668.5ZM275.9,668.8L278.8,668.8L278.8,671.6L275.9,671.6ZM277.9,660.7L279.8,659.6L281.7,663L279.9,664ZM270.5,673.8L272.8,677.4L269.5,679.6L267.1,676.1ZM273.5,679.4L275.5,682.5L272.4,684.5L270.4,681.5ZM276.6,684.3L278.8,687.7L276,689.6L273.8,686.2ZM262.7,692.3L267.5,689.5L268.6,691.4L263.8,694.1ZM267.9,697.4L271.8,695.2L273.4,697.9L269.5,700.2ZM262.7,711.2L265.7,708.8L268.6,712.4L265.6,714.8ZM266.8,707.7L270.5,704.6L273.3,708.1L269.6,711.1ZM271.6,704L275.1,701.1L278.3,705L274.8,707.8ZM264.9,727.9L269,724.5L271.6,727.7L267.6,731.1ZM269.7,724L274.3,720.2L277,723.4L272.3,727.2ZM281.5,724.3L284.9,722.3L286.5,725.1L283.1,727ZM270.2,730.7L274.5,733.6L272.8,736.2L268.5,733.3ZM275.6,733.9L279.6,736.6L277.6,739.5L273.6,736.9ZM308.4,784.3L312.3,782.1L314.6,786L310.7,788.2ZM315.3,778L317.2,776.6L321.4,782.8L319.4,784.1ZM319.2,774.7L321.1,773.5L325.5,780.1L323.6,781.3ZM323.8,772.9L326,771.4L329.8,777.2L327.6,778.7ZM327.5,769.6L329.8,768L334.3,774.6L331.9,776.2ZM333.5,762.3L336.8,760.4L341.2,768L337.9,769.9ZM340.8,762.9L343.6,761.3L347.2,767.5L344.4,769.1ZM344,764.3L354.8,759.3L353.2,754.3L355.7,753.5L361.5,757.7L355.7,762.7L346.5,767.3ZM364.5,750.3L374.5,743.3L376.8,746.7L366.9,753.7ZM310.5,773.3L313.9,771.4L315.8,774.7L312.5,776.6ZM295,791.3L304.1,786.1L306.3,790L297.2,795.2ZM285.8,769.6L290.6,766.8L293.8,772.4L289.1,775.2ZM289.8,778.2L295.4,775L298.2,779.8L292.6,783ZM277.8,764.9L278.3,768.3L275.1,768.8L274.7,765.3ZM278.7,770.4L279.2,774.5L276.1,774.9L275.5,770.8ZM266.3,772.1L270.5,768.5L271.7,769.9L267.5,773.5ZM274,776.5L277.7,778.6L276,781.7L272.2,779.5ZM280,780.1L283.3,782L281.2,785.7L277.8,783.8ZM276.7,788.9L283.5,785L286.3,789.8L279.5,793.7ZM272.2,788.8L274.9,787.2L276.5,789.9L273.8,791.5ZM273.6,798.2L280.4,794.3L284.4,801.1L277.6,805ZM283.9,796.4L287.2,794.4L290.8,800.6L287.5,802.6ZM263.5,801.5L266.8,799.6L271.2,807.2L267.9,809.1ZM295.7,808.2L300.4,805.5L302.3,808.8L297.6,811.5ZM346.1,778.7L350.8,775.9L353.6,780.7L348.8,783.4ZM353.2,785L356.1,790.5L352.7,792.3L349.8,786.8ZM356.6,791.5L359.3,796.5L356.2,798.1L353.6,793.1ZM360,797.5L362.8,802.8L359.5,804.6L356.7,799.3ZM319.5,796.8L321.3,794.4L326.7,798.4L324.9,800.8ZM324,789.9L325.9,787.3L331.6,791.6L329.7,794.1ZM329.1,788.2L333.3,786.1L335.7,790.8L331.5,792.9ZM335.1,784.9L340.4,782.2L342.7,786.8L337.4,789.4ZM329.8,800.1L331.6,800.1L331.6,801.9L329.8,801.9ZM341,798.5L346,802L343.6,805.3L338.6,801.8ZM346.5,802.4L352.1,806.4L349.7,809.7L344.2,805.7ZM368,798.6L371.4,796.7L373.3,800L370,802ZM364.7,805.4L373.8,800.2L376.6,804.9L367.5,810.2ZM378.1,762.6L383.1,760.2L385.9,766.1L380.9,768.4ZM378.9,753.5L380.5,752.7L382.4,756.8L380.8,757.6ZM388.4,745.2L392.3,742.9L394.6,746.8L390.7,749.1ZM393.7,746.7L399.9,743.2L402.6,747.9L396.4,751.5ZM398.7,750.8L402,748.9L404.3,752.8L401,754.7ZM405.1,739L409,736.7L412.2,742.4L408.3,744.6ZM403.5,746.3L406.2,744.7L407.8,747.4L405.1,749ZM412,745.9L416.8,748.6L415.3,751.1L410.6,748.4ZM413.6,753.9L416.1,752.5L419.4,758.1L416.9,759.5ZM405.1,765.2L408.9,766.5L406.8,773.1L402.9,771.9ZM413.7,768.6L417.6,769.9L415.7,775.7L411.9,774.4ZM397.4,801.2L400.6,795.6L404,797.5L400.7,803.1ZM403.2,794L406.9,792.1L408.4,795.1L404.7,797ZM407.1,791.5L410.3,789.9L411.8,792.9L408.6,794.5ZM410.6,789.4L414.2,787.6L416.1,791.2L412.5,793ZM414.9,787.8L418.2,786.2L420,789.7L416.7,791.4ZM415.4,673.2L417.6,673.2L417.6,675.4L415.4,675.4ZM415.3,659.4L422.9,655L427.4,662.6L419.7,667ZM441.7,664.6L449.4,660.1L452.6,665.8L445,670.2ZM457.1,657.1L466.2,651.8L468.9,656.6L459.8,661.8ZM423.8,673.6L428.9,672.2L430.4,678L425.4,679.4ZM433.3,671.7L438.1,670.4L439.4,675.2L434.6,676.5ZM426.7,681.8L429.4,680.2L431,682.9L428.3,684.5ZM416.3,673.2L421.1,670.5L423,673.8L418.2,676.5ZM463.8,667.7L478.8,660.2L481.3,664.3L476.3,666.8L477.2,669.3L466.3,671.8ZM446.3,681L458,672.7L460.5,677.7L459.7,681L463,689.3L458,694.3L453.8,691ZM429.7,695.7L441.3,684.7L454.7,699.3L440.5,707.7ZM478,674.3L489.7,668L494.3,678L482.2,684.7ZM491.3,657.7L503,652.7L506.3,657.7L494.7,663.5ZM494.6,666.1L501.7,662.8L504.7,669.3L497.6,672.6ZM500.8,667.3L504.8,664.9L508.2,670.8L504.2,673.1ZM506.1,664.5L509.7,662.4L512.9,667.8L509.3,669.9ZM510.9,661.2L514.5,659L518.1,665.2L514.5,667.4ZM516.3,658.2L518.3,657.3L521.3,663.8L519.4,664.7ZM522,658L526,656.1L527.4,659L523.3,660.9ZM502,684.9L504.9,683.2L507.7,687.7L504.9,689.5ZM504.9,682.1L507.7,680.4L511.1,685.7L508.2,687.4ZM508.4,680L511,678.4L514,683.2L511.4,684.8ZM514.1,676.6L516.2,675.6L518.7,680.7L516.7,681.7ZM516.9,674.5L519.5,673.2L522.3,678.9L519.7,680.2ZM520.6,673.1L522.8,672L525.6,677.6L523.4,678.7ZM524.1,671.8L526.3,670.7L528.9,675.9L526.7,677ZM527.2,667.4L533.1,664.6L535.4,669.6L529.6,672.4ZM530.2,673.3L535.2,671L537.5,676L532.5,678.3ZM505.6,692.7L508.5,691.6L510.6,697.4L507.7,698.4ZM508.7,690.9L511.7,689.8L514.1,696.2L511,697.3ZM511.8,689.5L515,688.3L517.4,694.8L514.2,696ZM515.5,688.2L518.1,687.3L520.6,694.1L518,695.1ZM519.7,684.3L524,683.2L526.3,691.7L522,692.8ZM502.2,705.2L506.3,703.8L509.7,711L505.5,713.5ZM516.4,701.1L522.9,698.1L524.6,701.6L518.1,704.6ZM533,698.5L539.7,695.7L542.2,699.7L538.8,701.3L540.5,705.2L542.2,706L541.3,709L535.5,711.3L533.8,708L536.7,706L535.5,702.7L533.8,703ZM532.3,657.1L543.3,651.9L547,659.9L536,665.1ZM545.3,666.3L546.8,670.9L542.7,672.2L541.2,667.7ZM546.7,671.7L548,675.8L544,677.1L542.7,673ZM548.4,676.5L549.9,680.8L546.1,682.1L544.6,677.8ZM564.1,704.1L566.5,702.7L567.9,705.2L565.5,706.6ZM569.3,705.4L571.1,704.3L573.4,708.2L571.5,709.3ZM494.5,736.5L497.9,734.5L499.8,737.9L496.5,739.8ZM444.8,765.4L449.3,763L451.1,766.5L446.7,768.9ZM450.9,762.8L454.5,760.8L456.1,763.8L452.5,765.7ZM455.8,759.8L460.2,757.5L461.7,760.4L457.4,762.7ZM461.5,756.3L464.3,750.6L467.7,752.3L464.9,758ZM464.8,750L468,743.7L471.2,745.3L468.1,751.7ZM469.1,745L471.9,743.6L475.3,750.3L472.4,751.7ZM472.8,743.6L475.2,742.4L478.3,748.6L475.9,749.8ZM475.9,740.2L481.8,737.5L484.1,742.5L478.2,745.2ZM483.3,755.5L487.2,753.3L489.4,757.2L485.5,759.4ZM498,756.8L501.3,754.3L500.5,751L503.8,749.3L508,759.3L499.7,763ZM418.4,756L424.7,754.3L425.9,758.7L419.6,760.3ZM416.7,783.9L419.6,782L422.5,786.2L419.6,788.2ZM420.8,781.6L423.3,779.9L426.3,784.3L423.7,786ZM424.2,778.8L426.8,777L429.7,781.3L427,783.1ZM427.9,776.7L430.8,774.8L433.6,778.9L430.7,780.8ZM431.6,773.6L433.8,772L436.7,776.2L434.4,777.7ZM435.1,771.4L437.9,769.5L440.7,773.5L437.8,775.5ZM422,798.9L425.2,797.2L427.5,801.8L424.3,803.4ZM425.9,796.5L429.9,794.5L432.7,800L428.6,802ZM430.1,793.6L433.9,791.7L436.7,797.2L432.9,799.1ZM434.6,791.9L438.8,789.8L441.2,794.6L437,796.7ZM439.1,786.6L442.2,785.3L445.1,791.8L442,793.2ZM443.3,785.2L445.8,784L448.8,790.6L446.2,791.8ZM446.5,782.9L449.5,781.5L452.5,788.3L449.5,789.6ZM450.8,781.9L454.2,780.1L456.5,784.4L453.1,786.2ZM455,779.3L459.2,777.1L461.9,782.1L457.6,784.4ZM460.4,777.3L463.9,775.4L466.3,779.8L462.7,781.7ZM464.4,774.2L468.6,772L471.5,777.6L467.3,779.8ZM469.6,769.5L475.8,765.9L478.1,769.8L471.9,773.4ZM490.6,772L494.7,770.1L497,775L493,776.9ZM485.1,777.5L491,774.7L494.3,781.8L488.4,784.6ZM476.7,783L480.8,781.1L485.3,790.6L481.2,792.5ZM415.6,805.5L421.8,801.9L425.4,808.1L419.2,811.7ZM593.3,663.5L598.3,659L606.2,667.3L597.8,674.7L593.7,670.2L596.7,667.7ZM626.6,662.7L632,659L635.7,664.3L630.4,668ZM681.7,679L684,677.4L685.6,679.7L683.3,681.3ZM612,721.8L611.9,722.5L611.6,723L611.2,723.5L610.6,723.7L610,723.8L609.4,723.7L608.8,723.5L608.4,723L608.1,722.5L608,721.8L608.1,721.2L608.4,720.7L608.8,720.2L609.4,719.9L610,719.8L610.6,719.9L611.2,720.2L611.6,720.7L611.9,721.2ZM138.9,734.8L145.1,731.2L148.4,736.9L142.2,740.4ZM131.1,736.4L135.2,734.5L138.2,741L134.1,742.9ZM166.3,732.8L171.9,736.1L170.4,738.8L164.7,735.6ZM121.5,749L124.5,747.6L126.7,752.5L123.8,753.9ZM127.6,746.9L130,745.8L132.1,750.4L129.7,751.5ZM143.9,759.3L150.1,755.7L153.4,761.4L147.2,764.9ZM157.5,780.8L175,769.2L178.3,774.2L160.8,785ZM176.3,768.3L193.3,757.5L196.3,762L179.2,772.5ZM194.2,754.2L210,743.7L214.2,749.2L197.5,760ZM190,784.2L206.7,772.5L210,777.5L193.3,789.2ZM216.7,761.7L221.7,758.7L233.3,775.8L228.3,779.2ZM209.2,792.5L226.7,781.2L230,786.7L212,798ZM191.7,805L207.5,794.2L210.8,800L195,810ZM172.5,792.5L177.5,789.2L189.2,806.7L184.2,810ZM156.7,806.7L169.2,798.3L173,804.2L160,812ZM125.6,787.9L131.3,784.6L132.7,787.1L127.1,790.4ZM147.1,789.8L151.8,787.1L154.6,791.8L149.8,794.6ZM134.8,794.7L139.8,792.3L143.5,800.3L138.5,802.7ZM117.9,802.2L123.5,799L124.8,801.1L119.1,804.4ZM117.6,812.2L122.7,808.5L125.5,812.4L120.4,816.1ZM124.2,808.1L128.3,805.2L130.6,808.4L126.6,811.3ZM148.1,813.3L151.9,816.3L150.2,818.4L146.4,815.4ZM152.3,816.6L156.1,819.6L154.4,821.7L150.6,818.7ZM192.6,815.9L196.1,814.3L199.1,820.8L195.6,822.4ZM194.5,824.1L198,821.9L200.5,825.8L196.9,828ZM198.4,821.6L202,819.3L204.4,823.2L200.8,825.5ZM202.6,819L205.8,817.1L208.5,821.4L205.3,823.4ZM206.2,816.5L209.8,814.2L212.3,818.1L208.6,820.4ZM210.8,814.2L213.7,812.3L216,816L213.1,817.9ZM236,806.5L239.4,804.6L241.6,808.5L238.3,810.4ZM225.6,819.1L228,817.7L229.4,820.2L227,821.6ZM185.3,832L189.2,829.8L191.4,833.7L187.5,835.9ZM177.4,837.2L179.3,837.2L179.3,839.6L177.4,839.6ZM180.6,837.5L182.8,837.5L182.8,839.4L180.6,839.4ZM128.9,834.5L132,831.4L136.1,835.5L133,838.6ZM132.9,831.3L136.3,827.9L140.1,831.7L136.7,835.1ZM136.1,827.2L139.7,823.6L144.1,828L140.5,831.6ZM158.5,828.3L160.8,831.3L158.4,833.2L156,830.2ZM161.1,831.8L163.9,835.4L161.2,837.5L158.4,833.9ZM164.2,835.5L166.9,839L164,841.3L161.3,837.8ZM170.2,841L172,844.2L166.8,847.1L165,844ZM172.6,847.2L174.5,850.6L170.3,853.1L168.3,849.7ZM115.9,842.8L118.6,840.1L121.1,842.6L118.4,845.3ZM119.1,838.9L121.4,836.6L124.5,839.6L122.1,842ZM148.6,837.1L150.5,840.6L146.3,842.9L144.4,839.4ZM150.9,841.3L153.3,845.6L149.2,847.9L146.8,843.5ZM152.9,846.1L155.3,850.5L151.8,852.4L149.4,848ZM128.4,848.5L130.1,847.8L131.5,851.1L129.7,851.8ZM132.4,847.2L134.6,846.3L136,849.8L133.8,850.6ZM136.7,845.2L138.5,844.5L140.1,848.3L138.2,849ZM192.6,848.5L195.5,846.8L197.5,850L194.6,851.8ZM196.6,845.7L199.6,843.9L201.6,847.4L198.6,849.2ZM200.8,843.5L203.9,841.6L206.2,845.3L203,847.2ZM206.7,840.9L211.4,838.6L213.3,842.5L208.7,844.8ZM211.7,838.1L216.1,835.9L218.3,840.2L213.9,842.4ZM216.9,836.1L221.4,833.9L223.3,837.8L218.9,840ZM222.6,830.4L225.7,828.2L229.4,833.4L226.3,835.6ZM227.8,825L230.6,823L235,829.2L232.2,831.2ZM238.3,822.1L242.2,819.8L245,824.6L241.1,826.8ZM245.4,818.2L250.2,815.4L252.9,820.2L248.2,822.9ZM223.4,849L227.2,847.2L230.1,853L226.3,854.9ZM227.5,846.5L230.5,845L233.5,851.1L230.5,852.5ZM231.1,844.1L234.2,842.6L237.4,849L234.3,850.5ZM235.6,843.6L238.9,841.9L241.4,847L238.1,848.7ZM241.7,840.8L246,838.4L248.3,842.5L244,844.9ZM246.3,837.8L250.1,835.7L252.9,840.8L249.1,842.9ZM250.5,834.7L254.2,832.7L257.2,838.1L253.6,840.2ZM252.2,808.1L254.4,808.1L254.4,810.2L252.2,810.2ZM237.8,730L241.7,727.8L243.9,731.7L240,733.9ZM249.2,735.6L252.5,733.7L255.8,739.4L252.5,741.3ZM140.4,849.9L142.9,849.9L142.9,852.4L140.4,852.4ZM153.4,852.9L155.9,853.4L155,858.2L152.6,857.8ZM158.3,854.1L160.8,854.5L160.1,859L157.5,858.6ZM164.5,859.6L167.1,862.5L163.8,865.4L161.3,862.5ZM167.1,863.5L170.2,867L167.5,869.3L164.5,865.9ZM171.1,867.2L173.7,870.1L170.5,872.9L167.9,870ZM162.6,875.4L166.8,873L169.1,876.9L164.9,879.3ZM175.7,860L178.2,858.6L180.9,863.3L178.5,864.8ZM173,852.3L176.4,850.4L178.6,854.3L175.3,856.2ZM183.2,853.7L188,850.9L190.8,855.7L186,858.4ZM129.5,861.9L132.8,860L135.5,864.8L132.2,866.7ZM122,866.3L126,871.1L122.9,873.8L118.8,869ZM126.5,871.5L130.1,875.8L126.8,878.5L123.3,874.2ZM199.7,860.3L202.2,859.8L203.7,866.9L201.3,867.5ZM203.3,859.1L206.2,858.5L207.7,865.3L204.8,866ZM207.4,858.9L210.2,858.3L211.7,865.3L208.9,865.9ZM211.2,858.5L214.3,857.8L215.5,863.5L212.4,864.2ZM215.5,870.3L220.3,867.6L221.8,870.3L217.1,873.1ZM227.1,864.3L231.8,861.6L234.6,866.3L229.8,869.1ZM227.3,872.9L231.5,870.5L233.4,873.8L229.2,876.2ZM228.1,855.6L230.2,855.6L230.2,857.8L228.1,857.8ZM240.9,849L244.1,853.6L241.1,855.7L237.8,851.2ZM245.1,855.2L248,859.2L244.9,861.4L242,857.4ZM247.8,864.4L251.1,862.5L253.9,867.3L250.5,869.2ZM247.2,870.5L252.9,867.2L256.1,872.9L250.5,876.1ZM252.4,853.9L254.2,853.9L254.2,857.8L252.4,857.8ZM252,810.5L258.2,806.9L262.6,814.5L256.4,818.1ZM261.7,809.4L266.4,806.6L269.7,812.3L264.9,815ZM268.1,804.7L272,802.5L275.9,809.3L272,811.5ZM261.4,796.8L264.7,794.9L266.6,798.2L263.3,800.1ZM280.7,817.5L287.3,814.2L289.3,817.5L284.8,819.7L286.5,823.3L284,825ZM275.7,825.1L279,823.2L282.3,828.9L279,830.8ZM288.4,823.6L290.9,822.2L292.3,824.7L289.8,826.1ZM298.7,817L301.2,815.6L302.6,818L300.1,819.4ZM292.4,814L294.2,812.9L295.6,815.4L293.8,816.4ZM281,836.2L284.9,834L287.7,838.8L283.8,841ZM285.5,845.7L291.1,842.5L292.5,844.9L286.9,848.2ZM296.4,845.1L299.7,843.2L301.6,846.5L298.3,848.5ZM302.5,838.3L309.7,833.2L312.9,837.7L305.6,842.8ZM294.1,854.2L297.2,858.2L293.8,860.9L290.7,856.8ZM300,861.1L303.7,865.8L300,868.6L296.4,863.9ZM309.3,867.5L316.4,864.2L318.7,869.2L311.6,872.5ZM330,863.5L333.4,861.5L335.3,864.9L332,866.8ZM326.7,873.5L333.1,869L335.3,872.2L328.9,876.6ZM280.7,863.8L285.4,870.9L281.8,873.3L277.1,866.1ZM285.7,871.1L290.6,878.4L287.2,880.6L282.4,873.3ZM261.3,827.4L263.8,826L266,829.9L263.6,831.3ZM270.2,837.4L272.2,841.2L269.5,842.6L267.5,838.8ZM272.4,841.7L274.1,844.8L271.7,846.1L270,842.9ZM274.5,845.8L276,848.7L273.4,850.1L271.8,847.1ZM276.7,849.4L278.5,852.8L275.3,854.5L273.5,851ZM278.9,853.4L280.5,856.6L277.4,858.3L275.7,855.1ZM255.7,832.3L256.8,834.9L253.8,836.1L252.8,833.4ZM258.3,838.6L259.3,841.1L256.6,842.2L255.6,839.7ZM260.3,844.8L261.5,847.8L259,848.7L257.8,845.7ZM255,855.5L256.8,856.1L256.3,857.8L254.5,857.3ZM260.9,856.9L262.8,857.4L262.2,859.5L260.3,859ZM266.5,858.6L268.8,859.3L268.2,861.5L265.9,860.8ZM261.5,863.4L264.7,867.4L261.3,870.1L258.1,866.1ZM264.8,867.8L267.8,871.5L265.3,873.6L262.3,869.8ZM268.6,871.8L271.3,875.3L267.9,878L265.2,874.6ZM344.2,815.7L347.5,813.8L349.8,817.7L346.5,819.6ZM353.4,814.3L357.7,820L354.7,822.3L350.3,816.6ZM358.3,820.6L363.1,826.9L359.4,829.7L354.6,823.3ZM348.5,827.1L350.9,825.7L352.2,827.9L349.7,829.3ZM362.6,833.1L365.6,834.4L363.9,838.2L360.9,836.9ZM367.7,836L371.6,837.6L370,841.3L366.2,839.6ZM371.8,841.8L373.9,845.8L369.6,848.2L367.4,844.2ZM374.6,846.7L376.9,850.7L372.4,853.2L370.1,849.2ZM376.5,851.9L379,856.4L375.6,858.3L373.1,853.8ZM379.2,856.7L381.9,861.5L378.5,863.5L375.8,858.6ZM365.8,853.1L369.1,851.1L370.5,853.6L367.2,855.5ZM358.3,876.8L361.9,873.5L364.6,876.4L361,879.7ZM362.5,872.7L366.6,869L370.1,872.8L366,876.5ZM366.9,868.7L371.4,864.7L374.5,868.1L370.1,872.2ZM368.9,812.5L372.7,811.3L374.2,815.9L370.3,817.1ZM373.9,810.6L378,809.3L379.5,814.1L375.4,815.4ZM379.5,809.3L383.3,808.1L384.5,811.9L380.7,813.1ZM384.3,807.3L388.7,805.9L390.2,810.6L385.8,812ZM368.8,818.1L372.7,815.8L374.2,818.6L370.3,820.8ZM388.6,822.3L393.3,819.6L396.1,824.3L391.3,827.1ZM397.8,824.7L399.3,827.1L396.8,828.7L395.3,826.2ZM402.2,831.3L403.6,833.6L401.2,835.2L399.7,832.8ZM377.3,832.5L385.7,826.7L387.3,829.2L380.7,834.2L384,840L381.5,841.7ZM383.6,846L385.2,845L387.5,848.7L385.9,849.7ZM390.4,842.4L392.3,841.1L394.5,844.7L392.6,845.9ZM387.1,855L390.8,853.1L392.6,856.7L388.9,858.5ZM392.8,852.1L396.7,850.2L398.6,854L394.8,856ZM398.7,849L402.4,847.2L404.5,851.4L400.8,853.2ZM394.6,838.1L396.7,838.1L396.7,840.2L394.6,840.2ZM396.3,863.6L403.5,858.5L406.7,863.1L399.5,868.1ZM395.2,865.8L397.9,864.2L399.5,866.9L396.8,868.5ZM404,816.2L407.4,821.8L403.5,824.1L400.1,818.5ZM408.2,822.5L411.7,828.4L408.3,830.5L404.8,824.6ZM402.7,836.8L406.3,839.3L403.9,842.8L400.3,840.3ZM407.2,839.9L411.5,842.9L409,846.5L404.7,843.6ZM403.9,811L407.2,809L409.1,812.4L405.8,814.3ZM407.5,807.7L409.4,806.6L411.6,810.3L409.8,811.5ZM412,805.5L413.7,804.5L415.5,807.6L413.9,808.6ZM405.7,823.6L410.4,820.8L413.7,826.4L408.9,829.2ZM410.9,830.3L415.7,827.6L418.4,832.3L413.7,835.1ZM413.7,840.8L416.4,839.2L417.3,840.8L414.6,842.4ZM407.1,842.4L408.9,842.4L408.9,844.2L407.1,844.2ZM425.7,844.6L432.5,840.7L435.3,845.4L428.5,849.3ZM421.8,851.2L428,847.6L430.2,851.5L424,855.1ZM409,853.6L412.6,851L416.4,856.4L412.7,859ZM412.2,859.8L417.5,856.7L420.4,861.8L415.1,864.8ZM418.7,856.4L423,853.9L425.3,858.1L421,860.5ZM408.4,872.8L411.4,870.3L414.9,874.5L412,877ZM542.5,496.7L546.7,494.2L548.7,496.3L568.3,480.8L577.5,494.2L554.2,510.8L549.2,503.3L545,500.8ZM576.7,535.8L580.8,533.3L585.8,540.3L588.7,539.2L603.3,558.3L559.2,594.2L555.8,585.8L562.5,580L567.5,578.3L577.5,567.5L585.8,563.3L583.3,555.8L586.7,553.3L582.5,550L577.5,546.7L580,544.2ZM562.5,602.5L567.5,599.7L575.3,611.7L570.8,614.2ZM647.5,504.7L658.3,497.5L661.7,499.7L668.3,496.3L675,501.7L656.7,512.5ZM232.5,619.3L240.9,613.6L240.2,606.9L245.9,602.5L250.3,607.6L257.7,603.2L263.4,610.9L237.6,626ZM482.2,638.3L488,634.2L489.7,630L492.2,628.3L496.3,631.7L501.3,627.5L508,625L508.8,618.3L513.8,616.7L514.7,608.3L518,610.8L522.2,609.2L523.8,598.3L528,605.8L533,607.5L537.2,611.7L488,645ZM554.7,660L569.7,650.8L573.8,656.7L558.8,665Z"/>
</svg></body></html>
